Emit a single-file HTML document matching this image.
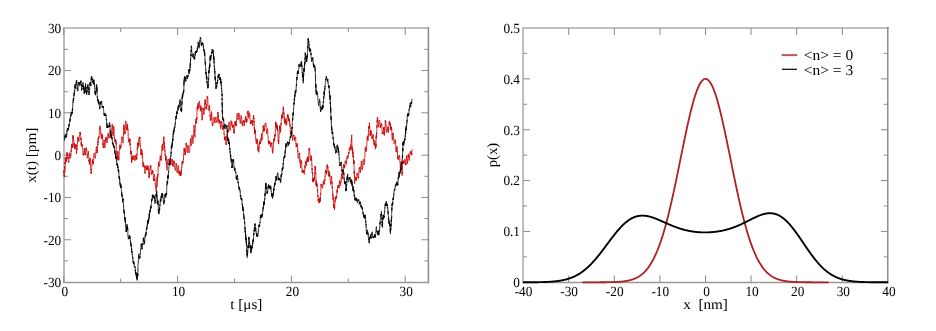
<!DOCTYPE html>
<html><head><meta charset="utf-8"><title>figure</title>
<style>html,body{margin:0;padding:0;background:#fff;width:936px;height:331px;overflow:hidden}svg{display:block}text{text-rendering:geometricPrecision}</style>
</head><body>
<svg width="936" height="331" viewBox="0 0 936 331" font-family="'Liberation Serif', 'DejaVu Serif', serif">
<line x1="64.00" y1="27.00" x2="64.00" y2="283.35" stroke="#bdbdbd" stroke-width="2"/>
<line x1="63.00" y1="28.00" x2="429.20" y2="28.00" stroke="#bebebe" stroke-width="2"/>
<line x1="428.40" y1="27.00" x2="428.40" y2="283.35" stroke="#8a8a8a" stroke-width="1.5"/>
<line x1="63.00" y1="282.55" x2="429.20" y2="282.55" stroke="#999999" stroke-width="1.5"/>
<line x1="63.80" y1="282.55" x2="63.80" y2="275.55" stroke="#8c8c8c" stroke-width="1"/>
<line x1="63.80" y1="28.00" x2="63.80" y2="35.00" stroke="#8c8c8c" stroke-width="1"/>
<line x1="120.70" y1="282.55" x2="120.70" y2="278.55" stroke="#8c8c8c" stroke-width="1"/>
<line x1="120.70" y1="28.00" x2="120.70" y2="32.00" stroke="#8c8c8c" stroke-width="1"/>
<line x1="177.60" y1="282.55" x2="177.60" y2="275.55" stroke="#8c8c8c" stroke-width="1"/>
<line x1="177.60" y1="28.00" x2="177.60" y2="35.00" stroke="#8c8c8c" stroke-width="1"/>
<line x1="234.50" y1="282.55" x2="234.50" y2="278.55" stroke="#8c8c8c" stroke-width="1"/>
<line x1="234.50" y1="28.00" x2="234.50" y2="32.00" stroke="#8c8c8c" stroke-width="1"/>
<line x1="291.40" y1="282.55" x2="291.40" y2="275.55" stroke="#8c8c8c" stroke-width="1"/>
<line x1="291.40" y1="28.00" x2="291.40" y2="35.00" stroke="#8c8c8c" stroke-width="1"/>
<line x1="348.30" y1="282.55" x2="348.30" y2="278.55" stroke="#8c8c8c" stroke-width="1"/>
<line x1="348.30" y1="28.00" x2="348.30" y2="32.00" stroke="#8c8c8c" stroke-width="1"/>
<line x1="405.20" y1="282.55" x2="405.20" y2="275.55" stroke="#8c8c8c" stroke-width="1"/>
<line x1="405.20" y1="28.00" x2="405.20" y2="35.00" stroke="#8c8c8c" stroke-width="1"/>
<line x1="64.00" y1="260.90" x2="68.00" y2="260.90" stroke="#8c8c8c" stroke-width="1"/>
<line x1="428.40" y1="260.90" x2="424.40" y2="260.90" stroke="#8c8c8c" stroke-width="1"/>
<line x1="64.00" y1="239.75" x2="71.00" y2="239.75" stroke="#8c8c8c" stroke-width="1"/>
<line x1="428.40" y1="239.75" x2="421.40" y2="239.75" stroke="#8c8c8c" stroke-width="1"/>
<line x1="64.00" y1="218.60" x2="68.00" y2="218.60" stroke="#8c8c8c" stroke-width="1"/>
<line x1="428.40" y1="218.60" x2="424.40" y2="218.60" stroke="#8c8c8c" stroke-width="1"/>
<line x1="64.00" y1="197.45" x2="71.00" y2="197.45" stroke="#8c8c8c" stroke-width="1"/>
<line x1="428.40" y1="197.45" x2="421.40" y2="197.45" stroke="#8c8c8c" stroke-width="1"/>
<line x1="64.00" y1="176.30" x2="68.00" y2="176.30" stroke="#8c8c8c" stroke-width="1"/>
<line x1="428.40" y1="176.30" x2="424.40" y2="176.30" stroke="#8c8c8c" stroke-width="1"/>
<line x1="64.00" y1="155.15" x2="71.00" y2="155.15" stroke="#8c8c8c" stroke-width="1"/>
<line x1="428.40" y1="155.15" x2="421.40" y2="155.15" stroke="#8c8c8c" stroke-width="1"/>
<line x1="64.00" y1="134.00" x2="68.00" y2="134.00" stroke="#8c8c8c" stroke-width="1"/>
<line x1="428.40" y1="134.00" x2="424.40" y2="134.00" stroke="#8c8c8c" stroke-width="1"/>
<line x1="64.00" y1="112.85" x2="71.00" y2="112.85" stroke="#8c8c8c" stroke-width="1"/>
<line x1="428.40" y1="112.85" x2="421.40" y2="112.85" stroke="#8c8c8c" stroke-width="1"/>
<line x1="64.00" y1="91.70" x2="68.00" y2="91.70" stroke="#8c8c8c" stroke-width="1"/>
<line x1="428.40" y1="91.70" x2="424.40" y2="91.70" stroke="#8c8c8c" stroke-width="1"/>
<line x1="64.00" y1="70.55" x2="71.00" y2="70.55" stroke="#8c8c8c" stroke-width="1"/>
<line x1="428.40" y1="70.55" x2="421.40" y2="70.55" stroke="#8c8c8c" stroke-width="1"/>
<line x1="64.00" y1="49.40" x2="68.00" y2="49.40" stroke="#8c8c8c" stroke-width="1"/>
<line x1="428.40" y1="49.40" x2="424.40" y2="49.40" stroke="#8c8c8c" stroke-width="1"/>
<line x1="523.10" y1="27.00" x2="523.10" y2="283.25" stroke="#bdbdbd" stroke-width="2"/>
<line x1="522.10" y1="28.00" x2="888.60" y2="28.00" stroke="#bebebe" stroke-width="2"/>
<line x1="887.80" y1="27.00" x2="887.80" y2="283.25" stroke="#8a8a8a" stroke-width="1.5"/>
<line x1="522.10" y1="282.45" x2="888.60" y2="282.45" stroke="#999999" stroke-width="1.5"/>
<line x1="568.70" y1="282.45" x2="568.70" y2="275.45" stroke="#8c8c8c" stroke-width="1"/>
<line x1="568.70" y1="28.00" x2="568.70" y2="35.00" stroke="#8c8c8c" stroke-width="1"/>
<line x1="614.30" y1="282.45" x2="614.30" y2="275.45" stroke="#8c8c8c" stroke-width="1"/>
<line x1="614.30" y1="28.00" x2="614.30" y2="35.00" stroke="#8c8c8c" stroke-width="1"/>
<line x1="659.90" y1="282.45" x2="659.90" y2="275.45" stroke="#8c8c8c" stroke-width="1"/>
<line x1="659.90" y1="28.00" x2="659.90" y2="35.00" stroke="#8c8c8c" stroke-width="1"/>
<line x1="705.50" y1="282.45" x2="705.50" y2="275.45" stroke="#8c8c8c" stroke-width="1"/>
<line x1="705.50" y1="28.00" x2="705.50" y2="35.00" stroke="#8c8c8c" stroke-width="1"/>
<line x1="751.10" y1="282.45" x2="751.10" y2="275.45" stroke="#8c8c8c" stroke-width="1"/>
<line x1="751.10" y1="28.00" x2="751.10" y2="35.00" stroke="#8c8c8c" stroke-width="1"/>
<line x1="796.70" y1="282.45" x2="796.70" y2="275.45" stroke="#8c8c8c" stroke-width="1"/>
<line x1="796.70" y1="28.00" x2="796.70" y2="35.00" stroke="#8c8c8c" stroke-width="1"/>
<line x1="842.30" y1="282.45" x2="842.30" y2="275.45" stroke="#8c8c8c" stroke-width="1"/>
<line x1="842.30" y1="28.00" x2="842.30" y2="35.00" stroke="#8c8c8c" stroke-width="1"/>
<line x1="523.10" y1="256.87" x2="527.10" y2="256.87" stroke="#8c8c8c" stroke-width="1"/>
<line x1="887.80" y1="256.87" x2="883.80" y2="256.87" stroke="#8c8c8c" stroke-width="1"/>
<line x1="523.10" y1="231.44" x2="530.10" y2="231.44" stroke="#8c8c8c" stroke-width="1"/>
<line x1="887.80" y1="231.44" x2="880.80" y2="231.44" stroke="#8c8c8c" stroke-width="1"/>
<line x1="523.10" y1="206.01" x2="527.10" y2="206.01" stroke="#8c8c8c" stroke-width="1"/>
<line x1="887.80" y1="206.01" x2="883.80" y2="206.01" stroke="#8c8c8c" stroke-width="1"/>
<line x1="523.10" y1="180.58" x2="530.10" y2="180.58" stroke="#8c8c8c" stroke-width="1"/>
<line x1="887.80" y1="180.58" x2="880.80" y2="180.58" stroke="#8c8c8c" stroke-width="1"/>
<line x1="523.10" y1="155.15" x2="527.10" y2="155.15" stroke="#8c8c8c" stroke-width="1"/>
<line x1="887.80" y1="155.15" x2="883.80" y2="155.15" stroke="#8c8c8c" stroke-width="1"/>
<line x1="523.10" y1="129.72" x2="530.10" y2="129.72" stroke="#8c8c8c" stroke-width="1"/>
<line x1="887.80" y1="129.72" x2="880.80" y2="129.72" stroke="#8c8c8c" stroke-width="1"/>
<line x1="523.10" y1="104.29" x2="527.10" y2="104.29" stroke="#8c8c8c" stroke-width="1"/>
<line x1="887.80" y1="104.29" x2="883.80" y2="104.29" stroke="#8c8c8c" stroke-width="1"/>
<line x1="523.10" y1="78.86" x2="530.10" y2="78.86" stroke="#8c8c8c" stroke-width="1"/>
<line x1="887.80" y1="78.86" x2="880.80" y2="78.86" stroke="#8c8c8c" stroke-width="1"/>
<line x1="523.10" y1="53.43" x2="527.10" y2="53.43" stroke="#8c8c8c" stroke-width="1"/>
<line x1="887.80" y1="53.43" x2="883.80" y2="53.43" stroke="#8c8c8c" stroke-width="1"/>
<polyline points="582.38,282.30 582.84,282.30 583.29,282.30 583.75,282.30 584.20,282.30 584.66,282.30 585.12,282.30 585.57,282.30 586.03,282.30 586.48,282.30 586.94,282.30 587.40,282.30 587.85,282.30 588.31,282.30 588.76,282.30 589.22,282.30 589.68,282.30 590.13,282.30 590.59,282.29 591.04,282.29 591.50,282.29 591.96,282.29 592.41,282.29 592.87,282.29 593.32,282.29 593.78,282.29 594.24,282.29 594.69,282.29 595.15,282.29 595.60,282.29 596.06,282.29 596.52,282.29 596.97,282.28 597.43,282.28 597.88,282.28 598.34,282.28 598.80,282.28 599.25,282.28 599.71,282.27 600.16,282.27 600.62,282.27 601.08,282.27 601.53,282.26 601.99,282.26 602.44,282.26 602.90,282.26 603.36,282.25 603.81,282.25 604.27,282.24 604.72,282.24 605.18,282.24 605.64,282.23 606.09,282.23 606.55,282.22 607.00,282.21 607.46,282.21 607.92,282.20 608.37,282.19 608.83,282.19 609.28,282.18 609.74,282.17 610.20,282.16 610.65,282.15 611.11,282.14 611.56,282.13 612.02,282.12 612.48,282.10 612.93,282.09 613.39,282.07 613.84,282.06 614.30,282.04 614.76,282.02 615.21,282.00 615.67,281.98 616.12,281.96 616.58,281.94 617.04,281.92 617.49,281.89 617.95,281.86 618.40,281.83 618.86,281.80 619.32,281.77 619.77,281.74 620.23,281.70 620.68,281.66 621.14,281.62 621.60,281.58 622.05,281.53 622.51,281.49 622.96,281.43 623.42,281.38 623.88,281.32 624.33,281.26 624.79,281.20 625.24,281.14 625.70,281.06 626.16,280.99 626.61,280.91 627.07,280.83 627.52,280.74 627.98,280.65 628.44,280.56 628.89,280.46 629.35,280.35 629.80,280.24 630.26,280.12 630.72,280.00 631.17,279.87 631.63,279.74 632.08,279.59 632.54,279.45 633.00,279.29 633.45,279.13 633.91,278.96 634.36,278.78 634.82,278.59 635.28,278.39 635.73,278.19 636.19,277.97 636.64,277.75 637.10,277.52 637.56,277.27 638.01,277.02 638.47,276.75 638.92,276.47 639.38,276.18 639.84,275.88 640.29,275.57 640.75,275.24 641.20,274.90 641.66,274.54 642.12,274.17 642.57,273.79 643.03,273.39 643.48,272.97 643.94,272.54 644.40,272.10 644.85,271.63 645.31,271.15 645.76,270.65 646.22,270.13 646.68,269.60 647.13,269.04 647.59,268.46 648.04,267.87 648.50,267.25 648.96,266.62 649.41,265.96 649.87,265.27 650.32,264.57 650.78,263.84 651.24,263.09 651.69,262.32 652.15,261.52 652.60,260.70 653.06,259.85 653.52,258.98 653.97,258.08 654.43,257.15 654.88,256.20 655.34,255.22 655.80,254.22 656.25,253.18 656.71,252.12 657.16,251.03 657.62,249.91 658.08,248.76 658.53,247.58 658.99,246.38 659.44,245.14 659.90,243.88 660.36,242.58 660.81,241.25 661.27,239.90 661.72,238.51 662.18,237.10 662.64,235.65 663.09,234.17 663.55,232.66 664.00,231.13 664.46,229.56 664.92,227.96 665.37,226.34 665.83,224.68 666.28,222.99 666.74,221.28 667.20,219.54 667.65,217.77 668.11,215.97 668.56,214.14 669.02,212.29 669.48,210.41 669.93,208.50 670.39,206.57 670.84,204.61 671.30,202.63 671.76,200.63 672.21,198.60 672.67,196.56 673.12,194.49 673.58,192.40 674.04,190.29 674.49,188.17 674.95,186.03 675.40,183.87 675.86,181.69 676.32,179.51 676.77,177.31 677.23,175.10 677.68,172.88 678.14,170.65 678.60,168.41 679.05,166.17 679.51,163.92 679.96,161.67 680.42,159.42 680.88,157.17 681.33,154.92 681.79,152.67 682.24,150.42 682.70,148.18 683.16,145.95 683.61,143.73 684.07,141.52 684.52,139.32 684.98,137.13 685.44,134.97 685.89,132.81 686.35,130.68 686.80,128.57 687.26,126.48 687.72,124.41 688.17,122.38 688.63,120.36 689.08,118.38 689.54,116.43 690.00,114.51 690.45,112.63 690.91,110.78 691.36,108.97 691.82,107.20 692.28,105.47 692.73,103.78 693.19,102.14 693.64,100.54 694.10,98.99 694.56,97.48 695.01,96.03 695.47,94.63 695.92,93.28 696.38,91.98 696.84,90.74 697.29,89.55 697.75,88.43 698.20,87.36 698.66,86.35 699.12,85.40 699.57,84.51 700.03,83.68 700.48,82.92 700.94,82.22 701.40,81.59 701.85,81.02 702.31,80.51 702.76,80.08 703.22,79.71 703.68,79.40 704.13,79.16 704.59,79.00 705.04,78.89 705.50,78.86 705.96,78.89 706.41,79.00 706.87,79.16 707.32,79.40 707.78,79.71 708.24,80.08 708.69,80.51 709.15,81.02 709.60,81.59 710.06,82.22 710.52,82.92 710.97,83.68 711.43,84.51 711.88,85.40 712.34,86.35 712.80,87.36 713.25,88.43 713.71,89.55 714.16,90.74 714.62,91.98 715.08,93.28 715.53,94.63 715.99,96.03 716.44,97.48 716.90,98.99 717.36,100.54 717.81,102.14 718.27,103.78 718.72,105.47 719.18,107.20 719.64,108.97 720.09,110.78 720.55,112.63 721.00,114.51 721.46,116.43 721.92,118.38 722.37,120.36 722.83,122.38 723.28,124.41 723.74,126.48 724.20,128.57 724.65,130.68 725.11,132.81 725.56,134.97 726.02,137.13 726.48,139.32 726.93,141.52 727.39,143.73 727.84,145.95 728.30,148.18 728.76,150.42 729.21,152.67 729.67,154.92 730.12,157.17 730.58,159.42 731.04,161.67 731.49,163.92 731.95,166.17 732.40,168.41 732.86,170.65 733.32,172.88 733.77,175.10 734.23,177.31 734.68,179.51 735.14,181.69 735.60,183.87 736.05,186.03 736.51,188.17 736.96,190.29 737.42,192.40 737.88,194.49 738.33,196.56 738.79,198.60 739.24,200.63 739.70,202.63 740.16,204.61 740.61,206.57 741.07,208.50 741.52,210.41 741.98,212.29 742.44,214.14 742.89,215.97 743.35,217.77 743.80,219.54 744.26,221.28 744.72,222.99 745.17,224.68 745.63,226.34 746.08,227.96 746.54,229.56 747.00,231.13 747.45,232.66 747.91,234.17 748.36,235.65 748.82,237.10 749.28,238.51 749.73,239.90 750.19,241.25 750.64,242.58 751.10,243.88 751.56,245.14 752.01,246.38 752.47,247.58 752.92,248.76 753.38,249.91 753.84,251.03 754.29,252.12 754.75,253.18 755.20,254.22 755.66,255.22 756.12,256.20 756.57,257.15 757.03,258.08 757.48,258.98 757.94,259.85 758.40,260.70 758.85,261.52 759.31,262.32 759.76,263.09 760.22,263.84 760.68,264.57 761.13,265.27 761.59,265.96 762.04,266.62 762.50,267.25 762.96,267.87 763.41,268.46 763.87,269.04 764.32,269.60 764.78,270.13 765.24,270.65 765.69,271.15 766.15,271.63 766.60,272.10 767.06,272.54 767.52,272.97 767.97,273.39 768.43,273.79 768.88,274.17 769.34,274.54 769.80,274.90 770.25,275.24 770.71,275.57 771.16,275.88 771.62,276.18 772.08,276.47 772.53,276.75 772.99,277.02 773.44,277.27 773.90,277.52 774.36,277.75 774.81,277.97 775.27,278.19 775.72,278.39 776.18,278.59 776.64,278.78 777.09,278.96 777.55,279.13 778.00,279.29 778.46,279.45 778.92,279.59 779.37,279.74 779.83,279.87 780.28,280.00 780.74,280.12 781.20,280.24 781.65,280.35 782.11,280.46 782.56,280.56 783.02,280.65 783.48,280.74 783.93,280.83 784.39,280.91 784.84,280.99 785.30,281.06 785.76,281.14 786.21,281.20 786.67,281.26 787.12,281.32 787.58,281.38 788.04,281.43 788.49,281.49 788.95,281.53 789.40,281.58 789.86,281.62 790.32,281.66 790.77,281.70 791.23,281.74 791.68,281.77 792.14,281.80 792.60,281.83 793.05,281.86 793.51,281.89 793.96,281.92 794.42,281.94 794.88,281.96 795.33,281.98 795.79,282.00 796.24,282.02 796.70,282.04 797.16,282.06 797.61,282.07 798.07,282.09 798.52,282.10 798.98,282.12 799.44,282.13 799.89,282.14 800.35,282.15 800.80,282.16 801.26,282.17 801.72,282.18 802.17,282.19 802.63,282.19 803.08,282.20 803.54,282.21 804.00,282.21 804.45,282.22 804.91,282.23 805.36,282.23 805.82,282.24 806.28,282.24 806.73,282.24 807.19,282.25 807.64,282.25 808.10,282.26 808.56,282.26 809.01,282.26 809.47,282.26 809.92,282.27 810.38,282.27 810.84,282.27 811.29,282.27 811.75,282.28 812.20,282.28 812.66,282.28 813.12,282.28 813.57,282.28 814.03,282.28 814.48,282.29 814.94,282.29 815.40,282.29 815.85,282.29 816.31,282.29 816.76,282.29 817.22,282.29 817.68,282.29 818.13,282.29 818.59,282.29 819.04,282.29 819.50,282.29 819.96,282.29 820.41,282.29 820.87,282.30 821.32,282.30 821.78,282.30 822.24,282.30 822.69,282.30 823.15,282.30 823.60,282.30 824.06,282.30 824.52,282.30 824.97,282.30 825.43,282.30 825.88,282.30 826.34,282.30 826.80,282.30 827.25,282.30 827.71,282.30 828.16,282.30 828.62,282.30" fill="none" stroke="#ac2222" stroke-width="1.8" stroke-linejoin="round" />
<polyline points="523.10,282.29 523.56,282.28 524.01,282.28 524.47,282.28 524.92,282.28 525.38,282.28 525.84,282.28 526.29,282.28 526.75,282.28 527.20,282.27 527.66,282.27 528.12,282.27 528.57,282.27 529.03,282.27 529.48,282.26 529.94,282.26 530.40,282.26 530.85,282.25 531.31,282.25 531.76,282.25 532.22,282.25 532.68,282.24 533.13,282.24 533.59,282.23 534.04,282.23 534.50,282.22 534.96,282.22 535.41,282.21 535.87,282.21 536.32,282.20 536.78,282.20 537.24,282.19 537.69,282.18 538.15,282.18 538.60,282.17 539.06,282.16 539.52,282.15 539.97,282.14 540.43,282.13 540.88,282.12 541.34,282.11 541.80,282.10 542.25,282.09 542.71,282.08 543.16,282.06 543.62,282.05 544.08,282.03 544.53,282.02 544.99,282.00 545.44,281.99 545.90,281.97 546.36,281.95 546.81,281.93 547.27,281.91 547.72,281.89 548.18,281.86 548.64,281.84 549.09,281.81 549.55,281.79 550.00,281.76 550.46,281.73 550.92,281.70 551.37,281.67 551.83,281.63 552.28,281.60 552.74,281.56 553.20,281.52 553.65,281.48 554.11,281.44 554.56,281.40 555.02,281.35 555.48,281.30 555.93,281.25 556.39,281.20 556.84,281.15 557.30,281.09 557.76,281.03 558.21,280.97 558.67,280.91 559.12,280.84 559.58,280.77 560.04,280.70 560.49,280.62 560.95,280.55 561.40,280.46 561.86,280.38 562.32,280.29 562.77,280.20 563.23,280.11 563.68,280.01 564.14,279.91 564.60,279.80 565.05,279.69 565.51,279.58 565.96,279.46 566.42,279.34 566.88,279.22 567.33,279.09 567.79,278.95 568.24,278.82 568.70,278.67 569.16,278.52 569.61,278.37 570.07,278.21 570.52,278.05 570.98,277.88 571.44,277.71 571.89,277.53 572.35,277.34 572.80,277.15 573.26,276.96 573.72,276.76 574.17,276.55 574.63,276.34 575.08,276.12 575.54,275.89 576.00,275.66 576.45,275.42 576.91,275.18 577.36,274.92 577.82,274.67 578.28,274.40 578.73,274.13 579.19,273.85 579.64,273.57 580.10,273.28 580.56,272.98 581.01,272.67 581.47,272.36 581.92,272.04 582.38,271.71 582.84,271.38 583.29,271.03 583.75,270.68 584.20,270.33 584.66,269.96 585.12,269.59 585.57,269.21 586.03,268.83 586.48,268.43 586.94,268.03 587.40,267.62 587.85,267.21 588.31,266.78 588.76,266.35 589.22,265.92 589.68,265.47 590.13,265.02 590.59,264.56 591.04,264.10 591.50,263.62 591.96,263.14 592.41,262.66 592.87,262.16 593.32,261.66 593.78,261.16 594.24,260.65 594.69,260.13 595.15,259.60 595.60,259.07 596.06,258.53 596.52,257.99 596.97,257.45 597.43,256.89 597.88,256.33 598.34,255.77 598.80,255.20 599.25,254.63 599.71,254.06 600.16,253.48 600.62,252.89 601.08,252.30 601.53,251.71 601.99,251.12 602.44,250.52 602.90,249.92 603.36,249.31 603.81,248.71 604.27,248.10 604.72,247.49 605.18,246.88 605.64,246.27 606.09,245.66 606.55,245.04 607.00,244.43 607.46,243.82 607.92,243.20 608.37,242.59 608.83,241.98 609.28,241.37 609.74,240.76 610.20,240.15 610.65,239.55 611.11,238.94 611.56,238.34 612.02,237.74 612.48,237.15 612.93,236.56 613.39,235.97 613.84,235.39 614.30,234.81 614.76,234.23 615.21,233.66 615.67,233.10 616.12,232.54 616.58,231.99 617.04,231.44 617.49,230.90 617.95,230.36 618.40,229.84 618.86,229.32 619.32,228.80 619.77,228.30 620.23,227.80 620.68,227.31 621.14,226.83 621.60,226.35 622.05,225.89 622.51,225.43 622.96,224.99 623.42,224.55 623.88,224.12 624.33,223.70 624.79,223.30 625.24,222.90 625.70,222.51 626.16,222.13 626.61,221.76 627.07,221.40 627.52,221.05 627.98,220.72 628.44,220.39 628.89,220.08 629.35,219.77 629.80,219.48 630.26,219.19 630.72,218.92 631.17,218.66 631.63,218.41 632.08,218.17 632.54,217.94 633.00,217.73 633.45,217.52 633.91,217.33 634.36,217.14 634.82,216.97 635.28,216.81 635.73,216.66 636.19,216.51 636.64,216.38 637.10,216.27 637.56,216.16 638.01,216.06 638.47,215.97 638.92,215.89 639.38,215.82 639.84,215.77 640.29,215.72 640.75,215.68 641.20,215.65 641.66,215.63 642.12,215.62 642.57,215.62 643.03,215.63 643.48,215.64 643.94,215.67 644.40,215.70 644.85,215.74 645.31,215.79 645.76,215.85 646.22,215.91 646.68,215.98 647.13,216.06 647.59,216.15 648.04,216.24 648.50,216.34 648.96,216.45 649.41,216.56 649.87,216.68 650.32,216.80 650.78,216.93 651.24,217.06 651.69,217.20 652.15,217.35 652.60,217.50 653.06,217.65 653.52,217.81 653.97,217.97 654.43,218.14 654.88,218.31 655.34,218.48 655.80,218.66 656.25,218.84 656.71,219.02 657.16,219.20 657.62,219.39 658.08,219.58 658.53,219.77 658.99,219.97 659.44,220.16 659.90,220.36 660.36,220.56 660.81,220.76 661.27,220.96 661.72,221.16 662.18,221.36 662.64,221.57 663.09,221.77 663.55,221.97 664.00,222.18 664.46,222.38 664.92,222.59 665.37,222.79 665.83,222.99 666.28,223.19 666.74,223.40 667.20,223.60 667.65,223.80 668.11,224.00 668.56,224.19 669.02,224.39 669.48,224.59 669.93,224.78 670.39,224.97 670.84,225.16 671.30,225.35 671.76,225.54 672.21,225.73 672.67,225.91 673.12,226.09 673.58,226.27 674.04,226.45 674.49,226.63 674.95,226.80 675.40,226.97 675.86,227.14 676.32,227.31 676.77,227.47 677.23,227.63 677.68,227.79 678.14,227.95 678.60,228.10 679.05,228.26 679.51,228.40 679.96,228.55 680.42,228.69 680.88,228.84 681.33,228.97 681.79,229.11 682.24,229.24 682.70,229.37 683.16,229.50 683.61,229.63 684.07,229.75 684.52,229.87 684.98,229.98 685.44,230.10 685.89,230.21 686.35,230.32 686.80,230.42 687.26,230.52 687.72,230.62 688.17,230.72 688.63,230.82 689.08,230.91 689.54,231.00 690.00,231.08 690.45,231.17 690.91,231.25 691.36,231.32 691.82,231.40 692.28,231.47 692.73,231.54 693.19,231.61 693.64,231.67 694.10,231.73 694.56,231.79 695.01,231.85 695.47,231.90 695.92,231.95 696.38,232.00 696.84,232.04 697.29,232.09 697.75,232.13 698.20,232.16 698.66,232.20 699.12,232.23 699.57,232.26 700.03,232.29 700.48,232.31 700.94,232.34 701.40,232.36 701.85,232.37 702.31,232.39 702.76,232.40 703.22,232.41 703.68,232.42 704.13,232.42 704.59,232.42 705.04,232.42 705.50,232.42 705.96,232.42 706.41,232.41 706.87,232.40 707.32,232.39 707.78,232.37 708.24,232.36 708.69,232.34 709.15,232.31 709.60,232.29 710.06,232.26 710.52,232.24 710.97,232.20 711.43,232.17 711.88,232.13 712.34,232.10 712.80,232.06 713.25,232.01 713.71,231.97 714.16,231.92 714.62,231.87 715.08,231.82 715.53,231.76 715.99,231.70 716.44,231.64 716.90,231.58 717.36,231.51 717.81,231.45 718.27,231.38 718.72,231.30 719.18,231.23 719.64,231.15 720.09,231.07 720.55,230.98 721.00,230.90 721.46,230.81 721.92,230.72 722.37,230.62 722.83,230.53 723.28,230.43 723.74,230.32 724.20,230.22 724.65,230.11 725.11,230.00 725.56,229.88 726.02,229.77 726.48,229.65 726.93,229.53 727.39,229.40 727.84,229.27 728.30,229.14 728.76,229.01 729.21,228.87 729.67,228.73 730.12,228.59 730.58,228.44 731.04,228.29 731.49,228.14 731.95,227.98 732.40,227.83 732.86,227.67 733.32,227.50 733.77,227.34 734.23,227.17 734.68,226.99 735.14,226.82 735.60,226.64 736.05,226.46 736.51,226.28 736.96,226.09 737.42,225.90 737.88,225.71 738.33,225.52 738.79,225.32 739.24,225.12 739.70,224.92 740.16,224.72 740.61,224.51 741.07,224.30 741.52,224.09 741.98,223.88 742.44,223.66 742.89,223.45 743.35,223.23 743.80,223.01 744.26,222.79 744.72,222.56 745.17,222.34 745.63,222.11 746.08,221.89 746.54,221.66 747.00,221.43 747.45,221.20 747.91,220.97 748.36,220.74 748.82,220.51 749.28,220.28 749.73,220.05 750.19,219.82 750.64,219.59 751.10,219.36 751.56,219.13 752.01,218.90 752.47,218.67 752.92,218.45 753.38,218.22 753.84,218.00 754.29,217.78 754.75,217.56 755.20,217.35 755.66,217.14 756.12,216.93 756.57,216.72 757.03,216.52 757.48,216.32 757.94,216.12 758.40,215.93 758.85,215.74 759.31,215.56 759.76,215.38 760.22,215.21 760.68,215.04 761.13,214.88 761.59,214.72 762.04,214.57 762.50,214.43 762.96,214.29 763.41,214.16 763.87,214.04 764.32,213.92 764.78,213.81 765.24,213.71 765.69,213.62 766.15,213.54 766.60,213.46 767.06,213.39 767.52,213.34 767.97,213.29 768.43,213.25 768.88,213.22 769.34,213.20 769.80,213.20 770.25,213.20 770.71,213.21 771.16,213.24 771.62,213.27 772.08,213.32 772.53,213.37 772.99,213.44 773.44,213.52 773.90,213.62 774.36,213.72 774.81,213.84 775.27,213.97 775.72,214.11 776.18,214.26 776.64,214.43 777.09,214.60 777.55,214.79 778.00,215.00 778.46,215.22 778.92,215.44 779.37,215.69 779.83,215.94 780.28,216.21 780.74,216.49 781.20,216.78 781.65,217.09 782.11,217.41 782.56,217.74 783.02,218.08 783.48,218.44 783.93,218.81 784.39,219.19 784.84,219.58 785.30,219.99 785.76,220.41 786.21,220.83 786.67,221.28 787.12,221.73 787.58,222.19 788.04,222.66 788.49,223.15 788.95,223.64 789.40,224.15 789.86,224.67 790.32,225.19 790.77,225.73 791.23,226.27 791.68,226.82 792.14,227.39 792.60,227.96 793.05,228.54 793.51,229.12 793.96,229.72 794.42,230.32 794.88,230.93 795.33,231.54 795.79,232.16 796.24,232.79 796.70,233.42 797.16,234.06 797.61,234.70 798.07,235.35 798.52,236.00 798.98,236.65 799.44,237.31 799.89,237.97 800.35,238.63 800.80,239.30 801.26,239.97 801.72,240.64 802.17,241.31 802.63,241.98 803.08,242.65 803.54,243.32 804.00,243.99 804.45,244.66 804.91,245.33 805.36,246.00 805.82,246.67 806.28,247.34 806.73,248.00 807.19,248.66 807.64,249.32 808.10,249.97 808.56,250.62 809.01,251.27 809.47,251.91 809.92,252.55 810.38,253.19 810.84,253.82 811.29,254.44 811.75,255.06 812.20,255.67 812.66,256.28 813.12,256.88 813.57,257.48 814.03,258.07 814.48,258.65 814.94,259.23 815.40,259.79 815.85,260.36 816.31,260.91 816.76,261.46 817.22,262.00 817.68,262.53 818.13,263.05 818.59,263.57 819.04,264.07 819.50,264.57 819.96,265.06 820.41,265.55 820.87,266.02 821.32,266.49 821.78,266.95 822.24,267.39 822.69,267.84 823.15,268.27 823.60,268.69 824.06,269.11 824.52,269.51 824.97,269.91 825.43,270.30 825.88,270.68 826.34,271.06 826.80,271.42 827.25,271.78 827.71,272.12 828.16,272.46 828.62,272.79 829.08,273.12 829.53,273.43 829.99,273.74 830.44,274.04 830.90,274.33 831.36,274.61 831.81,274.89 832.27,275.16 832.72,275.42 833.18,275.67 833.64,275.92 834.09,276.16 834.55,276.39 835.00,276.61 835.46,276.83 835.92,277.04 836.37,277.25 836.83,277.45 837.28,277.64 837.74,277.83 838.20,278.01 838.65,278.18 839.11,278.35 839.56,278.51 840.02,278.67 840.48,278.82 840.93,278.97 841.39,279.11 841.84,279.25 842.30,279.38 842.76,279.51 843.21,279.63 843.67,279.75 844.12,279.86 844.58,279.97 845.04,280.08 845.49,280.18 845.95,280.28 846.40,280.37 846.86,280.46 847.32,280.54 847.77,280.63 848.23,280.71 848.68,280.78 849.14,280.86 849.60,280.93 850.05,280.99 850.51,281.06 850.96,281.12 851.42,281.18 851.88,281.23 852.33,281.29 852.79,281.34 853.24,281.39 853.70,281.43 854.16,281.48 854.61,281.52 855.07,281.56 855.52,281.60 855.98,281.64 856.44,281.67 856.89,281.71 857.35,281.74 857.80,281.77 858.26,281.80 858.72,281.83 859.17,281.85 859.63,281.88 860.08,281.90 860.54,281.92 861.00,281.94 861.45,281.96 861.91,281.98 862.36,282.00 862.82,282.02 863.28,282.04 863.73,282.05 864.19,282.07 864.64,282.08 865.10,282.09 865.56,282.10 866.01,282.12 866.47,282.13 866.92,282.14 867.38,282.15 867.84,282.16 868.29,282.17 868.75,282.17 869.20,282.18 869.66,282.19 870.12,282.20 870.57,282.20 871.03,282.21 871.48,282.22 871.94,282.22 872.40,282.23 872.85,282.23 873.31,282.24 873.76,282.24 874.22,282.24 874.68,282.25 875.13,282.25 875.59,282.25 876.04,282.26 876.50,282.26 876.96,282.26 877.41,282.27 877.87,282.27 878.32,282.27 878.78,282.27 879.24,282.27 879.69,282.28 880.15,282.28 880.60,282.28 881.06,282.28 881.52,282.28 881.97,282.28 882.43,282.28 882.88,282.29 883.34,282.29 883.80,282.29 884.25,282.29 884.71,282.29 885.16,282.29 885.62,282.29 886.08,282.29 886.53,282.29 886.99,282.29 887.44,282.29 887.90,282.29" fill="none" stroke="#000" stroke-width="1.9" stroke-linejoin="round" />
<polyline points="63.50,170.30 63.57,170.75 63.64,171.88 63.71,170.85 63.79,173.15 63.86,172.55 63.93,173.13 64.00,175.44 64.07,174.81 64.14,175.75 64.21,175.96 64.29,177.21 64.36,175.42 64.43,174.96 64.50,176.35 64.52,175.00 64.54,174.69 64.56,173.74 64.59,173.64 64.61,172.21 64.63,172.23 64.65,171.46 64.67,170.78 64.69,170.18 64.71,170.12 64.73,170.92 64.76,172.00 64.78,170.42 64.80,168.03 64.82,166.73 64.84,169.38 64.86,167.27 64.88,167.14 64.90,167.37 64.93,166.57 64.95,166.01 64.97,166.78 64.99,165.72 65.01,165.61 65.03,163.87 65.05,162.81 65.07,163.35 65.10,162.28 65.12,163.38 65.14,163.44 65.16,163.95 65.18,163.78 65.20,164.26 65.22,161.85 65.24,162.08 65.27,162.54 65.29,160.51 65.31,159.33 65.33,159.47 65.35,157.68 65.37,159.08 65.39,158.56 65.41,158.32 65.44,157.50 65.46,157.87 65.48,159.70 65.50,158.94 65.55,159.10 65.60,159.42 65.65,158.76 65.70,159.27 65.75,159.07 65.80,158.63 65.85,161.02 65.90,161.14 65.95,161.41 66.00,161.27 66.05,159.82 66.10,161.98 66.15,160.90 66.20,160.79 66.25,160.02 66.30,161.30 66.35,161.32 66.40,160.34 66.45,159.89 66.50,157.22 66.55,158.02 66.60,158.48 66.65,157.40 66.70,156.54 66.75,154.90 66.80,152.97 66.86,152.26 66.91,151.94 66.97,154.16 67.02,154.15 67.08,154.27 67.13,153.54 67.19,153.82 67.24,155.36 67.30,154.93 67.36,154.30 67.41,154.30 67.47,154.91 67.52,154.55 67.58,154.27 67.63,153.51 67.69,154.31 67.74,155.74 67.80,158.54 67.86,158.71 67.91,157.63 67.97,158.87 68.02,156.56 68.08,157.99 68.13,158.54 68.19,159.48 68.24,160.36 68.30,161.49 68.36,161.71 68.42,161.49 68.48,162.50 68.54,162.50 68.60,162.50 68.66,162.50 68.72,162.50 68.78,162.30 68.84,162.50 68.90,162.50 68.96,160.86 69.02,160.49 69.08,159.91 69.14,158.36 69.20,157.12 69.26,155.52 69.32,155.09 69.38,155.61 69.44,152.81 69.50,153.40 69.59,152.90 69.68,154.01 69.78,153.44 69.87,155.10 69.96,155.42 70.05,155.19 70.14,157.37 70.23,158.20 70.32,158.20 70.42,157.16 70.51,157.36 70.60,156.95 70.63,157.88 70.67,156.78 70.70,156.15 70.74,155.48 70.77,155.79 70.81,154.77 70.84,154.46 70.88,154.93 70.91,153.25 70.94,152.75 70.98,152.88 71.01,152.60 71.05,152.19 71.08,151.40 71.12,150.82 71.15,151.58 71.18,150.45 71.22,151.41 71.25,150.61 71.29,149.61 71.32,149.90 71.36,150.14 71.39,148.75 71.42,146.98 71.46,147.19 71.49,146.91 71.53,146.79 71.56,148.40 71.60,148.20 71.63,145.05 71.67,145.98 71.70,145.50 71.73,146.79 71.77,147.06 71.80,145.85 71.84,145.68 71.87,144.77 71.91,143.78 71.94,144.75 71.97,145.68 72.01,145.00 72.04,146.41 72.08,144.74 72.11,145.50 72.15,146.47 72.18,146.51 72.22,146.16 72.25,146.27 72.28,148.04 72.32,147.29 72.35,145.89 72.39,146.56 72.42,144.41 72.46,144.82 72.49,144.77 72.52,143.24 72.56,142.15 72.59,141.81 72.63,141.12 72.66,139.35 72.70,137.60 72.73,138.38 72.77,138.42 72.80,137.11 72.86,135.85 72.91,135.23 72.97,136.18 73.03,135.91 73.09,137.14 73.14,136.31 73.20,136.60 73.26,137.91 73.32,136.77 73.38,138.86 73.43,139.01 73.49,139.53 73.55,138.78 73.60,140.98 73.66,140.73 73.72,141.00 73.78,141.18 73.83,142.86 73.89,143.79 73.95,144.19 74.01,146.13 74.06,147.36 74.12,146.39 74.18,144.73 74.24,145.50 74.30,142.76 74.35,144.87 74.41,144.58 74.47,146.06 74.52,146.24 74.58,147.02 74.64,147.10 74.70,148.00 74.75,149.10 74.81,148.40 74.87,147.04 74.93,146.58 74.98,147.29 75.04,148.43 75.10,147.05 75.16,146.76 75.22,145.73 75.29,147.08 75.35,146.66 75.41,145.24 75.47,147.33 75.54,144.56 75.60,144.11 75.66,144.10 75.72,145.36 75.79,144.55 75.85,144.77 75.91,146.61 75.97,147.47 76.04,147.79 76.10,148.11 76.16,147.83 76.22,146.85 76.29,148.21 76.35,148.37 76.41,150.34 76.47,151.80 76.54,153.94 76.60,153.85 76.63,153.16 76.67,152.80 76.70,151.62 76.74,151.61 76.77,149.33 76.80,148.22 76.84,147.90 76.87,150.06 76.91,147.82 76.94,146.63 76.97,146.17 77.01,145.20 77.04,145.31 77.08,144.68 77.11,145.58 77.15,145.79 77.18,146.54 77.21,145.40 77.25,145.53 77.28,144.66 77.32,144.50 77.35,143.98 77.38,143.89 77.42,143.06 77.45,143.36 77.49,143.84 77.52,143.41 77.55,142.49 77.59,141.15 77.62,141.88 77.66,141.96 77.69,141.09 77.72,140.60 77.76,138.39 77.79,139.24 77.83,138.81 77.86,138.33 77.90,139.17 77.93,138.39 77.96,138.46 78.00,138.75 78.03,137.27 78.07,136.69 78.10,137.90 78.19,140.32 78.27,139.56 78.36,139.64 78.44,141.50 78.53,141.50 78.61,141.50 78.70,141.50 78.78,141.50 78.87,141.50 78.95,141.50 79.04,141.50 79.12,140.96 79.21,140.19 79.29,138.50 79.38,137.58 79.46,136.51 79.55,135.00 79.63,134.42 79.72,134.09 79.80,133.52 79.89,132.23 79.97,133.44 80.06,132.78 80.14,132.00 80.23,132.00 80.31,133.03 80.40,134.04 80.44,134.17 80.48,133.04 80.51,134.03 80.55,134.69 80.59,133.72 80.62,134.47 80.66,135.75 80.70,135.81 80.74,137.54 80.78,137.72 80.81,139.77 80.85,139.36 80.89,138.89 80.93,138.41 80.96,139.52 81.00,138.45 81.04,139.73 81.08,140.25 81.11,141.00 81.15,142.19 81.19,142.82 81.23,145.28 81.26,143.30 81.30,142.76 81.34,143.39 81.38,143.92 81.41,143.63 81.45,141.91 81.49,142.36 81.53,143.00 81.56,144.13 81.60,144.51 81.64,145.59 81.68,145.41 81.71,146.56 81.75,146.18 81.79,146.31 81.83,145.68 81.86,144.65 81.90,146.03 81.98,145.70 82.05,145.00 82.13,144.10 82.21,144.36 82.28,144.81 82.36,145.34 82.44,147.21 82.51,147.52 82.59,147.49 82.67,147.52 82.74,148.91 82.82,148.92 82.90,151.91 82.97,152.86 83.05,153.39 83.13,155.15 83.20,155.20 83.28,154.20 83.36,155.01 83.43,155.20 83.51,155.20 83.59,155.10 83.66,155.20 83.74,155.20 83.82,152.92 83.89,154.96 83.97,154.33 84.05,151.15 84.12,151.42 84.20,151.04 84.29,149.50 84.38,148.37 84.48,149.93 84.57,149.71 84.66,150.82 84.75,153.04 84.84,153.28 84.94,153.75 85.03,152.90 85.12,153.10 85.21,154.08 85.30,154.61 85.40,154.06 85.49,154.90 85.58,152.99 85.67,150.20 85.76,148.69 85.86,149.45 85.95,149.48 86.04,147.93 86.13,148.02 86.22,149.21 86.32,147.75 86.41,148.60 86.50,148.52 86.58,150.57 86.66,150.84 86.74,150.20 86.81,152.40 86.89,152.94 86.97,154.39 87.05,156.77 87.13,158.20 87.21,158.20 87.29,158.20 87.36,158.20 87.44,157.71 87.52,156.64 87.60,156.57 87.68,154.79 87.76,155.41 87.84,155.17 87.91,155.25 87.99,154.79 88.07,153.63 88.15,154.30 88.23,153.24 88.31,151.16 88.39,151.45 88.46,153.74 88.54,153.81 88.62,154.57 88.70,154.96 88.74,155.46 88.79,158.84 88.83,159.66 88.87,161.00 88.92,160.24 88.96,161.07 89.00,161.37 89.05,161.70 89.09,161.63 89.13,160.15 89.18,160.68 89.22,161.88 89.26,162.14 89.31,162.58 89.35,164.41 89.39,164.17 89.44,164.01 89.48,163.84 89.52,162.67 89.57,164.22 89.61,162.88 89.65,162.13 89.70,161.71 89.74,161.45 89.78,162.93 89.83,161.88 89.87,160.60 89.92,159.37 89.96,158.64 90.00,158.60 90.05,159.30 90.09,160.09 90.13,159.45 90.18,159.47 90.22,157.90 90.26,159.63 90.31,159.99 90.35,162.20 90.39,162.97 90.44,163.45 90.48,164.75 90.52,166.80 90.57,167.57 90.61,168.55 90.65,169.63 90.70,169.79 90.74,169.73 90.78,169.11 90.83,171.78 90.87,171.87 90.91,172.45 90.96,172.04 91.00,172.64 91.05,172.11 91.10,172.51 91.15,173.12 91.20,173.79 91.25,173.64 91.30,173.01 91.35,172.70 91.40,172.38 91.45,172.86 91.50,172.08 91.55,170.25 91.60,169.28 91.65,167.59 91.70,167.42 91.75,167.11 91.80,165.95 91.85,165.25 91.90,164.12 91.95,163.95 92.00,162.85 92.05,162.51 92.10,161.97 92.15,160.70 92.20,160.70 92.25,160.70 92.30,160.70 92.35,160.70 92.40,160.70 92.45,160.70 92.50,161.12 92.57,162.48 92.64,162.05 92.71,159.28 92.78,162.06 92.84,162.46 92.91,164.52 92.98,164.69 93.05,162.92 93.12,163.50 93.19,163.19 93.26,162.26 93.33,162.03 93.39,161.77 93.46,162.86 93.53,161.28 93.60,160.60 93.67,159.05 93.74,157.07 93.81,155.59 93.88,154.04 93.94,153.20 94.01,153.20 94.08,153.20 94.15,153.20 94.22,153.20 94.29,153.20 94.36,153.20 94.42,153.20 94.49,153.20 94.56,153.73 94.63,154.83 94.70,155.28 94.77,157.03 94.84,158.20 94.91,158.20 94.98,158.20 95.04,158.20 95.11,158.20 95.18,158.20 95.25,158.20 95.32,158.20 95.39,158.20 95.46,157.28 95.53,157.22 95.60,155.64 95.66,155.02 95.73,155.07 95.80,151.96 95.87,152.25 95.94,151.73 96.01,150.30 96.08,149.72 96.15,149.96 96.22,148.16 96.28,148.00 96.35,146.94 96.42,147.99 96.49,146.66 96.56,147.48 96.63,147.81 96.70,148.08 96.77,149.73 96.84,152.38 96.90,153.14 96.97,151.59 97.04,151.58 97.11,152.16 97.18,152.93 97.25,152.81 97.32,149.70 97.39,151.03 97.46,150.31 97.52,149.63 97.59,148.64 97.66,145.70 97.73,143.96 97.80,145.30 97.85,144.58 97.89,142.48 97.94,140.83 97.99,143.07 98.04,143.29 98.08,142.18 98.13,141.03 98.18,138.56 98.23,139.51 98.27,140.08 98.32,138.97 98.37,138.70 98.42,138.26 98.46,138.96 98.51,139.33 98.56,138.87 98.61,136.89 98.65,137.51 98.70,137.27 98.75,136.88 98.79,136.59 98.84,136.82 98.89,137.66 98.94,137.44 98.98,137.74 99.03,136.42 99.08,136.73 99.13,136.00 99.17,136.14 99.22,135.47 99.27,134.30 99.32,132.37 99.36,130.54 99.41,130.29 99.46,130.26 99.51,127.53 99.55,127.53 99.60,128.88 99.65,128.22 99.69,128.54 99.74,127.40 99.79,126.10 99.84,126.10 99.88,126.10 99.93,126.10 99.98,126.10 100.03,126.10 100.07,126.10 100.12,126.10 100.17,126.10 100.22,126.10 100.26,126.10 100.31,126.10 100.36,126.10 100.41,126.10 100.45,127.28 100.50,128.43 100.55,128.54 100.60,131.82 100.65,132.20 100.70,133.23 100.75,133.27 100.81,132.44 100.86,132.27 100.91,132.48 100.96,134.43 101.01,134.18 101.06,135.16 101.11,135.35 101.16,134.56 101.21,134.71 101.26,135.01 101.31,137.24 101.36,138.85 101.42,137.60 101.47,138.19 101.52,136.78 101.57,136.70 101.62,137.80 101.67,135.83 101.72,135.50 101.77,134.84 101.82,136.47 101.87,136.38 101.92,135.25 101.97,135.25 102.03,136.21 102.08,134.88 102.13,134.12 102.18,134.48 102.23,134.30 102.28,135.20 102.33,135.11 102.38,135.23 102.43,136.18 102.48,138.01 102.53,135.83 102.58,136.47 102.64,137.42 102.69,139.18 102.74,140.40 102.79,141.66 102.84,143.62 102.89,143.82 102.94,145.07 102.99,145.12 103.04,143.24 103.09,145.22 103.14,145.73 103.19,146.29 103.25,147.56 103.30,146.41 103.35,146.00 103.40,147.90 103.45,146.88 103.50,146.78 103.58,145.82 103.67,145.40 103.75,143.71 103.83,142.86 103.92,141.19 104.00,139.80 104.08,140.51 104.17,141.71 104.25,141.55 104.33,141.20 104.42,142.20 104.50,142.41 104.58,144.16 104.67,145.82 104.75,147.90 104.83,147.90 104.92,147.90 105.00,147.90 105.08,147.90 105.17,145.24 105.25,141.81 105.33,141.99 105.42,139.69 105.50,140.98 105.58,138.35 105.67,137.55 105.75,137.78 105.83,138.50 105.92,137.50 106.00,137.62 106.09,136.84 106.17,137.62 106.26,139.74 106.34,138.54 106.43,140.01 106.51,141.19 106.60,142.50 106.69,142.50 106.77,142.50 106.86,142.50 106.94,142.50 107.03,142.50 107.11,142.50 107.20,142.50 107.29,142.50 107.37,142.02 107.46,142.33 107.54,140.52 107.63,138.20 107.71,138.82 107.80,135.38 107.89,136.11 107.97,134.57 108.06,133.00 108.14,133.00 108.23,133.00 108.31,133.01 108.40,133.77 108.48,137.04 108.56,137.39 108.64,138.00 108.73,138.00 108.81,138.00 108.89,138.00 108.97,138.00 109.05,138.00 109.13,138.00 109.22,138.00 109.30,138.00 109.38,138.00 109.46,138.00 109.54,136.86 109.62,136.35 109.71,135.76 109.79,133.53 109.87,132.09 109.95,131.89 110.03,131.26 110.11,130.97 110.20,130.06 110.28,131.55 110.36,132.09 110.44,132.31 110.52,134.92 110.60,137.49 110.69,138.00 110.77,137.55 110.85,137.42 110.93,136.32 111.01,134.97 111.09,134.16 111.18,135.01 111.26,135.32 111.34,134.03 111.42,132.20 111.50,130.51 111.58,129.35 111.67,129.61 111.75,129.89 111.83,129.07 111.91,127.64 111.99,127.06 112.07,125.58 112.16,124.67 112.24,124.10 112.32,125.46 112.40,125.02 112.46,127.79 112.52,127.54 112.58,129.39 112.64,131.15 112.70,131.51 112.76,133.72 112.81,133.48 112.87,134.22 112.93,135.15 112.99,135.81 113.05,135.85 113.11,134.89 113.17,135.14 113.23,133.95 113.29,131.74 113.35,134.16 113.41,132.67 113.47,130.86 113.52,129.52 113.58,129.24 113.64,127.02 113.70,125.98 113.76,126.07 113.82,127.21 113.88,128.18 113.94,129.96 114.00,129.31 114.06,130.75 114.12,131.89 114.18,133.56 114.23,134.61 114.29,136.01 114.35,138.50 114.41,137.81 114.47,139.40 114.53,139.50 114.59,139.37 114.65,140.08 114.71,140.79 114.77,141.61 114.83,141.88 114.89,141.90 114.94,141.90 115.00,141.58 115.06,140.59 115.12,141.90 115.18,141.90 115.24,141.23 115.30,139.73 115.33,140.15 115.36,141.09 115.40,141.01 115.43,141.45 115.46,141.50 115.49,142.33 115.52,140.64 115.55,140.65 115.59,140.12 115.62,139.42 115.65,139.98 115.68,140.61 115.71,139.70 115.74,140.00 115.78,141.44 115.81,141.51 115.84,141.23 115.87,142.04 115.90,140.94 115.93,141.96 115.97,142.42 116.00,142.97 116.03,143.02 116.06,143.49 116.09,144.39 116.13,142.40 116.16,144.05 116.19,145.81 116.22,145.57 116.25,145.90 116.28,147.01 116.32,148.77 116.35,149.63 116.38,150.45 116.41,151.78 116.44,151.05 116.47,150.95 116.51,152.39 116.54,154.13 116.57,154.45 116.60,154.61 116.63,154.19 116.67,154.16 116.70,154.63 116.73,153.52 116.76,155.32 116.79,155.87 116.82,157.07 116.86,156.09 116.89,156.93 116.92,157.94 116.95,158.86 116.98,157.99 117.01,157.50 117.05,158.35 117.08,158.10 117.11,158.94 117.14,158.70 117.17,157.26 117.20,158.45 117.24,158.21 117.27,159.93 117.30,159.83 117.37,159.15 117.45,157.15 117.52,156.29 117.60,153.66 117.67,151.89 117.74,152.15 117.82,151.07 117.89,152.99 117.97,152.12 118.04,152.67 118.11,153.28 118.19,155.24 118.26,154.63 118.34,155.68 118.41,155.92 118.49,158.46 118.56,157.80 118.63,159.83 118.71,158.57 118.78,160.40 118.86,159.17 118.93,158.81 119.00,157.95 119.08,157.97 119.15,155.85 119.23,154.53 119.30,153.56 119.35,152.91 119.41,152.08 119.46,151.46 119.52,150.33 119.57,149.57 119.63,147.63 119.68,148.43 119.74,146.03 119.79,145.44 119.85,145.67 119.90,144.65 119.96,145.63 120.01,146.04 120.07,146.82 120.12,147.23 120.18,147.93 120.23,148.42 120.29,149.14 120.34,148.49 120.40,148.54 120.45,148.87 120.51,147.59 120.56,147.63 120.62,147.56 120.67,147.15 120.73,147.74 120.78,145.79 120.84,145.66 120.89,145.55 120.95,146.44 121.00,146.99 121.08,146.70 121.16,144.95 121.24,143.53 121.31,141.78 121.39,140.31 121.47,138.33 121.55,136.90 121.63,136.90 121.71,136.90 121.79,136.90 121.86,136.90 121.94,136.90 122.02,136.90 122.10,136.90 122.18,136.90 122.26,136.90 122.34,136.90 122.41,136.90 122.49,136.96 122.57,138.73 122.65,139.75 122.73,140.80 122.81,141.49 122.89,143.15 122.96,142.54 123.04,141.92 123.12,141.00 123.20,140.98 123.25,139.11 123.31,137.42 123.36,136.03 123.41,135.03 123.46,135.20 123.52,134.05 123.57,131.71 123.62,128.91 123.67,127.31 123.73,125.71 123.78,126.46 123.83,127.24 123.88,127.38 123.94,124.67 123.99,127.78 124.04,129.05 124.09,127.75 124.15,128.91 124.20,128.30 124.25,130.58 124.31,130.49 124.36,131.12 124.41,132.78 124.46,132.89 124.52,134.22 124.57,133.69 124.62,131.91 124.67,131.96 124.73,131.52 124.78,130.83 124.83,132.56 124.88,132.37 124.94,132.47 124.99,133.81 125.04,133.64 125.09,133.21 125.15,132.01 125.20,131.11 125.25,129.68 125.31,128.28 125.36,128.04 125.41,124.75 125.46,122.64 125.52,122.68 125.57,121.10 125.62,121.10 125.67,121.10 125.73,121.10 125.78,121.10 125.83,121.10 125.88,121.10 125.94,121.10 125.99,121.10 126.04,121.10 126.09,121.35 126.15,122.62 126.20,122.56 126.25,123.20 126.31,124.85 126.36,127.33 126.41,127.14 126.46,128.25 126.52,128.15 126.57,128.73 126.62,128.79 126.67,130.30 126.73,129.23 126.78,129.65 126.83,129.03 126.88,129.30 126.94,128.22 126.99,128.87 127.04,127.65 127.09,128.81 127.15,128.31 127.20,128.00 127.25,126.28 127.31,126.43 127.36,126.26 127.41,126.97 127.46,127.77 127.52,126.40 127.57,123.83 127.62,125.77 127.67,127.92 127.73,128.59 127.78,128.95 127.83,130.13 127.88,129.05 127.94,129.35 127.99,129.83 128.04,130.91 128.09,132.07 128.15,132.79 128.20,136.24 128.25,137.20 128.31,138.33 128.36,139.14 128.41,139.47 128.46,140.15 128.52,141.35 128.57,141.66 128.62,141.90 128.67,141.41 128.73,140.38 128.78,140.41 128.83,141.39 128.88,140.93 128.94,141.28 128.99,141.83 129.04,141.63 129.09,141.68 129.15,141.33 129.20,139.42 129.25,139.88 129.29,141.55 129.34,142.81 129.39,141.62 129.43,139.84 129.48,138.76 129.52,139.86 129.57,140.21 129.62,140.25 129.66,138.26 129.71,139.45 129.76,140.86 129.80,139.78 129.85,141.54 129.90,140.69 129.94,139.56 129.99,143.32 130.03,145.27 130.08,143.99 130.13,143.87 130.17,142.96 130.22,145.42 130.27,146.62 130.31,147.54 130.36,147.50 130.40,148.12 130.45,148.55 130.50,149.32 130.54,149.65 130.59,152.13 130.64,151.12 130.68,152.40 130.73,151.44 130.78,151.98 130.82,151.65 130.87,152.13 130.91,152.22 130.96,153.56 131.01,152.14 131.05,151.03 131.10,151.64 131.11,150.94 131.13,151.39 131.14,151.01 131.15,151.80 131.16,151.73 131.18,153.29 131.19,153.87 131.20,154.53 131.22,154.38 131.23,154.49 131.24,153.55 131.25,153.49 131.27,154.27 131.28,153.19 131.29,153.78 131.31,154.37 131.32,153.07 131.33,153.17 131.34,152.86 131.36,154.35 131.37,155.00 131.38,155.70 131.39,156.45 131.41,156.92 131.42,156.23 131.43,156.80 131.45,157.74 131.46,157.87 131.47,157.44 131.48,159.07 131.50,157.90 131.51,157.92 131.52,158.09 131.54,159.94 131.55,160.71 131.56,159.43 131.57,162.02 131.59,161.30 131.60,162.89 131.66,162.19 131.72,161.97 131.78,160.41 131.84,160.62 131.90,160.36 131.97,160.27 132.03,159.83 132.09,159.38 132.15,159.23 132.21,159.11 132.27,158.88 132.33,157.38 132.39,156.10 132.45,156.21 132.51,155.81 132.57,157.16 132.63,157.34 132.70,158.75 132.76,157.07 132.82,159.13 132.88,159.16 132.94,158.44 133.00,159.71 133.10,160.06 133.19,159.18 133.29,159.72 133.39,157.85 133.48,155.90 133.58,155.50 133.68,155.50 133.78,155.50 133.87,155.50 133.97,155.50 134.07,155.50 134.16,155.50 134.26,155.50 134.36,155.63 134.45,155.72 134.55,156.65 134.65,158.79 134.74,160.64 134.84,160.60 134.94,160.65 135.03,160.26 135.13,160.16 135.23,159.65 135.32,157.80 135.42,155.86 135.52,156.10 135.62,155.50 135.71,155.50 135.81,156.40 135.91,157.11 136.00,158.19 136.10,159.43 136.14,156.85 136.18,156.60 136.23,156.05 136.27,157.07 136.31,157.04 136.35,157.39 136.39,156.84 136.44,158.89 136.48,158.55 136.52,159.07 136.56,159.07 136.60,157.94 136.65,159.11 136.69,158.45 136.73,159.45 136.77,158.10 136.81,155.57 136.86,154.10 136.90,155.07 136.94,154.80 136.98,155.22 137.02,154.08 137.07,154.04 137.11,154.90 137.15,154.68 137.19,153.13 137.23,150.72 137.28,147.97 137.32,148.64 137.36,149.48 137.40,148.94 137.44,146.68 137.49,145.53 137.53,143.67 137.57,144.82 137.61,144.64 137.66,143.72 137.70,144.80 137.74,144.17 137.78,144.31 137.82,144.72 137.87,142.46 137.91,143.06 137.95,142.88 137.99,142.73 138.03,143.89 138.08,144.56 138.12,145.99 138.16,146.45 138.20,147.67 138.24,145.92 138.29,143.37 138.33,144.46 138.37,143.38 138.41,145.00 138.45,144.45 138.50,143.88 138.54,145.96 138.58,144.29 138.62,145.09 138.66,144.69 138.71,144.26 138.75,144.00 138.79,143.12 138.83,144.18 138.87,142.03 138.92,139.74 138.96,141.24 139.00,140.07 139.05,138.77 139.10,137.88 139.15,136.95 139.20,136.90 139.24,136.90 139.29,136.90 139.34,136.90 139.39,136.90 139.44,137.78 139.49,137.78 139.54,136.90 139.59,136.90 139.63,138.52 139.68,138.16 139.73,138.88 139.78,137.10 139.83,137.87 139.88,137.38 139.93,137.42 139.98,137.86 140.02,139.71 140.07,140.79 140.12,141.09 140.17,141.60 140.22,144.44 140.27,145.62 140.32,144.69 140.37,146.73 140.41,147.92 140.46,148.52 140.51,149.07 140.56,149.16 140.61,151.15 140.66,152.47 140.71,153.41 140.76,152.72 140.80,152.12 140.85,152.00 140.90,152.58 140.95,153.02 141.00,152.71 141.05,154.95 141.09,153.13 141.14,153.68 141.19,153.38 141.23,153.48 141.28,153.36 141.33,151.99 141.37,151.17 141.42,149.02 141.47,150.64 141.51,151.13 141.56,151.25 141.60,150.87 141.65,149.34 141.70,151.59 141.74,151.73 141.79,150.56 141.84,150.93 141.88,153.65 141.93,153.17 141.98,152.79 142.02,152.87 142.07,153.37 142.12,154.79 142.16,155.81 142.21,152.90 142.26,153.76 142.30,155.35 142.35,157.65 142.40,156.90 142.44,157.24 142.49,156.62 142.53,156.80 142.58,159.06 142.63,159.57 142.67,160.78 142.72,163.51 142.77,164.33 142.81,165.56 142.86,165.70 142.91,166.40 142.95,166.40 143.00,165.50 143.06,166.73 143.12,164.22 143.19,164.76 143.25,163.51 143.31,162.39 143.38,162.37 143.44,163.20 143.50,162.91 143.56,163.45 143.62,163.36 143.69,164.79 143.75,164.87 143.81,164.84 143.88,165.08 143.94,164.66 144.00,165.47 144.06,166.49 144.12,166.82 144.19,167.36 144.25,167.18 144.31,165.99 144.38,166.88 144.44,167.86 144.50,167.88 144.56,166.74 144.62,166.62 144.69,169.01 144.75,171.08 144.81,173.26 144.88,173.22 144.94,172.63 145.00,173.30 145.08,173.44 145.17,173.54 145.25,171.34 145.33,170.89 145.42,170.46 145.50,169.36 145.58,168.41 145.67,166.26 145.75,166.96 145.83,165.72 145.92,165.50 146.00,165.50 146.08,165.50 146.17,166.17 146.25,167.40 146.33,168.23 146.42,168.57 146.50,169.40 146.58,168.59 146.67,170.11 146.75,169.19 146.83,168.03 146.92,169.07 147.00,169.12 147.06,169.80 147.12,169.32 147.18,168.35 147.25,166.32 147.31,168.10 147.37,168.70 147.43,169.36 147.49,168.64 147.55,167.70 147.61,167.26 147.67,165.90 147.74,165.50 147.80,165.50 147.86,165.50 147.92,168.36 147.98,169.69 148.04,168.53 148.10,169.02 148.16,169.02 148.23,166.61 148.29,166.77 148.35,167.46 148.41,169.48 148.47,170.75 148.53,172.02 148.59,171.44 148.65,172.52 148.72,172.36 148.78,174.09 148.84,175.58 148.90,176.40 148.96,176.17 149.03,176.96 149.09,175.75 149.15,178.19 149.21,175.68 149.28,175.27 149.34,175.50 149.40,172.65 149.46,175.06 149.53,174.15 149.59,172.64 149.65,171.53 149.71,169.74 149.78,169.33 149.84,169.50 149.90,170.03 149.96,169.69 150.03,169.70 150.09,169.35 150.15,169.49 150.21,167.08 150.28,165.40 150.34,165.75 150.40,165.77 150.46,166.25 150.53,167.17 150.59,167.62 150.65,168.33 150.71,167.67 150.78,165.40 150.84,166.08 150.90,168.03 150.98,168.87 151.05,169.39 151.13,171.12 151.20,172.86 151.28,174.50 151.36,174.50 151.43,174.50 151.51,174.50 151.59,174.50 151.66,174.50 151.74,174.50 151.81,174.32 151.89,172.40 151.97,174.03 152.04,173.82 152.12,173.66 152.20,171.88 152.27,170.34 152.35,172.36 152.42,171.40 152.50,170.18 152.56,170.51 152.63,171.30 152.69,170.75 152.75,170.71 152.82,172.13 152.88,172.30 152.94,171.72 153.01,172.13 153.07,173.31 153.13,173.72 153.19,174.00 153.26,175.38 153.32,177.15 153.38,179.61 153.45,179.24 153.51,179.47 153.57,179.58 153.64,180.03 153.70,179.47 153.76,179.95 153.83,179.08 153.89,180.63 153.95,179.85 154.02,180.61 154.08,179.86 154.14,180.83 154.21,180.49 154.27,177.75 154.33,177.14 154.39,176.50 154.46,175.42 154.52,174.35 154.58,176.24 154.65,177.00 154.71,177.27 154.77,178.57 154.84,179.55 154.90,179.88 154.96,179.20 155.02,180.83 155.08,181.61 155.15,182.80 155.21,183.58 155.27,183.32 155.33,184.64 155.39,185.99 155.45,185.15 155.51,185.28 155.57,185.88 155.64,185.49 155.70,185.84 155.76,187.39 155.82,187.07 155.88,188.19 155.94,188.02 156.00,188.62 156.06,190.11 156.13,191.24 156.19,190.70 156.25,191.45 156.31,191.28 156.37,190.38 156.43,188.40 156.49,186.00 156.55,186.17 156.62,187.25 156.68,185.77 156.74,187.34 156.80,187.44 156.82,186.49 156.83,185.46 156.85,185.18 156.86,184.41 156.88,184.23 156.89,185.18 156.91,185.60 156.92,185.60 156.94,183.57 156.96,182.54 156.97,182.70 156.99,184.19 157.00,183.51 157.02,183.59 157.03,181.82 157.05,180.97 157.06,181.60 157.08,181.54 157.10,181.17 157.11,179.92 157.13,181.45 157.14,180.62 157.16,179.34 157.17,178.40 157.19,180.70 157.20,181.09 157.22,180.47 157.24,180.73 157.25,179.51 157.27,178.09 157.28,178.99 157.30,178.50 157.31,176.87 157.33,178.55 157.34,178.75 157.36,177.24 157.38,178.41 157.39,178.51 157.41,177.64 157.42,177.13 157.44,177.77 157.45,177.40 157.47,177.07 157.48,176.44 157.50,175.96 157.54,176.09 157.57,175.02 157.61,173.98 157.64,174.56 157.68,174.77 157.72,177.39 157.75,177.50 157.79,177.11 157.82,177.18 157.86,176.22 157.90,174.90 157.93,174.25 157.97,174.89 158.01,173.75 158.04,173.45 158.08,171.90 158.11,170.11 158.15,167.88 158.19,168.01 158.22,166.66 158.26,165.61 158.29,165.73 158.33,164.54 158.37,164.21 158.40,164.36 158.44,162.79 158.48,162.96 158.51,163.70 158.55,163.46 158.58,165.41 158.62,164.18 158.66,163.12 158.69,163.15 158.73,161.66 158.76,162.25 158.80,163.76 158.87,165.60 158.94,166.40 159.00,166.40 159.07,166.40 159.14,166.40 159.21,166.40 159.28,166.40 159.34,166.40 159.41,166.40 159.48,166.40 159.55,166.40 159.62,166.40 159.68,165.33 159.75,163.55 159.82,162.52 159.89,159.93 159.96,158.99 160.02,156.90 160.09,156.48 160.16,155.50 160.23,155.50 160.30,155.50 160.36,155.50 160.43,155.50 160.50,156.82 160.55,157.35 160.60,158.47 160.65,157.67 160.70,158.96 160.75,159.73 160.80,159.07 160.86,158.88 160.91,160.08 160.96,160.28 161.01,159.55 161.06,159.12 161.11,160.05 161.16,160.37 161.21,160.50 161.26,160.50 161.31,160.50 161.36,160.50 161.41,160.50 161.46,159.95 161.52,158.29 161.57,155.91 161.62,154.04 161.67,153.79 161.72,153.09 161.77,153.31 161.82,149.91 161.87,150.28 161.92,148.93 161.97,149.37 162.02,147.83 162.07,146.03 162.12,145.74 162.18,147.91 162.23,147.02 162.28,146.69 162.33,145.86 162.38,146.01 162.43,144.25 162.48,147.23 162.53,147.33 162.58,147.72 162.63,147.78 162.68,150.15 162.73,149.74 162.78,150.23 162.84,148.99 162.89,148.56 162.94,148.09 162.99,148.21 163.04,149.11 163.09,148.27 163.14,148.15 163.19,146.36 163.24,145.53 163.29,144.90 163.34,145.26 163.39,142.36 163.44,142.63 163.50,141.37 163.55,139.00 163.60,139.67 163.65,136.90 163.70,136.90 163.75,136.90 163.80,137.53 163.83,136.90 163.86,137.51 163.90,137.34 163.93,136.90 163.96,136.90 163.99,138.30 164.02,139.12 164.05,139.39 164.09,140.70 164.12,142.21 164.15,141.42 164.18,143.40 164.21,144.53 164.25,143.24 164.28,142.80 164.31,144.61 164.34,143.66 164.37,144.33 164.41,145.48 164.44,146.80 164.47,146.47 164.50,145.82 164.53,146.26 164.56,147.66 164.60,148.34 164.63,146.65 164.66,146.83 164.69,148.60 164.72,150.52 164.76,150.59 164.79,150.02 164.82,150.65 164.85,151.27 164.88,151.30 164.92,151.20 164.95,150.53 164.98,152.63 165.01,152.54 165.04,153.53 165.07,153.62 165.11,153.44 165.14,153.84 165.17,153.71 165.20,154.09 165.23,155.98 165.27,155.49 165.30,154.57 165.33,155.39 165.36,154.94 165.39,156.06 165.43,156.49 165.46,157.63 165.49,158.23 165.52,157.53 165.55,158.84 165.58,159.60 165.62,158.39 165.65,158.96 165.68,158.25 165.71,158.83 165.74,159.22 165.78,159.10 165.81,159.75 165.84,160.80 165.87,159.92 165.90,159.49 165.94,158.37 165.97,157.92 166.00,156.27 166.03,157.00 166.06,158.23 166.09,157.85 166.13,156.53 166.16,158.38 166.19,159.54 166.22,159.90 166.25,159.61 166.29,161.60 166.32,163.86 166.35,162.99 166.38,161.92 166.41,162.52 166.45,163.07 166.48,163.15 166.51,163.61 166.54,165.58 166.57,167.65 166.60,167.48 166.64,168.04 166.67,167.92 166.70,168.44 166.78,169.17 166.85,169.70 166.93,169.92 167.01,170.40 167.08,170.40 167.16,170.12 167.24,168.88 167.31,166.65 167.39,166.51 167.47,165.53 167.54,163.11 167.62,159.82 167.70,159.50 167.77,159.50 167.85,159.50 167.93,159.50 168.00,159.50 168.08,159.50 168.16,159.50 168.23,159.50 168.31,159.50 168.39,159.97 168.46,159.50 168.54,159.50 168.62,160.35 168.69,160.65 168.77,159.76 168.85,162.72 168.92,164.54 169.00,163.50 169.10,163.68 169.19,164.50 169.29,163.08 169.39,163.26 169.48,162.67 169.58,162.04 169.68,159.40 169.77,158.50 169.87,158.50 169.97,159.48 170.06,159.52 170.16,158.50 170.26,158.66 170.35,160.21 170.45,160.33 170.55,161.20 170.65,160.35 170.74,158.50 170.84,161.29 170.94,161.83 171.03,163.79 171.13,164.50 171.23,164.50 171.32,164.50 171.42,164.50 171.52,164.50 171.61,164.50 171.71,164.50 171.81,163.42 171.90,160.77 172.00,159.92 172.09,160.16 172.18,159.10 172.27,161.07 172.36,160.53 172.45,160.91 172.54,161.06 172.63,162.23 172.72,165.27 172.81,166.06 172.90,164.61 172.99,166.53 173.08,165.31 173.17,165.66 173.26,164.79 173.35,165.56 173.44,164.35 173.53,163.42 173.62,163.61 173.71,162.02 173.80,162.62 173.89,160.54 173.98,161.37 174.07,162.92 174.16,161.86 174.25,161.22 174.35,161.89 174.44,162.61 174.53,162.89 174.62,164.48 174.71,167.32 174.80,167.44 174.89,168.52 174.98,168.57 175.07,169.89 175.16,170.40 175.25,170.40 175.34,170.40 175.43,170.40 175.52,170.20 175.61,169.89 175.70,167.60 175.79,167.66 175.88,167.33 175.97,164.52 176.06,163.16 176.15,163.70 176.24,163.85 176.33,163.29 176.42,164.90 176.51,166.86 176.60,167.26 176.69,168.05 176.77,169.02 176.86,169.92 176.94,170.92 177.03,171.78 177.11,172.76 177.20,171.18 177.28,171.33 177.37,171.86 177.45,170.44 177.54,169.87 177.62,170.36 177.71,170.73 177.79,167.35 177.88,167.23 177.96,166.50 178.05,165.97 178.13,165.40 178.22,165.40 178.30,165.98 178.39,165.73 178.47,166.38 178.56,167.01 178.64,168.74 178.73,169.85 178.81,172.43 178.90,171.67 178.98,173.93 179.07,173.06 179.15,171.59 179.24,173.38 179.32,174.08 179.41,175.36 179.49,174.03 179.58,174.78 179.66,173.27 179.75,171.33 179.83,170.98 179.92,170.84 180.00,172.47 180.09,173.46 180.17,174.00 180.26,173.27 180.34,174.24 180.43,175.31 180.51,175.28 180.60,176.05 180.64,174.39 180.68,175.86 180.72,175.19 180.76,175.21 180.79,174.72 180.83,174.39 180.87,174.37 180.91,171.94 180.95,171.98 180.99,171.52 181.03,172.95 181.07,173.91 181.11,174.77 181.14,173.94 181.18,172.65 181.22,173.29 181.26,173.35 181.30,172.37 181.34,171.18 181.38,170.82 181.42,171.48 181.46,169.20 181.49,170.40 181.53,170.80 181.57,168.92 181.61,167.84 181.65,167.68 181.69,166.83 181.73,166.98 181.77,167.15 181.81,166.81 181.84,167.25 181.88,165.06 181.92,163.68 181.96,164.06 182.00,163.80 182.06,162.66 182.12,161.98 182.18,162.12 182.24,161.55 182.30,161.15 182.36,162.53 182.42,161.75 182.48,164.38 182.54,161.88 182.60,162.17 182.66,162.94 182.72,163.71 182.78,162.93 182.84,162.19 182.90,161.95 182.96,162.70 183.02,161.76 183.08,161.82 183.14,161.96 183.20,162.01 183.26,161.92 183.32,160.85 183.38,159.51 183.44,159.99 183.50,159.49 183.56,156.38 183.62,154.90 183.68,155.58 183.74,154.48 183.80,152.54 183.86,151.51 183.92,151.61 183.98,151.11 184.04,151.15 184.10,149.75 184.16,148.02 184.22,148.83 184.28,149.08 184.34,150.66 184.40,148.64 184.46,151.47 184.52,149.45 184.58,152.00 184.64,149.89 184.70,149.16 184.76,150.36 184.82,151.06 184.88,151.39 184.94,151.46 185.00,154.16 185.06,154.60 185.12,152.62 185.18,152.54 185.24,155.11 185.30,154.29 185.36,152.55 185.42,153.06 185.48,151.10 185.54,150.09 185.60,149.89 185.66,149.68 185.72,149.07 185.78,147.87 185.84,147.18 185.90,146.62 185.96,146.79 186.02,144.77 186.08,143.06 186.14,143.47 186.20,142.90 186.26,142.90 186.32,144.49 186.38,143.80 186.44,145.00 186.50,144.06 186.58,144.44 186.66,145.53 186.74,147.94 186.82,150.46 186.90,150.36 186.98,152.50 187.06,152.50 187.14,152.50 187.22,152.50 187.30,152.50 187.38,152.50 187.46,151.59 187.54,149.59 187.62,148.96 187.70,147.63 187.78,146.51 187.86,145.31 187.94,146.05 188.02,146.82 188.10,147.15 188.18,146.37 188.26,145.84 188.34,146.08 188.42,146.80 188.50,148.28 188.58,149.17 188.67,149.68 188.75,151.46 188.83,152.18 188.92,152.50 189.00,151.89 189.08,152.50 189.17,152.50 189.25,152.50 189.33,152.50 189.42,152.50 189.50,152.50 189.58,152.50 189.67,152.50 189.75,150.77 189.83,148.67 189.92,146.50 190.00,146.19 190.08,144.31 190.15,142.93 190.23,141.87 190.30,141.23 190.38,140.61 190.45,139.97 190.53,139.13 190.60,138.39 190.68,138.67 190.76,140.53 190.83,142.12 190.91,143.27 190.98,145.25 191.06,145.79 191.13,144.93 191.21,145.45 191.28,143.63 191.36,142.03 191.44,140.87 191.51,140.67 191.59,140.73 191.66,140.35 191.74,138.20 191.81,135.99 191.89,135.74 191.96,135.67 192.04,135.00 192.12,135.00 192.19,135.13 192.27,135.66 192.34,138.04 192.42,137.19 192.49,137.74 192.57,138.42 192.64,139.99 192.72,141.18 192.80,142.34 192.87,143.72 192.95,143.55 193.02,143.43 193.10,141.98 193.17,140.18 193.25,140.08 193.32,139.57 193.40,138.35 193.45,136.35 193.51,135.77 193.56,135.55 193.61,133.74 193.66,132.82 193.72,131.06 193.77,130.72 193.82,130.23 193.87,130.19 193.93,128.82 193.98,128.65 194.03,126.27 194.08,125.06 194.14,126.73 194.19,127.95 194.24,128.39 194.29,129.70 194.35,131.39 194.40,130.26 194.45,131.25 194.51,132.87 194.56,133.57 194.61,133.37 194.66,136.09 194.72,135.66 194.77,136.52 194.82,136.93 194.87,137.26 194.93,136.61 194.98,134.85 195.03,133.72 195.08,132.72 195.14,132.65 195.19,132.45 195.24,129.55 195.29,128.39 195.35,126.05 195.40,126.25 195.45,125.30 195.51,124.17 195.56,121.99 195.61,120.54 195.66,119.95 195.72,120.06 195.77,120.13 195.82,119.59 195.87,119.10 195.93,119.10 195.98,119.10 196.03,119.81 196.08,119.10 196.14,120.58 196.19,122.14 196.24,122.88 196.29,122.00 196.35,122.60 196.40,123.26 196.43,123.44 196.47,123.03 196.50,122.01 196.53,120.99 196.57,121.99 196.60,120.31 196.63,119.03 196.67,118.46 196.70,118.36 196.73,119.19 196.77,119.56 196.80,118.52 196.83,117.20 196.87,118.45 196.90,116.71 196.93,116.23 196.97,115.91 197.00,113.51 197.03,112.41 197.07,111.11 197.10,110.99 197.13,110.44 197.17,109.55 197.20,110.24 197.23,108.71 197.27,107.13 197.30,108.85 197.33,107.89 197.37,108.80 197.40,108.39 197.43,107.79 197.47,108.56 197.50,108.90 197.53,108.56 197.57,108.12 197.60,108.00 197.63,107.11 197.67,109.35 197.70,106.60 197.73,106.26 197.77,106.24 197.80,106.50 197.83,106.30 197.87,105.95 197.90,104.92 197.93,104.96 197.97,105.16 198.00,106.19 198.03,105.26 198.07,103.15 198.10,105.58 198.13,106.69 198.17,107.60 198.20,108.59 198.23,107.37 198.27,106.41 198.30,106.07 198.38,107.77 198.47,106.85 198.55,106.83 198.63,106.03 198.72,104.17 198.80,101.78 198.88,101.40 198.97,101.40 199.05,101.40 199.13,101.40 199.22,101.40 199.30,101.40 199.38,101.40 199.47,101.40 199.55,101.40 199.63,102.40 199.72,106.70 199.80,106.51 199.88,107.50 199.97,107.35 200.05,107.81 200.13,107.49 200.22,107.10 200.30,109.93 200.36,111.21 200.41,109.85 200.47,110.54 200.52,109.25 200.58,109.69 200.63,109.27 200.69,109.79 200.74,110.80 200.80,109.09 200.86,108.23 200.91,105.50 200.97,107.00 201.02,106.88 201.08,107.40 201.13,108.96 201.19,108.14 201.24,109.34 201.30,108.08 201.36,108.61 201.41,109.53 201.47,110.74 201.52,110.98 201.58,113.60 201.63,114.67 201.69,116.31 201.74,116.67 201.80,117.74 201.86,119.36 201.91,120.20 201.97,120.20 202.02,120.20 202.08,120.20 202.13,120.20 202.19,119.35 202.24,119.97 202.30,119.45 202.36,117.17 202.43,115.29 202.49,115.38 202.56,113.63 202.62,113.16 202.69,112.47 202.75,109.92 202.82,108.45 202.88,107.69 202.95,107.90 203.01,108.30 203.07,108.40 203.14,107.92 203.20,108.56 203.27,109.71 203.33,108.54 203.40,107.99 203.46,108.27 203.53,110.13 203.59,111.76 203.65,113.90 203.72,114.13 203.78,113.58 203.85,114.51 203.91,114.39 203.98,113.34 204.04,113.69 204.11,113.10 204.17,111.67 204.24,111.38 204.30,111.10 204.36,109.90 204.43,109.80 204.49,107.79 204.56,106.37 204.62,105.36 204.69,104.87 204.75,103.07 204.82,104.87 204.88,102.89 204.94,100.83 205.01,100.46 205.07,100.97 205.14,99.21 205.20,99.34 205.27,99.49 205.33,102.21 205.40,101.08 205.46,100.86 205.52,103.10 205.59,102.98 205.65,102.49 205.72,104.84 205.78,105.43 205.85,107.89 205.91,107.48 205.98,108.20 206.04,107.94 206.10,109.46 206.17,107.51 206.23,108.27 206.30,108.04 206.36,107.96 206.43,107.93 206.49,107.83 206.56,106.45 206.62,105.62 206.68,105.71 206.75,104.82 206.81,106.02 206.88,102.45 206.94,101.04 207.01,99.48 207.07,97.84 207.14,96.96 207.20,96.43 207.26,96.86 207.32,96.66 207.38,96.40 207.44,97.54 207.49,97.56 207.55,97.33 207.61,96.83 207.67,97.92 207.73,98.85 207.79,98.36 207.85,100.69 207.91,102.25 207.96,103.48 208.02,105.54 208.08,105.96 208.14,106.95 208.20,108.16 208.26,108.89 208.32,110.30 208.38,110.30 208.44,110.30 208.49,110.30 208.55,110.30 208.61,110.30 208.67,110.30 208.73,110.30 208.79,110.30 208.85,110.30 208.91,110.30 208.96,110.30 209.02,110.30 209.08,108.87 209.14,108.61 209.20,107.06 209.25,106.90 209.31,106.20 209.36,106.19 209.41,107.31 209.46,107.10 209.52,105.30 209.57,105.30 209.62,105.30 209.67,107.47 209.73,109.01 209.78,110.40 209.83,110.47 209.88,112.14 209.94,113.98 209.99,114.45 210.04,116.26 210.09,116.51 210.15,115.32 210.20,115.16 210.25,116.14 210.31,117.63 210.36,118.74 210.41,120.57 210.46,118.57 210.52,118.48 210.57,120.45 210.62,119.43 210.67,119.59 210.73,120.07 210.78,118.41 210.83,119.90 210.88,118.50 210.94,117.99 210.99,118.84 211.04,118.16 211.09,116.53 211.15,117.10 211.20,116.02 211.25,116.40 211.31,114.11 211.36,115.16 211.41,114.33 211.46,114.37 211.52,111.55 211.57,112.73 211.62,113.29 211.67,114.40 211.73,113.66 211.78,114.82 211.83,115.16 211.88,116.38 211.94,118.07 211.99,118.43 212.04,120.24 212.09,120.95 212.15,122.57 212.20,124.21 212.29,123.69 212.38,124.22 212.47,126.10 212.56,126.10 212.65,125.74 212.74,124.85 212.83,124.70 212.92,125.13 213.01,124.27 213.10,122.30 213.19,121.17 213.28,118.16 213.37,117.50 213.46,117.50 213.55,117.50 213.65,117.50 213.74,117.50 213.83,117.50 213.92,117.50 214.01,117.50 214.10,117.50 214.19,117.50 214.28,117.50 214.37,118.36 214.46,118.67 214.55,121.55 214.64,122.80 214.73,122.07 214.82,123.22 214.91,121.23 215.00,121.55 215.08,119.98 215.17,118.85 215.25,118.61 215.34,117.75 215.42,118.50 215.50,118.46 215.59,118.73 215.67,118.44 215.75,117.85 215.84,117.92 215.92,117.33 216.01,116.98 216.09,118.68 216.17,119.21 216.26,121.12 216.34,121.23 216.42,122.50 216.51,122.47 216.59,122.50 216.68,122.50 216.76,122.50 216.84,122.50 216.93,122.50 217.01,122.50 217.09,122.50 217.18,120.85 217.26,121.18 217.35,121.21 217.43,120.00 217.51,118.07 217.60,115.49 217.68,113.45 217.76,113.12 217.85,112.27 217.93,113.32 218.02,113.54 218.10,112.45 218.16,112.79 218.21,113.08 218.27,114.42 218.32,115.65 218.38,116.77 218.43,114.87 218.49,118.28 218.54,119.09 218.60,120.80 218.66,119.72 218.71,120.08 218.77,118.81 218.82,120.04 218.88,120.21 218.93,120.14 218.99,121.77 219.04,123.50 219.10,122.14 219.16,122.19 219.21,121.05 219.27,120.03 219.32,120.49 219.38,121.42 219.43,121.72 219.49,121.00 219.54,121.73 219.60,121.62 219.66,120.75 219.71,121.12 219.77,121.83 219.82,122.01 219.88,121.16 219.93,123.17 219.99,121.73 220.04,121.09 220.10,122.45 220.19,123.39 220.28,125.52 220.37,126.00 220.46,125.55 220.55,126.45 220.64,128.15 220.73,128.86 220.82,125.77 220.92,126.09 221.01,126.45 221.10,125.58 221.19,124.68 221.28,122.48 221.37,123.12 221.46,123.29 221.55,121.39 221.64,122.57 221.73,122.64 221.82,122.06 221.91,122.62 222.00,122.96 222.09,125.63 222.18,125.77 222.28,126.55 222.37,127.07 222.46,129.54 222.55,128.71 222.64,129.47 222.73,129.09 222.82,129.71 222.91,127.57 223.00,127.21 223.05,126.03 223.11,127.15 223.16,126.46 223.21,127.69 223.26,126.25 223.32,125.16 223.37,125.10 223.42,127.00 223.47,126.96 223.53,126.52 223.58,126.55 223.63,126.44 223.68,126.19 223.74,127.55 223.79,128.86 223.84,128.27 223.89,128.41 223.95,130.20 224.00,132.05 224.05,134.19 224.11,133.44 224.16,133.70 224.21,135.45 224.26,136.06 224.32,137.23 224.37,138.53 224.42,138.56 224.47,139.14 224.53,139.70 224.58,139.70 224.63,140.20 224.68,138.65 224.74,139.22 224.79,138.56 224.84,137.19 224.89,137.78 224.95,137.82 225.00,139.70 225.05,138.46 225.11,138.92 225.16,137.98 225.21,136.46 225.26,136.28 225.32,138.89 225.37,138.31 225.42,138.90 225.47,137.76 225.53,137.56 225.58,139.93 225.63,138.78 225.68,139.56 225.74,141.07 225.79,141.69 225.84,143.53 225.89,143.54 225.95,143.02 226.00,143.43 226.04,143.75 226.09,144.32 226.13,144.15 226.17,145.15 226.21,144.13 226.26,142.91 226.30,142.42 226.34,141.95 226.38,141.94 226.43,142.19 226.47,142.09 226.51,141.88 226.55,139.44 226.60,137.45 226.64,137.45 226.68,138.11 226.72,138.54 226.77,137.68 226.81,138.36 226.85,136.30 226.89,135.55 226.94,137.10 226.98,135.55 227.02,135.42 227.06,134.24 227.11,134.68 227.15,134.16 227.19,134.56 227.23,134.98 227.28,133.36 227.32,131.10 227.36,130.33 227.40,129.09 227.45,129.96 227.49,130.07 227.53,131.42 227.57,130.90 227.62,131.93 227.66,131.50 227.70,129.78 227.74,131.01 227.79,132.50 227.83,130.98 227.87,131.53 227.91,132.22 227.96,130.54 228.00,130.37 228.08,130.05 228.17,132.00 228.25,131.83 228.34,129.75 228.42,128.92 228.51,127.56 228.59,126.18 228.68,123.66 228.76,123.69 228.85,123.75 228.93,123.10 229.02,122.67 229.10,121.89 229.19,122.23 229.27,123.99 229.36,123.78 229.44,123.76 229.53,124.52 229.61,125.30 229.70,127.64 229.78,127.99 229.87,128.89 229.95,128.26 230.03,130.61 230.12,130.15 230.20,128.71 230.29,127.90 230.37,127.22 230.46,126.32 230.54,126.23 230.63,125.58 230.71,125.81 230.80,124.86 230.88,124.21 230.97,123.26 231.05,120.57 231.14,121.07 231.22,121.39 231.31,121.71 231.39,123.52 231.48,124.42 231.56,124.91 231.65,124.09 231.73,122.67 231.82,121.59 231.90,122.87 231.96,122.62 232.01,125.74 232.07,125.61 232.12,125.55 232.18,126.11 232.23,126.62 232.29,126.97 232.34,127.42 232.40,127.26 232.46,126.88 232.51,127.14 232.57,127.47 232.62,127.67 232.68,125.83 232.73,124.91 232.79,126.09 232.84,125.31 232.90,125.40 232.96,124.70 233.01,125.36 233.07,126.85 233.12,127.19 233.18,127.15 233.23,127.11 233.29,126.99 233.34,125.27 233.40,127.79 233.46,128.36 233.51,128.58 233.57,129.48 233.62,129.92 233.68,130.64 233.73,129.10 233.79,130.35 233.84,131.44 233.90,132.68 233.95,131.34 234.01,131.21 234.06,132.94 234.11,133.46 234.16,131.78 234.22,131.49 234.27,132.98 234.32,131.47 234.37,130.27 234.43,129.85 234.48,128.71 234.53,128.53 234.58,127.59 234.64,126.50 234.69,125.82 234.74,124.79 234.79,124.83 234.85,122.40 234.90,122.01 234.95,121.54 235.01,121.65 235.06,123.31 235.11,123.39 235.16,121.58 235.22,124.74 235.27,122.94 235.32,123.78 235.37,123.68 235.43,124.68 235.48,125.59 235.53,123.12 235.58,121.72 235.64,124.14 235.69,123.74 235.74,123.98 235.79,123.41 235.85,125.15 235.90,124.39 235.95,125.42 236.01,124.19 236.06,126.18 236.11,125.97 236.16,125.98 236.22,125.91 236.27,125.05 236.32,122.89 236.37,123.27 236.43,121.98 236.48,120.36 236.53,120.75 236.58,120.15 236.64,119.49 236.69,119.29 236.74,118.03 236.79,117.11 236.85,115.25 236.90,114.71 237.00,113.20 237.09,113.20 237.19,113.20 237.29,113.20 237.38,113.20 237.48,113.20 237.57,113.20 237.67,113.41 237.77,116.78 237.86,119.61 237.96,118.45 238.06,119.33 238.15,118.78 238.25,118.23 238.34,117.47 238.44,115.03 238.54,116.17 238.63,114.05 238.73,113.20 238.83,113.20 238.92,113.20 239.02,113.20 239.11,113.20 239.21,113.20 239.31,115.29 239.40,116.14 239.50,117.73 239.59,119.74 239.67,119.93 239.76,120.38 239.85,121.23 239.93,121.47 240.02,121.35 240.11,121.24 240.19,121.82 240.28,123.58 240.37,122.49 240.46,121.17 240.54,119.72 240.63,118.17 240.72,117.85 240.80,116.74 240.89,115.50 240.98,115.50 241.06,115.50 241.15,115.50 241.24,115.50 241.32,115.66 241.41,116.61 241.50,117.90 241.58,117.10 241.67,119.15 241.76,120.41 241.84,122.61 241.93,122.76 242.02,121.93 242.11,124.34 242.19,124.63 242.28,125.60 242.37,125.97 242.45,122.92 242.54,124.06 242.63,125.20 242.71,124.47 242.80,123.30 242.90,121.42 242.99,121.56 243.09,121.09 243.18,121.36 243.28,121.15 243.37,120.09 243.47,121.21 243.57,121.83 243.66,121.65 243.76,122.72 243.85,121.29 243.95,121.95 244.04,124.92 244.14,126.10 244.23,125.49 244.33,125.07 244.43,125.02 244.52,123.97 244.62,122.66 244.71,122.64 244.81,120.71 244.90,121.87 245.00,120.78 245.07,120.88 245.13,121.90 245.20,120.63 245.27,118.80 245.33,118.28 245.40,118.19 245.47,117.45 245.53,118.51 245.60,116.43 245.67,116.17 245.73,118.30 245.80,117.98 245.87,119.29 245.93,118.93 246.00,118.48 246.07,120.27 246.13,119.16 246.20,119.68 246.27,119.44 246.33,119.28 246.40,119.52 246.47,120.69 246.53,122.69 246.60,122.49 246.67,120.58 246.73,119.68 246.80,121.24 246.87,121.64 246.93,119.32 247.00,119.90 247.07,117.85 247.13,117.44 247.20,114.76 247.27,114.48 247.33,113.29 247.40,113.58 247.47,111.83 247.53,111.77 247.60,111.57 247.67,112.10 247.73,112.54 247.80,113.16 247.87,111.84 247.93,111.68 248.00,111.00 248.07,111.58 248.13,110.88 248.20,111.39 248.27,113.81 248.33,113.32 248.40,114.64 248.47,114.40 248.53,115.81 248.60,116.11 248.67,117.01 248.73,118.37 248.80,117.60 248.87,117.07 248.93,116.70 249.00,115.42 249.07,114.89 249.13,115.48 249.20,114.70 249.27,115.02 249.33,115.11 249.40,115.72 249.47,114.63 249.53,113.94 249.60,112.67 249.67,114.27 249.73,116.04 249.80,115.46 249.87,115.62 249.93,116.58 250.00,117.71 250.07,118.58 250.15,120.10 250.22,120.42 250.29,123.10 250.37,123.11 250.44,123.38 250.51,123.93 250.58,123.28 250.66,124.01 250.73,123.41 250.80,123.89 250.88,123.25 250.95,122.85 251.02,120.80 251.10,122.54 251.17,121.93 251.24,122.62 251.32,121.22 251.39,121.23 251.46,121.37 251.53,122.33 251.61,121.44 251.68,120.05 251.75,122.94 251.83,123.46 251.90,123.02 251.97,121.57 252.05,121.71 252.12,121.38 252.20,120.42 252.27,121.64 252.34,123.35 252.42,125.61 252.49,125.95 252.57,125.67 252.64,125.88 252.71,124.46 252.79,123.56 252.86,123.08 252.94,121.00 253.01,121.63 253.09,120.40 253.16,119.38 253.23,119.28 253.31,117.91 253.38,116.01 253.46,116.38 253.53,115.20 253.60,115.20 253.68,116.62 253.75,116.78 253.83,116.77 253.90,117.09 253.92,119.00 253.95,117.98 253.97,118.73 253.99,119.66 254.02,121.48 254.04,122.05 254.06,121.42 254.09,122.62 254.11,121.88 254.13,123.79 254.16,124.73 254.18,123.98 254.20,125.06 254.23,125.31 254.25,125.77 254.27,127.08 254.30,127.47 254.32,127.98 254.34,129.55 254.37,127.96 254.39,126.96 254.41,128.10 254.43,127.49 254.46,128.54 254.48,131.58 254.50,131.76 254.53,132.15 254.55,130.39 254.57,130.75 254.60,131.50 254.62,130.16 254.64,128.79 254.67,130.14 254.69,130.95 254.71,133.72 254.74,134.00 254.76,133.91 254.78,131.79 254.81,131.56 254.83,131.67 254.85,131.79 254.88,132.51 254.90,131.67 254.96,130.97 255.01,130.79 255.07,130.17 255.12,130.58 255.18,131.69 255.23,132.88 255.29,131.44 255.34,130.54 255.40,131.48 255.46,130.23 255.51,132.98 255.57,133.95 255.62,135.23 255.68,137.28 255.73,138.89 255.79,138.75 255.84,137.94 255.90,141.26 255.96,141.78 256.01,142.10 256.07,142.17 256.12,142.17 256.18,143.16 256.23,143.90 256.29,143.90 256.34,143.90 256.40,143.90 256.46,143.90 256.51,143.90 256.57,143.46 256.62,143.74 256.68,143.53 256.73,140.86 256.79,139.96 256.84,141.21 256.90,140.00 256.95,140.72 257.01,139.65 257.06,139.59 257.11,140.21 257.16,139.05 257.22,140.04 257.27,142.10 257.32,142.67 257.38,141.73 257.43,141.09 257.48,142.80 257.53,143.54 257.59,143.42 257.64,144.05 257.69,144.57 257.74,147.78 257.80,148.34 257.85,149.11 257.90,149.36 257.96,149.53 258.01,150.53 258.06,150.16 258.11,149.02 258.17,149.86 258.22,147.90 258.27,148.15 258.32,149.50 258.38,150.47 258.43,150.01 258.48,146.38 258.54,146.40 258.59,146.80 258.64,148.17 258.69,150.77 258.75,152.34 258.80,150.78 258.85,150.93 258.91,149.78 258.96,146.86 259.02,146.79 259.07,147.66 259.12,146.37 259.18,145.85 259.23,144.20 259.29,145.04 259.34,143.11 259.39,142.58 259.45,143.90 259.50,142.17 259.56,142.70 259.61,143.30 259.66,143.92 259.72,142.53 259.77,143.72 259.83,141.47 259.88,140.77 259.94,143.21 259.99,143.05 260.04,142.60 260.10,142.75 260.15,143.12 260.21,142.34 260.26,143.64 260.31,142.54 260.37,143.60 260.42,142.80 260.48,142.20 260.53,142.44 260.58,141.96 260.64,142.10 260.69,141.53 260.75,140.64 260.80,141.16 260.86,139.48 260.91,140.25 260.97,140.89 261.03,139.14 261.09,140.41 261.14,137.91 261.20,136.95 261.26,136.89 261.31,137.17 261.37,137.15 261.43,136.31 261.49,134.20 261.54,133.48 261.60,134.89 261.66,134.86 261.71,136.86 261.77,137.16 261.83,137.66 261.89,139.24 261.94,138.10 262.00,138.22 262.06,138.70 262.11,138.72 262.17,139.15 262.23,139.02 262.29,139.37 262.34,138.65 262.40,136.45 262.46,136.39 262.51,136.22 262.57,135.49 262.63,134.60 262.69,132.67 262.74,132.32 262.80,131.58 262.87,129.90 262.95,128.98 263.02,128.69 263.10,127.37 263.17,127.93 263.24,125.60 263.32,126.43 263.39,125.60 263.47,127.14 263.54,128.50 263.61,130.66 263.69,131.54 263.76,128.88 263.84,128.48 263.91,130.34 263.99,130.83 264.06,130.73 264.13,128.35 264.21,130.13 264.28,130.77 264.36,131.06 264.43,129.34 264.50,129.68 264.58,129.74 264.65,128.21 264.73,125.62 264.80,126.28 264.88,126.29 264.97,124.65 265.05,123.32 265.14,123.10 265.22,123.10 265.31,123.10 265.39,123.10 265.48,123.10 265.56,123.10 265.64,123.10 265.73,123.49 265.81,123.10 265.90,123.10 265.98,123.10 266.07,125.07 266.15,128.50 266.23,129.22 266.32,130.46 266.40,131.88 266.49,133.50 266.57,133.50 266.66,133.50 266.74,132.21 266.82,133.16 266.91,132.39 266.99,131.52 267.08,130.45 267.16,130.51 267.25,129.81 267.33,129.77 267.42,130.33 267.50,128.94 267.56,128.57 267.62,129.25 267.68,129.45 267.74,130.82 267.80,132.27 267.86,134.43 267.91,135.48 267.97,135.74 268.03,135.82 268.09,137.43 268.15,138.07 268.21,138.75 268.27,139.30 268.33,141.25 268.39,140.91 268.45,143.90 268.51,144.00 268.57,144.34 268.63,143.92 268.69,143.82 268.74,143.67 268.80,143.25 268.86,143.24 268.92,141.48 268.98,140.76 269.04,141.33 269.10,142.17 269.16,141.75 269.22,141.99 269.28,142.17 269.34,141.77 269.40,142.26 269.46,141.84 269.51,141.30 269.57,140.99 269.63,141.87 269.69,142.40 269.75,142.65 269.81,142.22 269.87,143.61 269.93,142.75 269.99,142.56 270.05,143.50 270.11,142.21 270.17,143.57 270.23,144.83 270.29,146.14 270.34,146.80 270.40,147.16 270.46,146.37 270.52,146.99 270.58,147.05 270.64,146.15 270.70,146.59 270.77,145.44 270.85,145.74 270.92,142.90 271.00,142.90 271.07,142.90 271.14,142.90 271.22,142.90 271.29,144.65 271.37,142.95 271.44,143.58 271.51,143.05 271.59,142.90 271.66,142.90 271.74,142.90 271.81,143.08 271.89,144.03 271.96,146.42 272.03,146.68 272.11,148.50 272.18,148.42 272.26,149.28 272.33,151.07 272.40,151.03 272.48,152.18 272.55,153.28 272.63,151.37 272.70,152.18 272.74,152.58 272.78,150.61 272.83,151.27 272.87,150.00 272.91,148.81 272.95,149.44 273.00,148.18 273.04,147.45 273.08,147.90 273.12,146.57 273.16,146.86 273.21,146.01 273.25,145.38 273.29,143.94 273.33,142.47 273.38,143.13 273.42,143.55 273.46,142.32 273.50,141.61 273.54,141.42 273.59,142.70 273.63,142.63 273.67,142.17 273.71,141.41 273.76,141.43 273.80,140.57 273.84,140.37 273.88,138.61 273.92,139.43 273.97,139.78 274.01,139.50 274.05,140.07 274.09,139.73 274.14,140.16 274.18,141.02 274.22,141.07 274.26,139.91 274.30,139.41 274.35,139.52 274.39,139.14 274.43,140.17 274.47,138.18 274.52,138.57 274.56,140.88 274.60,139.79 274.64,138.68 274.67,138.08 274.71,138.68 274.75,138.53 274.79,136.62 274.82,136.98 274.86,134.84 274.90,135.08 274.93,134.78 274.97,136.56 275.01,136.02 275.04,135.06 275.08,134.08 275.12,135.58 275.16,135.84 275.19,135.15 275.23,134.99 275.27,133.41 275.30,130.59 275.34,128.58 275.38,128.04 275.41,126.66 275.45,126.77 275.49,125.30 275.53,123.51 275.56,125.01 275.60,123.70 275.64,121.74 275.67,122.96 275.71,123.98 275.75,123.59 275.79,122.89 275.82,123.78 275.86,123.21 275.90,124.31 275.93,123.91 275.97,124.26 276.01,124.86 276.04,126.02 276.08,126.65 276.12,125.63 276.16,124.56 276.19,126.17 276.23,125.88 276.27,126.61 276.30,127.27 276.34,126.83 276.38,126.67 276.41,127.21 276.45,126.35 276.49,125.86 276.53,124.12 276.56,122.97 276.60,123.17 276.63,124.42 276.66,125.12 276.70,126.24 276.73,126.31 276.76,127.73 276.79,127.87 276.82,126.69 276.85,126.84 276.89,125.64 276.92,126.61 276.95,126.80 276.98,124.76 277.01,127.53 277.04,127.93 277.08,128.61 277.11,126.22 277.14,126.48 277.17,127.84 277.20,129.57 277.23,128.32 277.27,130.06 277.30,128.40 277.33,127.18 277.36,129.00 277.39,128.44 277.43,128.27 277.46,127.07 277.49,127.11 277.52,128.29 277.55,129.27 277.58,129.10 277.62,130.77 277.65,129.77 277.68,129.58 277.71,130.46 277.74,130.18 277.77,130.83 277.81,131.14 277.84,132.16 277.87,132.19 277.90,132.57 277.93,134.46 277.97,134.35 278.00,134.95 278.03,134.95 278.06,136.00 278.09,137.29 278.12,137.37 278.16,138.30 278.19,140.04 278.22,141.34 278.25,140.39 278.28,141.17 278.31,139.99 278.35,140.69 278.38,140.87 278.41,140.84 278.44,142.49 278.47,143.90 278.50,143.90 278.54,143.90 278.57,142.86 278.60,143.43 278.64,143.90 278.69,143.90 278.73,143.82 278.78,142.82 278.82,142.85 278.87,142.03 278.91,139.25 278.96,138.15 279.00,137.47 279.04,137.74 279.09,136.41 279.13,135.38 279.18,133.46 279.22,133.70 279.27,133.26 279.31,131.85 279.36,132.05 279.40,130.63 279.44,130.60 279.49,130.18 279.53,128.53 279.58,129.93 279.62,128.06 279.67,126.27 279.71,128.11 279.76,127.83 279.80,126.14 279.84,125.80 279.89,127.15 279.93,128.57 279.98,125.50 280.02,125.68 280.07,125.62 280.11,126.84 280.16,127.28 280.20,128.65 280.24,129.82 280.29,129.50 280.33,129.50 280.38,129.68 280.42,129.72 280.47,131.83 280.51,132.53 280.56,129.84 280.60,130.05 280.64,130.50 280.69,130.50 280.73,130.50 280.78,130.50 280.82,130.50 280.87,127.88 280.91,126.62 280.96,125.82 281.00,123.73 281.05,124.13 281.09,124.40 281.14,123.16 281.18,123.49 281.22,124.21 281.27,121.33 281.31,119.29 281.36,119.12 281.40,118.25 281.45,118.22 281.49,116.36 281.54,116.60 281.58,117.43 281.63,115.62 281.67,115.42 281.72,115.60 281.76,115.72 281.80,115.72 281.85,115.31 281.89,115.55 281.94,114.47 281.98,117.74 282.03,117.01 282.07,118.20 282.12,117.92 282.16,118.33 282.21,116.91 282.25,117.65 282.30,117.43 282.34,115.79 282.38,115.59 282.43,115.90 282.47,116.94 282.52,115.39 282.56,114.87 282.61,115.25 282.65,114.44 282.70,114.36 282.74,114.46 282.79,114.18 282.83,113.24 282.88,112.33 282.92,112.93 282.96,114.10 283.01,114.30 283.05,113.88 283.10,112.20 283.14,110.19 283.19,108.71 283.23,109.80 283.28,107.33 283.32,107.33 283.37,106.84 283.41,108.39 283.46,106.90 283.50,106.94 283.54,107.24 283.58,108.57 283.62,111.15 283.66,112.21 283.70,112.33 283.74,112.59 283.79,112.85 283.83,112.32 283.87,114.26 283.91,114.14 283.95,114.24 283.99,113.34 284.03,114.81 284.07,116.00 284.11,117.34 284.15,116.17 284.19,116.27 284.23,118.75 284.28,117.88 284.32,118.00 284.36,119.31 284.40,121.32 284.44,121.96 284.48,121.63 284.52,122.93 284.56,122.76 284.60,123.44 284.64,122.43 284.68,123.37 284.72,122.64 284.77,121.52 284.81,120.30 284.85,120.76 284.89,121.86 284.93,121.19 284.97,122.68 285.01,122.57 285.05,119.74 285.09,120.45 285.13,118.84 285.17,119.08 285.21,119.59 285.26,120.91 285.30,119.62 285.34,120.51 285.38,122.16 285.42,121.04 285.46,121.31 285.50,121.64 285.58,120.47 285.66,120.10 285.74,120.38 285.82,118.63 285.91,119.56 285.99,121.35 286.07,122.88 286.15,125.42 286.23,123.06 286.31,121.85 286.39,121.16 286.47,123.40 286.55,123.82 286.64,124.17 286.72,124.51 286.80,123.19 286.88,121.12 286.96,121.21 287.04,120.96 287.12,119.08 287.20,118.03 287.28,116.49 287.36,117.04 287.45,115.96 287.53,114.50 287.61,114.20 287.69,114.20 287.77,114.20 287.85,117.00 287.93,116.01 288.01,114.60 288.09,116.22 288.18,116.78 288.26,118.50 288.34,116.61 288.42,119.11 288.50,118.44 288.54,118.33 288.58,118.12 288.62,118.52 288.66,117.91 288.70,119.49 288.74,118.75 288.79,121.06 288.83,121.13 288.87,120.62 288.91,119.41 288.95,120.51 288.99,118.44 289.03,119.92 289.07,120.00 289.11,118.98 289.15,120.41 289.19,119.08 289.23,121.01 289.28,121.29 289.32,121.36 289.36,119.68 289.40,119.69 289.44,119.77 289.48,119.84 289.52,119.86 289.56,121.98 289.60,122.13 289.64,120.55 289.68,123.29 289.72,124.35 289.77,123.86 289.81,123.46 289.85,123.22 289.89,123.87 289.93,124.60 289.97,124.58 290.01,124.47 290.05,124.67 290.09,125.44 290.13,126.53 290.17,125.23 290.21,127.49 290.26,129.12 290.30,130.88 290.34,131.90 290.38,131.77 290.42,132.00 290.46,131.77 290.50,133.24 290.57,132.21 290.64,131.80 290.71,134.14 290.78,132.81 290.85,134.45 290.92,134.62 290.99,133.55 291.06,131.95 291.13,132.10 291.20,133.28 291.27,132.54 291.34,131.86 291.41,131.19 291.49,131.14 291.56,130.35 291.63,130.47 291.70,131.60 291.77,133.49 291.84,132.93 291.91,133.57 291.98,134.89 292.05,135.47 292.12,135.68 292.19,135.58 292.26,136.01 292.33,137.03 292.40,139.49 292.50,139.58 292.59,140.41 292.69,139.81 292.79,140.19 292.88,138.76 292.98,138.05 293.08,136.83 293.17,135.00 293.27,135.00 293.37,135.23 293.46,135.00 293.56,135.00 293.66,135.00 293.75,135.00 293.85,135.00 293.95,136.22 294.05,135.33 294.14,136.25 294.24,138.21 294.34,140.08 294.43,140.24 294.53,140.65 294.63,139.88 294.72,137.87 294.82,138.44 294.92,138.13 295.01,138.73 295.11,137.54 295.21,138.17 295.30,138.11 295.40,137.62 295.46,136.90 295.52,137.83 295.59,137.03 295.65,137.11 295.71,137.22 295.77,140.64 295.84,142.02 295.90,142.86 295.96,144.18 296.02,143.46 296.09,144.55 296.15,144.99 296.21,146.75 296.27,146.82 296.34,145.92 296.40,146.61 296.46,146.68 296.52,147.02 296.59,146.23 296.65,145.66 296.71,144.31 296.77,144.73 296.84,146.76 296.90,145.31 296.96,145.57 297.02,143.66 297.09,143.89 297.15,143.83 297.21,143.43 297.27,143.51 297.34,144.27 297.40,145.14 297.46,145.17 297.52,146.31 297.57,148.03 297.63,150.37 297.69,150.97 297.75,150.46 297.80,152.02 297.86,151.09 297.92,152.88 297.98,155.15 298.03,156.61 298.09,156.65 298.15,157.20 298.21,157.80 298.26,157.67 298.32,158.34 298.38,158.50 298.44,158.50 298.49,158.50 298.55,158.50 298.61,158.50 298.67,158.50 298.72,158.50 298.78,158.50 298.84,158.18 298.90,157.18 298.95,155.54 299.01,155.25 299.07,154.26 299.13,154.14 299.18,154.92 299.24,152.83 299.30,153.53 299.35,153.50 299.40,153.50 299.44,153.50 299.49,153.50 299.54,154.08 299.59,153.50 299.63,155.37 299.68,157.29 299.73,157.10 299.78,157.09 299.82,159.44 299.87,161.52 299.92,159.20 299.97,160.06 300.01,160.64 300.06,161.28 300.11,163.14 300.16,163.40 300.20,162.97 300.25,162.48 300.30,163.52 300.37,164.41 300.44,166.08 300.51,167.27 300.58,167.71 300.65,165.93 300.72,166.23 300.79,164.56 300.86,163.39 300.93,161.63 301.00,162.75 301.07,162.76 301.14,163.24 301.21,161.29 301.28,161.60 301.35,160.43 301.42,161.14 301.49,161.87 301.56,161.71 301.63,161.60 301.70,163.44 301.77,165.36 301.83,166.45 301.90,166.73 301.97,169.26 302.04,170.05 302.11,171.87 302.18,171.06 302.25,171.49 302.32,171.66 302.39,172.62 302.46,172.31 302.53,172.42 302.60,171.83 302.67,172.43 302.74,171.57 302.81,169.84 302.88,172.30 302.95,172.00 303.02,171.71 303.09,171.91 303.16,171.31 303.23,170.09 303.30,170.20 303.37,170.39 303.44,170.91 303.51,172.42 303.58,172.20 303.64,171.85 303.71,170.13 303.78,171.30 303.85,172.35 303.92,171.97 303.99,172.17 304.06,172.14 304.13,173.67 304.20,174.30 304.27,174.30 304.33,174.30 304.40,174.30 304.47,173.46 304.54,172.66 304.61,172.28 304.68,170.25 304.75,168.63 304.82,167.35 304.89,165.47 304.96,166.50 305.02,167.46 305.09,168.33 305.16,166.01 305.23,164.59 305.30,163.76 305.38,162.81 305.47,163.32 305.55,161.93 305.64,162.23 305.72,160.89 305.81,161.32 305.89,162.09 305.98,163.33 306.06,162.24 306.15,163.81 306.23,164.05 306.32,165.33 306.40,165.94 306.48,165.35 306.57,164.88 306.65,162.07 306.74,160.93 306.82,160.13 306.91,158.50 306.99,158.53 307.08,159.73 307.16,159.68 307.25,161.06 307.33,160.56 307.42,160.32 307.50,160.60 307.55,159.73 307.60,160.50 307.65,161.47 307.69,160.33 307.74,158.94 307.79,157.47 307.84,156.40 307.89,158.57 307.94,157.47 307.99,158.28 308.03,157.68 308.08,157.61 308.13,159.34 308.18,159.84 308.23,161.92 308.28,160.49 308.33,159.53 308.37,160.31 308.42,161.31 308.47,159.85 308.52,160.40 308.57,159.89 308.62,159.54 308.67,158.27 308.71,158.67 308.76,156.99 308.81,155.37 308.86,153.68 308.91,152.42 308.96,150.88 309.01,148.74 309.05,148.61 309.10,148.62 309.15,150.09 309.20,149.64 309.26,148.50 309.33,148.81 309.39,148.50 309.46,149.63 309.52,148.95 309.59,148.50 309.65,149.26 309.71,151.02 309.78,151.63 309.84,152.24 309.91,153.58 309.97,154.86 310.04,155.75 310.10,156.40 310.16,157.21 310.23,157.29 310.29,159.32 310.36,159.36 310.42,160.13 310.49,160.50 310.55,160.50 310.61,160.50 310.68,160.50 310.74,160.50 310.81,160.50 310.87,159.33 310.94,159.04 311.00,157.86 311.03,158.21 311.06,159.90 311.10,157.36 311.13,156.18 311.16,156.57 311.19,156.16 311.22,155.50 311.26,155.50 311.29,155.50 311.32,157.10 311.35,158.88 311.38,159.34 311.41,159.30 311.45,160.20 311.48,159.90 311.51,158.02 311.54,158.00 311.57,159.04 311.61,159.66 311.64,159.82 311.67,160.70 311.70,160.51 311.73,162.43 311.77,163.47 311.80,164.90 311.83,164.58 311.86,165.09 311.89,164.79 311.92,164.72 311.96,165.51 311.99,165.67 312.02,168.21 312.05,169.72 312.08,169.99 312.12,168.36 312.15,170.18 312.18,171.96 312.21,172.21 312.24,173.03 312.28,172.59 312.31,171.71 312.34,172.33 312.37,172.29 312.40,172.39 312.43,173.80 312.47,172.56 312.50,174.99 312.53,176.51 312.56,177.19 312.59,178.08 312.63,180.12 312.66,181.03 312.69,180.44 312.72,181.78 312.75,181.93 312.79,181.10 312.82,180.39 312.85,180.39 312.88,179.97 312.91,180.15 312.94,178.21 312.98,178.45 313.01,181.16 313.04,180.79 313.07,179.08 313.10,179.54 313.14,179.93 313.17,179.27 313.20,178.85 313.25,179.58 313.30,179.57 313.35,180.45 313.40,181.48 313.44,179.72 313.49,182.02 313.54,182.20 313.59,179.67 313.64,180.83 313.69,178.12 313.74,179.32 313.79,179.23 313.83,180.65 313.88,181.26 313.93,180.05 313.98,179.77 314.03,179.01 314.08,179.80 314.13,179.21 314.18,180.09 314.22,179.06 314.27,177.31 314.32,179.68 314.37,179.26 314.42,176.52 314.47,176.76 314.52,176.49 314.57,174.07 314.61,173.80 314.66,174.19 314.71,173.98 314.76,171.79 314.81,170.51 314.86,170.11 314.91,170.27 314.96,168.46 315.00,167.27 315.05,166.74 315.10,165.93 315.15,167.24 315.20,166.77 315.23,167.07 315.26,166.64 315.29,168.21 315.32,169.25 315.35,168.79 315.38,169.22 315.41,170.19 315.44,169.14 315.47,166.60 315.50,167.29 315.53,168.79 315.56,170.23 315.59,170.95 315.62,173.12 315.65,173.58 315.68,172.90 315.71,173.50 315.74,173.76 315.77,173.22 315.80,174.30 315.83,175.26 315.86,177.19 315.89,177.03 315.92,180.26 315.95,183.05 315.98,182.75 316.01,182.29 316.04,184.41 316.07,184.63 316.10,185.94 316.13,183.82 316.17,184.72 316.20,184.78 316.23,183.98 316.26,183.13 316.29,182.35 316.32,181.92 316.35,180.46 316.38,181.93 316.41,184.33 316.44,183.70 316.47,182.56 316.50,182.96 316.53,183.87 316.56,185.69 316.59,185.20 316.62,185.40 316.65,186.01 316.68,186.25 316.71,185.01 316.74,184.96 316.77,184.65 316.80,185.41 316.83,184.25 316.86,184.78 316.89,185.21 316.92,184.25 316.95,183.16 316.98,183.94 317.01,184.02 317.04,185.25 317.07,185.48 317.10,186.35 317.14,186.80 317.18,185.94 317.22,186.23 317.25,187.22 317.29,187.72 317.33,188.43 317.37,190.28 317.41,191.12 317.45,191.67 317.48,191.28 317.52,189.79 317.56,188.94 317.60,189.62 317.64,190.67 317.68,192.89 317.72,192.85 317.75,193.30 317.79,195.46 317.83,195.84 317.87,196.40 317.91,196.00 317.95,196.99 317.98,196.65 318.02,195.35 318.06,198.12 318.10,198.47 318.14,198.96 318.18,200.35 318.22,201.14 318.25,200.28 318.29,200.81 318.33,199.84 318.37,199.07 318.41,198.83 318.45,200.54 318.48,199.69 318.52,199.08 318.56,199.32 318.60,199.67 318.64,201.45 318.68,199.71 318.72,198.27 318.75,198.48 318.79,200.64 318.83,200.81 318.87,200.32 318.91,200.94 318.95,200.73 318.98,199.22 319.02,201.78 319.06,203.12 319.10,202.58 319.13,202.32 319.17,201.98 319.20,202.38 319.24,201.92 319.27,200.84 319.31,200.78 319.34,200.13 319.38,201.63 319.41,200.26 319.44,199.46 319.48,201.10 319.51,200.62 319.55,202.53 319.58,202.76 319.62,202.77 319.65,202.33 319.69,200.43 319.72,201.96 319.76,201.29 319.79,200.69 319.82,201.70 319.86,201.68 319.89,200.59 319.93,199.81 319.96,200.78 320.00,199.95 320.03,200.38 320.07,198.90 320.10,197.76 320.13,197.52 320.17,197.92 320.20,200.71 320.24,200.12 320.27,197.97 320.31,199.90 320.34,199.42 320.38,198.92 320.41,198.41 320.44,199.59 320.48,199.56 320.51,198.67 320.55,196.69 320.58,195.49 320.62,193.41 320.65,194.43 320.69,193.88 320.72,193.92 320.76,194.01 320.79,193.35 320.82,191.71 320.86,191.61 320.89,190.20 320.93,188.54 320.96,186.70 321.00,185.01 321.03,183.89 321.07,184.24 321.10,184.35 321.19,186.24 321.28,185.70 321.37,185.48 321.46,184.46 321.55,184.80 321.64,184.88 321.73,185.83 321.83,185.13 321.92,187.23 322.01,188.10 322.10,188.10 322.19,188.10 322.28,188.10 322.37,188.10 322.46,188.10 322.55,188.10 322.64,188.10 322.73,188.10 322.82,186.80 322.91,184.42 323.00,184.82 323.09,184.05 323.18,182.22 323.27,182.23 323.37,182.04 323.46,180.92 323.55,180.68 323.64,183.07 323.73,183.60 323.82,183.24 323.91,184.12 324.00,182.77 324.05,183.37 324.11,184.18 324.16,184.20 324.21,184.20 324.26,184.20 324.32,184.20 324.37,184.20 324.42,184.20 324.47,182.70 324.53,181.57 324.58,180.31 324.63,180.75 324.68,180.65 324.74,180.25 324.79,179.31 324.84,180.71 324.89,179.13 324.95,176.77 325.00,176.79 325.05,175.82 325.11,176.40 325.16,175.73 325.21,174.30 325.26,172.57 325.32,172.28 325.37,170.72 325.42,170.11 325.47,170.45 325.53,170.32 325.58,169.72 325.63,170.40 325.68,172.47 325.74,171.95 325.79,171.04 325.84,170.25 325.89,171.96 325.95,171.30 326.00,172.43 326.05,171.87 326.11,171.12 326.16,172.32 326.21,172.40 326.26,172.10 326.32,171.20 326.37,172.13 326.42,172.73 326.47,173.46 326.53,174.34 326.58,171.72 326.63,171.86 326.68,172.63 326.74,172.92 326.79,172.00 326.84,170.34 326.89,168.04 326.95,168.22 327.00,165.99 327.06,167.22 327.13,166.92 327.19,164.73 327.26,164.39 327.32,166.65 327.38,165.60 327.45,166.17 327.51,166.36 327.57,165.81 327.64,167.04 327.70,167.04 327.77,168.32 327.83,166.44 327.89,167.58 327.96,168.03 328.02,169.12 328.09,170.54 328.15,171.80 328.21,170.57 328.28,170.99 328.34,170.82 328.40,173.79 328.47,174.44 328.53,175.19 328.60,175.71 328.66,175.00 328.72,175.75 328.79,174.66 328.85,176.33 328.91,176.53 328.98,175.33 329.04,172.54 329.11,174.46 329.17,175.98 329.23,174.28 329.30,174.96 329.36,171.96 329.43,172.05 329.49,171.72 329.55,172.97 329.62,174.00 329.68,175.04 329.74,174.48 329.81,176.08 329.87,176.60 329.94,175.74 330.00,176.90 330.08,178.72 330.15,179.85 330.23,179.97 330.31,180.46 330.38,183.12 330.46,182.77 330.54,182.86 330.62,183.26 330.69,183.71 330.77,184.22 330.85,184.69 330.92,183.81 331.00,182.88 331.08,180.86 331.15,180.86 331.23,179.03 331.31,177.63 331.38,176.52 331.46,176.73 331.54,176.58 331.62,176.16 331.69,177.65 331.77,180.07 331.85,180.66 331.92,181.72 332.00,183.09 332.02,182.47 332.05,182.89 332.07,182.67 332.10,183.44 332.12,182.53 332.15,182.56 332.18,184.49 332.20,187.15 332.23,186.57 332.25,186.26 332.27,188.09 332.30,188.62 332.32,188.61 332.35,187.54 332.38,187.69 332.40,187.60 332.43,187.91 332.45,188.28 332.48,188.66 332.50,189.76 332.52,190.44 332.55,191.41 332.57,191.28 332.60,191.63 332.62,191.89 332.65,192.29 332.68,192.04 332.70,193.19 332.72,195.14 332.75,195.86 332.77,196.15 332.80,195.90 332.82,195.07 332.85,193.87 332.88,194.15 332.90,195.29 332.93,195.57 332.95,196.12 332.97,196.92 333.00,196.62 333.02,197.53 333.05,197.91 333.07,197.63 333.10,197.80 333.12,197.18 333.15,196.88 333.18,199.73 333.20,198.37 333.22,198.67 333.25,198.75 333.27,199.27 333.30,199.24 333.32,198.24 333.35,198.19 333.38,199.67 333.40,198.79 333.42,198.25 333.45,199.06 333.47,201.34 333.50,201.35 333.52,201.07 333.55,201.51 333.57,202.61 333.60,204.38 333.62,204.28 333.65,203.74 333.67,205.98 333.70,207.16 333.72,205.16 333.75,204.77 333.77,205.95 333.80,204.33 333.82,203.83 333.85,204.29 333.88,205.59 333.90,206.31 333.96,205.58 334.01,206.34 334.07,206.60 334.12,207.84 334.18,207.02 334.23,207.00 334.29,208.11 334.34,206.79 334.40,208.02 334.46,207.00 334.51,208.92 334.57,209.90 334.62,207.31 334.68,206.98 334.73,207.68 334.79,207.25 334.84,206.75 334.90,204.33 334.96,201.59 335.01,200.32 335.07,202.11 335.12,201.07 335.18,200.58 335.23,198.63 335.29,197.90 335.34,196.75 335.40,199.19 335.46,196.96 335.51,199.30 335.57,198.44 335.62,199.49 335.68,198.69 335.73,197.03 335.79,197.93 335.84,197.84 335.90,197.54 335.95,198.70 336.00,197.67 336.05,198.95 336.10,198.25 336.14,198.35 336.19,197.49 336.24,196.65 336.29,196.41 336.34,197.37 336.39,197.68 336.44,196.41 336.49,197.73 336.53,197.81 336.58,196.17 336.63,196.99 336.68,195.64 336.73,194.25 336.78,192.91 336.83,192.16 336.88,192.02 336.92,190.67 336.97,191.12 337.02,191.28 337.07,191.04 337.12,190.49 337.17,189.50 337.22,189.60 337.27,191.71 337.31,191.39 337.36,190.93 337.41,192.33 337.46,192.58 337.51,189.95 337.56,188.74 337.61,187.94 337.66,187.39 337.70,188.27 337.75,187.11 337.80,187.63 337.85,186.25 337.90,185.33 337.99,186.04 338.08,185.68 338.17,186.17 338.26,185.04 338.35,186.19 338.44,187.15 338.53,187.63 338.62,187.79 338.72,187.69 338.81,186.04 338.90,186.11 338.99,187.04 339.08,187.08 339.17,187.92 339.26,187.37 339.35,184.92 339.44,180.87 339.53,180.61 339.62,181.66 339.71,181.29 339.80,181.35 339.89,180.93 339.98,182.35 340.07,182.52 340.17,183.03 340.26,183.22 340.35,185.36 340.44,185.45 340.53,183.93 340.62,182.71 340.71,182.37 340.80,183.08 340.86,183.01 340.93,180.85 340.99,180.90 341.06,181.32 341.12,178.50 341.19,179.27 341.25,176.97 341.32,176.68 341.38,174.66 341.45,174.59 341.51,174.25 341.57,174.40 341.64,173.83 341.70,174.55 341.77,175.70 341.83,173.68 341.90,172.86 341.96,173.71 342.03,173.56 342.09,175.69 342.15,176.84 342.22,177.98 342.28,176.97 342.35,176.36 342.41,177.23 342.48,178.39 342.54,179.02 342.61,177.76 342.67,178.58 342.74,177.15 342.80,175.20 342.86,172.73 342.93,172.58 342.99,172.73 343.05,173.74 343.11,171.51 343.18,171.43 343.24,170.27 343.30,169.60 343.36,167.17 343.43,166.75 343.49,166.28 343.55,167.59 343.61,167.78 343.68,166.69 343.74,165.03 343.80,164.64 343.86,164.05 343.93,165.31 343.99,166.05 344.05,165.05 344.11,164.96 344.18,167.59 344.24,166.80 344.30,166.17 344.36,168.22 344.43,165.53 344.49,165.55 344.55,166.69 344.61,166.59 344.68,165.48 344.74,166.69 344.80,166.82 344.88,166.96 344.95,165.43 345.03,164.22 345.11,162.60 345.18,161.31 345.26,161.13 345.34,162.53 345.42,162.20 345.49,160.68 345.57,160.78 345.65,161.75 345.72,161.98 345.80,161.67 345.88,161.25 345.95,161.03 346.03,161.07 346.11,162.02 346.18,162.05 346.26,163.17 346.34,163.79 346.42,164.25 346.49,162.15 346.57,161.61 346.65,160.34 346.72,159.40 346.80,158.86 346.88,158.43 346.95,157.68 347.03,158.35 347.11,157.74 347.18,158.99 347.26,157.05 347.34,155.83 347.42,155.50 347.49,157.03 347.57,156.73 347.65,157.26 347.72,157.64 347.80,158.19 347.87,158.03 347.93,156.57 348.00,156.06 348.07,156.46 348.13,156.90 348.20,156.18 348.27,156.05 348.33,155.96 348.40,154.97 348.47,152.95 348.53,152.52 348.60,153.58 348.67,152.59 348.73,153.31 348.80,152.58 348.87,153.67 348.93,152.69 349.00,151.72 349.07,151.81 349.13,151.34 349.20,149.96 349.27,148.97 349.33,148.62 349.40,148.15 349.47,148.80 349.53,148.91 349.60,148.01 349.67,148.27 349.73,147.50 349.80,147.50 349.87,147.50 349.93,149.45 350.00,149.89 350.04,149.74 350.08,150.51 350.12,150.31 350.15,150.01 350.19,148.58 350.23,148.89 350.27,148.40 350.31,147.07 350.35,146.97 350.39,147.44 350.43,147.25 350.46,146.95 350.50,147.22 350.54,146.68 350.58,147.19 350.62,146.63 350.66,145.98 350.70,145.42 350.73,144.61 350.77,146.28 350.81,148.27 350.85,146.83 350.89,148.25 350.93,147.69 350.97,147.37 351.00,145.66 351.04,144.47 351.08,143.94 351.12,143.54 351.16,142.00 351.20,142.29 351.24,141.91 351.27,141.39 351.31,140.94 351.35,139.60 351.39,139.86 351.43,140.75 351.47,138.70 351.51,137.34 351.55,137.33 351.58,136.95 351.62,135.81 351.66,136.04 351.70,135.44 351.72,134.97 351.75,134.80 351.77,136.14 351.80,137.95 351.82,139.87 351.85,140.52 351.87,141.02 351.90,142.59 351.92,144.96 351.95,145.80 351.97,145.89 352.00,145.67 352.02,145.48 352.05,146.56 352.07,147.87 352.09,148.49 352.12,149.98 352.14,148.01 352.17,148.84 352.19,150.36 352.22,148.86 352.24,148.02 352.27,149.17 352.29,147.35 352.32,147.74 352.34,147.51 352.37,147.96 352.39,148.45 352.42,148.53 352.44,149.81 352.46,148.64 352.49,149.80 352.51,152.14 352.54,153.66 352.56,153.02 352.59,151.80 352.61,153.42 352.64,152.90 352.66,153.30 352.69,150.49 352.71,149.26 352.74,149.47 352.76,149.84 352.78,151.43 352.81,151.16 352.83,151.44 352.86,154.64 352.88,152.54 352.91,153.31 352.93,153.18 352.96,153.08 352.98,152.74 353.01,153.94 353.03,155.71 353.06,155.73 353.08,156.96 353.11,155.43 353.13,157.35 353.15,156.86 353.18,155.79 353.20,155.99 353.23,156.90 353.25,155.81 353.28,155.55 353.30,155.70 353.33,156.44 353.35,157.06 353.38,157.57 353.40,159.48 353.43,160.14 353.45,159.95 353.48,160.28 353.50,159.69 353.52,161.70 353.54,162.80 353.55,162.01 353.57,162.55 353.59,161.95 353.61,162.89 353.63,162.49 353.64,161.95 353.66,161.98 353.68,160.27 353.70,160.93 353.71,162.78 353.73,164.04 353.75,162.95 353.77,163.78 353.79,163.89 353.80,164.16 353.82,162.21 353.84,161.65 353.86,160.32 353.88,162.16 353.89,161.53 353.91,162.12 353.93,163.07 353.95,161.01 353.97,161.87 353.98,163.64 354.00,164.12 354.02,164.87 354.04,166.63 354.06,167.06 354.07,167.18 354.09,168.95 354.11,168.91 354.13,170.51 354.14,170.59 354.16,170.56 354.18,172.52 354.20,173.15 354.22,173.27 354.23,172.06 354.25,173.31 354.27,172.57 354.29,170.77 354.31,171.43 354.32,172.56 354.34,172.89 354.36,174.15 354.38,173.09 354.40,174.88 354.41,176.06 354.43,175.92 354.45,175.27 354.47,177.07 354.49,176.40 354.50,176.99 354.52,177.10 354.54,178.80 354.56,181.80 354.57,181.79 354.59,183.47 354.61,182.70 354.63,182.59 354.65,183.36 354.66,183.03 354.68,182.51 354.70,182.74 354.79,181.62 354.87,179.61 354.96,179.44 355.04,179.08 355.13,178.15 355.21,177.69 355.30,176.91 355.38,176.87 355.47,177.42 355.55,178.31 355.64,177.41 355.72,178.94 355.81,180.15 355.89,179.90 355.98,179.76 356.06,179.60 356.15,179.20 356.24,179.97 356.32,180.82 356.41,178.83 356.49,178.60 356.58,177.64 356.66,178.63 356.75,177.53 356.83,176.82 356.92,175.15 357.00,173.30 357.09,174.73 357.17,173.61 357.26,173.30 357.34,173.30 357.43,173.30 357.51,173.75 357.60,174.16 357.69,174.28 357.77,174.64 357.86,175.23 357.94,177.63 358.03,177.76 358.11,178.30 358.20,178.30 358.29,178.30 358.37,178.30 358.46,177.59 358.54,178.30 358.63,177.30 358.71,174.66 358.80,173.98 358.89,172.47 358.97,172.81 359.06,170.88 359.14,168.88 359.23,167.49 359.31,167.30 359.40,167.30 359.49,167.30 359.57,167.30 359.66,167.30 359.74,167.30 359.83,169.23 359.91,167.30 360.00,168.25 360.09,169.77 360.17,171.56 360.26,172.76 360.34,170.88 360.43,171.37 360.51,171.62 360.60,171.33 360.68,169.65 360.75,169.06 360.83,167.94 360.91,166.71 360.98,167.13 361.06,165.06 361.14,163.43 361.22,162.76 361.29,160.96 361.37,162.08 361.45,161.32 361.52,161.57 361.60,162.91 361.68,163.53 361.75,164.37 361.83,163.99 361.91,166.00 361.98,167.24 362.06,168.50 362.14,168.42 362.22,168.45 362.29,169.94 362.37,168.58 362.45,169.54 362.52,168.69 362.60,168.23 362.68,168.04 362.75,165.83 362.83,163.91 362.91,162.78 362.98,162.35 363.06,159.62 363.14,159.40 363.22,159.40 363.29,159.40 363.37,159.40 363.45,159.40 363.52,160.03 363.60,160.18 363.65,161.21 363.69,161.56 363.74,162.74 363.79,164.40 363.83,164.40 363.88,164.40 363.93,163.98 363.97,164.00 364.02,164.40 364.07,164.40 364.11,164.40 364.16,164.40 364.20,164.40 364.25,164.40 364.30,164.40 364.34,163.17 364.39,162.01 364.44,161.79 364.48,161.44 364.53,161.06 364.58,159.04 364.62,158.73 364.67,158.31 364.72,158.32 364.76,157.42 364.81,157.20 364.86,156.06 364.90,152.39 364.95,151.64 365.00,151.47 365.04,151.33 365.09,150.95 365.13,149.39 365.18,149.14 365.23,149.48 365.27,147.71 365.32,146.80 365.37,147.31 365.41,147.67 365.46,148.50 365.51,149.47 365.55,148.21 365.60,148.93 365.65,149.63 365.71,149.61 365.76,151.58 365.81,151.80 365.86,151.80 365.92,151.80 365.97,151.80 366.02,151.80 366.08,151.63 366.13,151.80 366.18,150.89 366.23,150.10 366.29,149.50 366.34,149.79 366.39,150.26 366.44,148.77 366.50,149.48 366.55,149.80 366.60,148.75 366.66,146.66 366.71,146.52 366.76,145.16 366.81,144.80 366.87,141.74 366.92,141.63 366.97,141.51 367.02,139.89 367.08,139.13 367.13,136.90 367.18,136.90 367.24,136.90 367.29,138.73 367.34,138.55 367.39,138.24 367.45,137.66 367.50,138.00 367.54,137.18 367.58,137.93 367.62,137.22 367.65,136.21 367.69,137.80 367.73,137.95 367.77,137.81 367.81,138.69 367.85,140.23 367.88,140.98 367.92,141.07 367.96,139.24 368.00,139.28 368.04,138.03 368.08,137.42 368.12,137.57 368.15,136.28 368.19,136.95 368.23,136.49 368.27,134.94 368.31,135.79 368.35,134.72 368.38,134.96 368.42,132.82 368.46,129.86 368.50,129.64 368.54,128.56 368.58,128.68 368.62,128.44 368.65,128.06 368.69,128.37 368.73,126.30 368.77,126.64 368.81,127.62 368.85,126.93 368.88,127.12 368.92,127.21 368.96,126.56 369.00,127.84 369.04,128.47 369.08,127.73 369.12,128.12 369.15,126.64 369.19,126.47 369.23,127.78 369.27,128.00 369.31,126.51 369.35,126.07 369.38,124.26 369.42,122.63 369.46,123.80 369.50,123.66 369.56,125.73 369.61,125.45 369.67,126.32 369.72,127.51 369.78,129.65 369.83,130.35 369.89,131.93 369.94,131.80 370.00,131.41 370.06,132.18 370.11,133.45 370.17,135.25 370.22,133.18 370.28,135.21 370.33,135.91 370.39,135.43 370.44,134.77 370.50,133.85 370.56,132.60 370.61,133.16 370.67,132.99 370.72,130.78 370.78,130.08 370.83,131.49 370.89,131.43 370.94,133.14 371.00,133.46 371.06,133.36 371.11,132.52 371.17,131.75 371.22,131.41 371.28,131.84 371.33,132.45 371.39,132.97 371.44,134.16 371.50,133.58 371.57,134.05 371.65,135.74 371.72,135.90 371.80,136.79 371.87,137.45 371.94,136.44 372.02,138.81 372.09,139.14 372.17,138.00 372.24,138.12 372.31,137.30 372.39,136.97 372.46,137.56 372.54,136.89 372.61,136.44 372.69,136.09 372.76,136.49 372.83,136.88 372.91,134.22 372.98,134.56 373.06,135.30 373.13,134.82 373.20,136.05 373.28,136.68 373.35,138.51 373.43,140.12 373.50,139.56 373.55,141.37 373.61,139.89 373.66,140.07 373.71,140.67 373.76,141.02 373.82,141.95 373.87,143.71 373.92,143.31 373.98,143.70 374.03,143.11 374.08,143.51 374.13,144.19 374.19,145.22 374.24,145.38 374.29,144.21 374.34,144.66 374.40,143.87 374.45,142.84 374.50,143.13 374.56,143.48 374.61,143.17 374.66,142.52 374.71,142.44 374.77,141.52 374.82,140.65 374.87,140.34 374.92,141.33 374.98,142.25 375.03,143.41 375.08,145.79 375.14,145.45 375.19,145.04 375.24,146.42 375.29,147.27 375.35,147.21 375.40,149.14 375.42,149.06 375.44,148.46 375.47,146.58 375.49,146.55 375.51,146.82 375.53,146.22 375.55,146.26 375.57,146.75 375.60,146.13 375.62,145.72 375.64,147.59 375.66,147.80 375.68,147.64 375.70,146.14 375.73,146.89 375.75,147.29 375.77,147.47 375.79,147.12 375.81,146.72 375.83,146.15 375.86,144.89 375.88,145.81 375.90,146.47 375.92,143.67 375.94,144.37 375.97,145.73 375.99,143.84 376.01,141.96 376.03,141.00 376.05,140.57 376.07,139.75 376.10,138.28 376.12,137.71 376.14,138.77 376.16,138.57 376.18,136.50 376.20,137.31 376.23,137.24 376.25,137.53 376.27,136.46 376.29,135.15 376.31,135.80 376.33,136.09 376.36,135.67 376.38,138.09 376.40,137.72 376.42,136.68 376.44,138.09 376.47,136.64 376.49,136.26 376.51,135.41 376.53,134.78 376.55,135.46 376.57,133.41 376.60,132.90 376.62,133.21 376.64,134.24 376.66,132.88 376.68,133.60 376.70,131.17 376.73,129.73 376.75,129.57 376.77,129.23 376.79,129.03 376.81,128.50 376.83,126.63 376.86,127.23 376.88,126.58 376.90,127.03 376.92,126.71 376.94,127.38 376.97,126.67 376.99,126.84 377.01,125.84 377.03,125.02 377.05,125.67 377.07,125.01 377.10,123.46 377.12,122.42 377.14,122.22 377.16,120.55 377.18,122.30 377.20,120.98 377.23,121.04 377.25,121.20 377.27,119.94 377.29,119.70 377.31,120.20 377.33,119.69 377.36,120.17 377.38,118.12 377.40,118.17 377.49,117.20 377.58,117.92 377.67,117.20 377.76,119.50 377.85,120.46 377.95,120.37 378.04,121.59 378.13,122.46 378.22,125.34 378.31,127.17 378.40,126.49 378.49,126.02 378.58,125.16 378.67,124.65 378.76,124.28 378.85,121.73 378.95,121.20 379.04,121.08 379.13,120.40 379.22,120.66 379.31,120.38 379.40,121.04 379.49,120.50 379.58,120.34 379.67,120.52 379.76,120.59 379.85,122.17 379.95,125.23 380.04,125.67 380.13,126.80 380.22,125.54 380.31,126.83 380.40,127.66 380.49,127.65 380.58,128.10 380.67,127.09 380.76,126.23 380.85,124.74 380.95,125.39 381.04,125.35 381.13,124.26 381.22,123.65 381.31,123.14 381.40,124.19 381.46,124.05 381.52,123.10 381.58,124.48 381.65,124.86 381.71,125.68 381.77,125.40 381.83,124.86 381.89,125.11 381.95,125.59 382.01,128.68 382.07,130.70 382.14,130.77 382.20,132.55 382.26,134.06 382.32,132.69 382.38,133.35 382.44,133.32 382.50,132.24 382.56,132.75 382.63,132.82 382.69,133.91 382.75,133.91 382.81,132.76 382.87,132.89 382.93,133.61 382.99,132.87 383.05,133.63 383.12,131.54 383.18,131.85 383.24,131.88 383.30,131.97 383.35,130.91 383.40,129.69 383.45,129.48 383.50,129.74 383.54,128.07 383.59,127.42 383.64,129.36 383.69,128.96 383.74,127.89 383.79,128.44 383.84,128.98 383.89,127.62 383.93,128.39 383.98,131.02 384.03,133.60 384.08,132.92 384.13,134.47 384.18,132.95 384.23,134.02 384.28,134.52 384.32,135.61 384.37,134.98 384.42,134.40 384.47,134.61 384.52,133.45 384.57,130.95 384.62,131.19 384.67,131.68 384.71,131.84 384.76,130.27 384.81,128.90 384.86,129.40 384.91,127.39 384.96,127.24 385.01,127.87 385.06,125.87 385.10,125.37 385.15,125.34 385.20,122.98 385.25,122.63 385.30,120.08 385.36,121.24 385.43,122.61 385.49,121.89 385.56,121.38 385.62,122.42 385.69,122.26 385.75,121.44 385.82,121.92 385.88,123.05 385.95,123.08 386.01,124.68 386.08,126.11 386.14,125.62 386.21,128.15 386.27,130.30 386.34,130.96 386.40,131.25 386.46,131.43 386.53,132.29 386.59,132.50 386.66,132.34 386.72,132.40 386.79,132.27 386.85,132.50 386.92,131.60 386.98,130.74 387.05,130.46 387.11,130.15 387.18,130.24 387.24,129.81 387.31,130.95 387.37,130.08 387.44,129.58 387.50,128.50 387.58,128.26 387.66,127.37 387.75,128.46 387.83,127.89 387.91,126.67 387.99,128.50 388.08,130.45 388.16,129.89 388.24,130.13 388.32,132.03 388.41,132.50 388.49,132.50 388.57,131.48 388.65,128.83 388.74,127.55 388.82,126.96 388.90,126.86 388.98,125.40 389.06,123.49 389.15,122.11 389.23,122.24 389.31,121.63 389.39,123.21 389.48,122.01 389.56,121.10 389.64,122.85 389.72,124.80 389.81,123.57 389.89,122.84 389.97,124.88 390.05,125.16 390.14,124.19 390.22,123.21 390.30,124.88 390.35,126.24 390.39,125.21 390.44,126.77 390.49,126.81 390.53,127.70 390.58,127.20 390.62,128.69 390.67,127.26 390.72,128.22 390.76,128.71 390.81,128.88 390.86,127.77 390.90,126.79 390.95,127.53 391.00,130.19 391.04,128.10 391.09,127.88 391.13,129.32 391.18,127.90 391.23,128.55 391.27,127.13 391.32,126.55 391.37,127.72 391.41,127.55 391.46,128.81 391.50,129.32 391.55,130.00 391.60,130.24 391.64,129.10 391.69,128.97 391.74,129.56 391.78,129.92 391.83,131.40 391.88,132.91 391.92,133.26 391.97,135.24 392.01,134.51 392.06,137.33 392.11,136.98 392.15,136.98 392.20,137.16 392.29,140.22 392.37,138.70 392.46,138.63 392.54,138.76 392.63,136.58 392.71,135.22 392.80,133.00 392.89,133.59 392.97,133.00 393.06,133.00 393.14,133.00 393.23,134.00 393.31,133.27 393.40,133.30 393.49,135.83 393.57,138.09 393.66,140.23 393.74,141.53 393.83,141.97 393.91,143.43 394.00,143.90 394.09,143.90 394.17,143.90 394.26,143.90 394.34,143.90 394.43,143.90 394.51,143.90 394.60,143.90 394.69,143.76 394.77,142.27 394.86,141.59 394.94,140.90 395.03,140.88 395.11,140.56 395.20,139.48 395.26,140.75 395.31,140.86 395.37,140.01 395.42,140.95 395.48,141.43 395.53,141.16 395.59,142.84 395.64,142.21 395.70,144.77 395.76,146.10 395.81,146.59 395.87,148.70 395.92,148.17 395.98,149.66 396.03,151.23 396.09,151.21 396.14,150.28 396.20,151.80 396.26,151.65 396.31,151.61 396.37,151.71 396.42,151.76 396.48,149.85 396.53,149.55 396.59,149.00 396.64,148.77 396.70,147.19 396.76,147.17 396.81,147.25 396.87,146.57 396.92,146.23 396.98,147.45 397.03,149.10 397.09,148.27 397.14,147.65 397.20,150.06 397.25,151.45 397.31,152.43 397.36,151.05 397.42,153.21 397.47,153.66 397.52,154.06 397.58,156.39 397.63,157.09 397.69,156.50 397.74,156.56 397.80,158.62 397.85,159.25 397.90,158.81 397.96,156.66 398.01,157.93 398.07,158.11 398.12,157.16 398.18,158.57 398.23,158.63 398.28,158.41 398.34,159.15 398.39,159.31 398.45,159.65 398.50,158.78 398.59,158.17 398.68,156.96 398.76,157.75 398.85,157.97 398.94,156.59 399.03,155.50 399.12,155.50 399.21,155.50 399.29,155.72 399.38,155.59 399.47,156.16 399.56,155.50 399.65,156.74 399.74,158.47 399.82,160.18 399.91,161.42 400.00,161.12 400.04,162.78 400.09,163.20 400.13,163.59 400.18,164.68 400.22,165.04 400.27,167.70 400.31,167.42 400.36,167.61 400.40,168.34 400.45,169.42 400.49,167.55 400.54,168.85 400.58,168.23 400.63,166.39 400.67,166.20 400.71,166.72 400.76,165.73 400.80,164.44 400.85,165.68 400.89,164.01 400.94,163.79 400.98,163.71 401.03,163.81 401.07,164.59 401.12,162.41 401.16,162.29 401.21,161.32 401.25,161.54 401.30,162.47 401.34,163.88 401.39,165.73 401.43,166.66 401.47,166.78 401.52,165.55 401.56,167.33 401.61,168.47 401.65,168.70 401.70,169.72 401.74,168.28 401.79,170.79 401.83,171.10 401.88,171.92 401.92,173.80 401.97,172.41 402.01,173.18 402.06,174.65 402.10,175.65 402.15,175.44 402.20,174.29 402.25,173.34 402.30,173.42 402.34,172.25 402.39,171.92 402.44,170.84 402.49,168.72 402.54,167.01 402.59,164.91 402.64,164.15 402.69,162.85 402.73,163.30 402.78,163.68 402.83,162.58 402.88,163.86 402.93,162.35 402.98,162.41 403.03,162.25 403.08,160.23 403.12,161.29 403.17,162.67 403.22,161.79 403.27,161.32 403.32,161.67 403.37,161.75 403.42,163.19 403.47,163.24 403.51,162.87 403.56,162.68 403.61,162.44 403.66,162.83 403.71,162.18 403.76,163.43 403.81,163.98 403.86,163.29 403.90,161.80 403.95,161.82 404.00,162.44 404.05,161.81 404.10,162.96 404.19,161.29 404.28,161.78 404.37,160.27 404.46,159.40 404.55,159.40 404.64,159.40 404.73,159.40 404.82,159.40 404.91,159.40 405.00,159.40 405.10,159.40 405.19,159.40 405.28,159.40 405.37,159.40 405.46,161.83 405.55,163.43 405.64,163.32 405.73,164.64 405.82,163.32 405.91,165.22 406.00,164.96 406.07,162.70 406.15,161.80 406.22,161.53 406.30,159.44 406.37,159.15 406.44,156.17 406.52,155.94 406.59,156.77 406.67,156.31 406.74,155.87 406.81,155.50 406.89,155.50 406.96,156.10 407.04,157.68 407.11,158.10 407.19,159.85 407.26,159.59 407.33,161.82 407.41,163.61 407.48,161.81 407.56,162.83 407.63,162.77 407.70,161.69 407.78,161.18 407.85,160.72 407.93,160.64 408.00,158.36 408.08,155.59 408.16,155.41 408.24,156.01 408.32,154.58 408.40,153.85 408.48,155.86 408.56,156.35 408.64,157.84 408.72,157.64 408.80,157.56 408.88,155.62 408.96,157.24 409.04,157.51 409.12,157.56 409.20,157.74 409.28,160.00 409.36,160.50 409.44,159.79 409.52,157.79 409.60,157.24 409.68,155.60 409.76,155.48 409.84,154.73 409.92,153.10 410.00,153.62 410.08,152.43 410.17,152.42 410.25,152.19 410.33,151.53 410.42,151.50 410.50,151.00 410.58,151.09 410.67,152.15 410.75,153.17 410.83,151.22 410.92,152.69 411.00,153.74 411.08,153.65 411.17,152.71 411.25,153.81 411.33,154.00 411.42,154.25 411.50,153.78 411.58,153.37 411.67,153.29 411.75,155.31 411.83,153.54 411.92,151.12 412.00,149.22" fill="none" stroke="#cc0a0a" stroke-width="0.85" stroke-linejoin="round" />
<polyline points="64.50,140.73 64.57,140.41 64.63,140.57 64.70,137.58 64.77,138.45 64.83,138.17 64.90,136.23 64.97,136.80 65.03,136.18 65.10,136.86 65.17,135.02 65.23,135.64 65.30,134.53 65.37,135.81 65.43,137.44 65.50,137.18 65.57,136.64 65.63,136.43 65.70,136.08 65.77,137.07 65.83,136.80 65.90,136.15 65.97,137.17 66.03,137.46 66.10,136.55 66.17,135.60 66.23,136.05 66.30,136.60 66.37,137.20 66.43,136.31 66.50,137.05 66.57,134.37 66.63,134.67 66.70,135.10 66.77,134.22 66.83,133.26 66.90,131.71 66.97,130.14 67.05,131.05 67.12,131.11 67.20,131.63 67.27,131.08 67.34,129.39 67.42,128.54 67.49,128.21 67.57,129.22 67.64,128.97 67.71,129.17 67.79,128.48 67.86,128.64 67.94,129.18 68.01,128.24 68.09,129.40 68.16,130.41 68.23,129.99 68.31,128.22 68.38,129.93 68.46,129.66 68.53,127.96 68.60,127.77 68.68,128.40 68.75,127.50 68.83,126.87 68.90,125.49 68.95,126.77 69.01,124.14 69.06,125.51 69.11,125.14 69.16,124.38 69.22,123.91 69.27,124.75 69.32,124.72 69.37,123.65 69.43,123.53 69.48,122.70 69.53,122.22 69.58,122.26 69.64,120.59 69.69,121.53 69.74,121.51 69.79,121.88 69.85,121.12 69.90,119.84 69.95,118.26 70.01,120.24 70.06,120.47 70.11,120.95 70.16,120.29 70.22,119.97 70.27,120.07 70.32,119.93 70.37,118.83 70.43,117.08 70.48,116.41 70.53,116.85 70.58,116.04 70.64,117.05 70.69,116.39 70.74,116.26 70.79,115.99 70.85,115.10 70.90,115.29 70.97,113.92 71.03,114.65 71.10,116.00 71.17,114.13 71.23,113.15 71.30,112.01 71.37,113.52 71.43,112.10 71.50,112.09 71.57,112.41 71.63,112.04 71.70,113.91 71.77,112.61 71.83,112.07 71.90,111.84 71.97,112.88 72.03,111.87 72.10,112.63 72.17,114.05 72.23,111.92 72.30,110.15 72.34,110.96 72.37,110.17 72.41,109.03 72.45,108.55 72.48,110.73 72.52,108.62 72.55,108.60 72.59,108.70 72.63,109.41 72.66,107.64 72.70,105.19 72.74,105.08 72.77,104.88 72.81,105.06 72.85,104.14 72.88,103.81 72.92,103.23 72.95,102.24 72.99,102.93 73.03,102.94 73.06,103.08 73.10,102.36 73.14,100.21 73.17,99.51 73.21,100.75 73.25,100.51 73.28,100.26 73.32,101.20 73.35,101.23 73.39,99.94 73.43,99.41 73.46,99.99 73.50,100.40 73.54,98.27 73.58,99.06 73.62,98.57 73.67,98.01 73.71,98.82 73.75,98.19 73.79,97.43 73.83,96.82 73.88,96.01 73.92,94.65 73.96,96.15 74.00,95.18 74.04,94.62 74.08,92.63 74.12,93.20 74.17,93.69 74.21,93.52 74.25,94.76 74.29,93.31 74.33,93.78 74.38,91.98 74.42,91.00 74.46,91.34 74.50,92.09 74.54,92.33 74.58,91.05 74.62,90.36 74.67,90.94 74.71,90.18 74.75,88.22 74.79,86.26 74.83,87.29 74.88,85.87 74.92,86.10 74.96,86.43 75.00,86.76 75.04,86.33 75.08,84.00 75.12,84.00 75.17,84.22 75.21,85.52 75.25,86.51 75.29,87.72 75.33,87.14 75.38,87.62 75.42,88.55 75.46,87.22 75.50,87.00 75.57,87.31 75.63,87.47 75.70,85.26 75.77,86.21 75.83,85.16 75.90,83.88 75.97,83.12 76.03,82.77 76.10,83.26 76.17,82.12 76.23,82.60 76.30,80.96 76.37,80.50 76.43,81.26 76.50,81.67 76.54,80.59 76.57,80.50 76.61,80.95 76.65,80.50 76.68,80.50 76.72,80.50 76.75,80.50 76.79,82.11 76.83,82.02 76.86,83.60 76.90,83.22 76.94,83.38 76.97,84.91 77.01,84.94 77.05,84.24 77.08,86.62 77.12,88.94 77.15,88.41 77.19,88.75 77.23,87.63 77.26,87.66 77.30,89.45 77.39,90.18 77.47,91.07 77.56,91.09 77.65,90.84 77.74,90.93 77.83,90.01 77.91,90.58 78.00,90.37 78.05,89.75 78.10,88.04 78.14,85.87 78.19,86.19 78.24,84.27 78.29,84.49 78.33,82.56 78.38,82.40 78.43,83.17 78.48,83.08 78.52,83.10 78.57,82.00 78.62,82.00 78.67,82.00 78.71,82.00 78.76,82.00 78.81,82.00 78.86,82.28 78.90,83.37 78.95,84.03 79.00,83.56 79.09,83.49 79.19,82.98 79.28,82.44 79.38,85.66 79.47,83.59 79.56,83.07 79.66,82.58 79.75,82.83 79.84,82.94 79.94,83.88 80.03,83.50 80.12,83.56 80.22,83.36 80.31,83.42 80.41,82.76 80.50,82.47 80.55,83.45 80.59,81.43 80.64,81.59 80.68,81.42 80.73,81.66 80.77,82.15 80.82,81.03 80.86,82.19 80.91,81.22 80.95,80.50 81.00,80.50 81.05,82.39 81.09,85.23 81.14,85.95 81.18,83.99 81.23,84.39 81.27,84.05 81.32,84.50 81.36,84.01 81.41,85.23 81.45,87.32 81.50,88.95 81.56,90.14 81.62,90.56 81.68,88.72 81.75,90.03 81.81,88.66 81.87,88.21 81.93,89.18 81.99,87.58 82.05,86.48 82.12,86.01 82.18,85.39 82.24,86.92 82.30,86.67 82.37,86.07 82.44,84.60 82.51,84.10 82.58,84.01 82.65,83.61 82.72,83.26 82.79,82.84 82.86,82.66 82.93,83.74 83.00,83.36 83.05,82.71 83.10,83.69 83.16,84.99 83.21,86.03 83.26,85.23 83.31,86.91 83.36,88.19 83.41,85.72 83.47,87.02 83.52,87.10 83.57,89.16 83.62,87.82 83.67,89.06 83.72,89.37 83.78,90.12 83.83,89.22 83.88,90.19 83.93,90.35 83.98,90.67 84.03,91.16 84.09,90.85 84.14,92.87 84.19,93.75 84.24,92.70 84.29,91.61 84.34,92.34 84.40,91.94 84.45,91.85 84.50,92.68 84.54,93.45 84.58,92.01 84.62,90.26 84.65,91.34 84.69,89.57 84.73,92.00 84.77,93.10 84.81,90.76 84.85,91.34 84.88,92.01 84.92,91.52 84.96,87.81 85.00,88.86 85.04,89.38 85.08,86.74 85.12,87.14 85.15,88.64 85.19,89.29 85.23,87.90 85.27,87.22 85.31,85.70 85.35,87.15 85.38,86.65 85.42,85.61 85.46,83.97 85.50,83.36 85.53,83.51 85.56,84.66 85.60,86.14 85.63,85.61 85.66,87.26 85.69,87.86 85.73,88.15 85.76,87.94 85.79,88.79 85.82,87.35 85.85,86.91 85.89,88.44 85.92,87.08 85.95,87.31 85.98,88.11 86.02,88.29 86.05,88.83 86.08,90.77 86.11,90.17 86.15,91.47 86.18,91.90 86.21,91.16 86.24,92.70 86.27,91.73 86.31,90.32 86.34,92.35 86.37,92.55 86.40,93.03 86.44,91.00 86.47,94.01 86.50,94.32 86.54,92.24 86.58,93.36 86.63,94.18 86.67,94.82 86.71,94.73 86.75,94.68 86.79,93.30 86.84,90.89 86.88,91.72 86.92,92.56 86.96,91.84 87.01,90.36 87.05,91.72 87.09,91.63 87.13,91.08 87.17,90.59 87.22,88.12 87.26,88.10 87.30,87.73 87.36,86.81 87.42,88.30 87.47,86.67 87.53,86.79 87.59,87.36 87.65,85.48 87.71,86.26 87.77,85.71 87.83,85.59 87.88,84.79 87.94,84.87 88.00,84.08 88.04,85.41 88.08,87.56 88.12,88.11 88.15,86.93 88.19,88.11 88.23,89.03 88.27,90.00 88.31,88.36 88.35,87.46 88.38,87.51 88.42,87.79 88.46,88.21 88.50,89.16 88.54,89.01 88.58,91.18 88.62,92.57 88.65,91.99 88.69,92.79 88.73,92.16 88.77,92.41 88.81,93.14 88.85,93.80 88.88,95.00 88.92,94.12 88.96,94.49 89.00,94.40 89.05,95.00 89.10,95.00 89.15,94.23 89.19,93.15 89.24,93.30 89.29,92.51 89.34,92.81 89.39,92.95 89.44,92.28 89.48,90.96 89.53,91.81 89.58,89.38 89.63,88.69 89.68,89.32 89.73,87.68 89.77,86.98 89.82,83.78 89.87,83.48 89.92,84.18 89.97,84.52 90.02,84.02 90.06,83.56 90.11,83.40 90.16,82.26 90.21,83.81 90.26,83.56 90.31,82.00 90.35,84.50 90.40,84.83 90.45,85.70 90.50,84.67 90.54,85.37 90.58,84.32 90.63,85.21 90.67,85.77 90.71,84.77 90.75,84.01 90.80,84.00 90.84,86.00 90.88,84.04 90.92,83.73 90.97,82.09 91.01,82.09 91.05,82.20 91.09,80.88 91.13,79.17 91.18,79.59 91.22,79.37 91.26,77.45 91.30,78.09 91.35,79.36 91.39,78.78 91.43,79.26 91.47,79.74 91.52,78.88 91.56,76.08 91.60,76.54 91.64,76.85 91.69,76.96 91.73,77.07 91.78,76.87 91.82,76.53 91.87,76.53 91.91,76.97 91.96,77.62 92.00,78.73 92.05,79.02 92.09,80.11 92.14,78.45 92.19,78.75 92.23,78.32 92.28,80.65 92.32,80.22 92.36,80.60 92.41,81.56 92.45,81.80 92.50,81.35 92.58,82.01 92.67,82.15 92.75,81.71 92.83,83.27 92.92,82.40 93.00,81.88 93.08,81.41 93.17,81.21 93.25,81.91 93.33,80.20 93.42,80.36 93.50,80.95 93.53,81.92 93.57,80.71 93.60,80.11 93.63,79.93 93.67,81.66 93.70,79.57 93.73,79.99 93.77,81.02 93.80,83.43 93.83,84.55 93.87,84.07 93.90,82.70 93.93,80.37 93.97,81.82 94.00,81.79 94.03,82.79 94.07,82.47 94.10,82.99 94.13,83.13 94.17,84.54 94.20,84.39 94.23,83.47 94.27,84.17 94.30,83.83 94.33,83.98 94.37,84.10 94.40,84.32 94.43,83.90 94.47,84.31 94.50,86.15 94.53,86.92 94.57,86.48 94.60,86.90 94.63,87.89 94.67,87.87 94.70,89.13 94.73,89.49 94.77,89.82 94.80,90.94 94.83,91.58 94.87,91.04 94.90,91.60 94.93,93.02 94.97,92.15 95.00,93.12 95.05,92.14 95.10,93.24 95.16,93.87 95.21,93.05 95.26,93.99 95.31,94.20 95.36,94.17 95.41,94.62 95.47,94.09 95.52,95.21 95.57,94.54 95.62,94.12 95.67,93.12 95.72,94.03 95.78,93.13 95.83,91.83 95.88,91.06 95.93,91.93 95.98,90.93 96.03,92.33 96.09,90.56 96.14,88.07 96.19,88.34 96.24,88.83 96.29,85.53 96.34,85.62 96.40,86.79 96.45,86.80 96.50,85.56 96.53,85.87 96.55,86.21 96.58,84.97 96.61,84.55 96.63,85.11 96.66,84.88 96.68,85.55 96.71,84.85 96.74,84.75 96.76,86.70 96.79,87.17 96.82,88.47 96.84,91.09 96.87,89.84 96.89,88.40 96.92,87.66 96.95,87.17 96.97,88.60 97.00,88.01 97.03,87.44 97.05,89.04 97.08,90.14 97.11,89.85 97.13,91.54 97.16,90.77 97.18,93.57 97.21,94.39 97.24,94.54 97.26,95.56 97.29,96.07 97.32,97.64 97.34,97.70 97.37,97.25 97.39,96.30 97.42,97.52 97.45,98.27 97.47,97.66 97.50,99.10 97.56,100.65 97.62,99.77 97.69,100.99 97.75,99.50 97.81,100.20 97.88,99.98 97.94,99.79 98.00,101.04 98.06,101.26 98.12,102.13 98.19,102.75 98.25,102.29 98.31,101.25 98.38,102.10 98.44,100.93 98.50,99.69 98.56,100.77 98.62,101.10 98.69,102.65 98.75,101.37 98.81,102.77 98.88,102.92 98.94,104.07 99.00,103.04 99.04,104.49 99.08,102.62 99.12,102.05 99.15,102.00 99.19,102.00 99.23,102.99 99.27,104.08 99.31,104.68 99.35,104.74 99.38,104.80 99.42,106.49 99.46,106.72 99.50,108.19 99.57,109.00 99.64,109.19 99.71,109.18 99.79,108.43 99.86,107.28 99.93,107.62 100.00,107.88 100.07,108.35 100.14,106.80 100.21,105.73 100.29,105.51 100.36,105.02 100.43,104.17 100.50,102.72 100.57,102.81 100.64,102.41 100.71,101.87 100.79,103.12 100.86,104.18 100.93,103.69 101.00,101.90 101.08,101.00 101.17,101.00 101.25,102.39 101.33,102.23 101.42,101.00 101.50,101.00 101.58,101.00 101.67,101.00 101.75,103.03 101.83,103.45 101.92,105.17 102.00,105.60 102.08,105.96 102.17,107.13 102.25,105.93 102.33,107.62 102.42,107.80 102.50,106.80 102.56,107.78 102.62,107.91 102.69,107.10 102.75,107.12 102.81,106.29 102.88,107.60 102.94,106.27 103.00,107.05 103.06,107.26 103.12,107.67 103.19,107.12 103.25,107.75 103.31,107.70 103.38,106.45 103.44,108.43 103.50,109.15 103.56,109.88 103.62,110.00 103.69,110.27 103.75,111.53 103.81,113.13 103.88,113.90 103.94,113.87 104.00,114.84 104.06,114.29 104.12,114.33 104.19,114.94 104.25,115.70 104.31,114.48 104.38,113.34 104.44,115.18 104.50,114.73 104.57,115.19 104.64,114.69 104.71,114.04 104.78,113.86 104.85,115.94 104.92,115.26 104.99,116.00 105.06,114.35 105.13,115.06 105.20,114.73 105.27,114.96 105.34,115.63 105.41,114.60 105.49,113.43 105.56,113.37 105.63,115.77 105.70,115.58 105.77,114.80 105.84,116.23 105.91,115.32 105.98,114.88 106.05,115.88 106.12,116.56 106.19,117.97 106.26,118.74 106.33,120.12 106.40,120.18 106.44,118.98 106.48,120.85 106.52,121.69 106.55,122.46 106.59,123.39 106.63,123.03 106.67,122.90 106.71,123.66 106.75,122.88 106.78,124.13 106.82,123.94 106.86,125.10 106.90,123.86 106.94,125.08 106.98,127.58 107.02,126.35 107.05,126.60 107.09,126.29 107.13,127.80 107.17,126.36 107.21,126.27 107.25,125.02 107.28,127.08 107.32,126.99 107.36,127.24 107.40,127.18 107.48,127.33 107.57,126.02 107.65,126.03 107.73,125.61 107.82,125.45 107.90,126.80 107.98,126.45 108.07,127.50 108.15,127.10 108.23,127.04 108.32,127.25 108.40,126.29 108.48,126.38 108.57,125.69 108.65,126.46 108.73,127.00 108.82,127.03 108.90,126.63 108.98,126.37 109.07,125.51 109.15,126.16 109.23,125.83 109.32,124.36 109.40,123.48 109.44,125.75 109.49,124.12 109.53,123.53 109.57,123.82 109.61,124.76 109.66,123.83 109.70,122.55 109.74,124.70 109.78,124.85 109.83,125.46 109.87,127.19 109.91,125.40 109.95,126.89 110.00,126.20 110.04,127.14 110.08,127.65 110.12,129.14 110.17,129.13 110.21,130.05 110.25,131.22 110.29,130.94 110.34,131.86 110.38,131.53 110.42,131.15 110.46,131.51 110.51,131.67 110.55,131.05 110.59,131.80 110.63,131.93 110.68,133.60 110.72,133.15 110.76,132.30 110.80,132.88 110.85,134.64 110.89,136.07 110.93,136.40 110.97,136.17 111.02,134.78 111.06,136.47 111.10,134.67 111.14,134.30 111.19,135.76 111.23,135.50 111.27,135.44 111.31,137.48 111.36,138.02 111.40,137.63 111.47,137.49 111.54,138.19 111.61,138.72 111.68,136.46 111.75,138.56 111.81,138.26 111.88,136.71 111.95,138.00 112.02,138.35 112.09,138.56 112.16,139.20 112.23,138.46 112.30,141.71 112.37,142.84 112.44,143.04 112.50,143.01 112.57,141.82 112.64,142.72 112.71,143.78 112.78,143.08 112.85,144.37 112.92,144.44 112.99,142.94 113.06,144.07 113.13,144.29 113.20,145.87 113.26,145.40 113.33,145.18 113.40,144.13 113.47,145.32 113.54,145.50 113.61,146.04 113.68,145.51 113.75,147.42 113.82,147.39 113.89,146.28 113.95,146.66 114.02,146.45 114.09,147.72 114.16,148.31 114.23,147.42 114.30,146.84 114.35,146.19 114.40,146.61 114.45,146.00 114.50,147.16 114.55,147.65 114.60,147.97 114.65,148.69 114.70,150.23 114.75,152.54 114.80,150.45 114.85,151.88 114.90,151.69 114.95,152.40 115.00,152.26 115.05,152.44 115.10,153.98 115.15,152.48 115.20,153.16 115.25,153.03 115.30,153.94 115.35,153.81 115.40,155.71 115.45,157.20 115.50,155.60 115.55,154.85 115.60,155.36 115.65,156.28 115.70,156.59 115.75,157.29 115.80,158.75 115.85,156.81 115.90,156.30 115.95,156.52 116.00,158.22 116.05,157.17 116.10,157.39 116.15,158.41 116.20,157.61 116.25,157.41 116.30,156.76 116.35,159.72 116.40,159.64 116.45,159.42 116.50,159.51 116.55,159.58 116.60,160.13 116.64,161.43 116.69,160.49 116.74,161.64 116.79,163.15 116.83,163.53 116.88,163.57 116.93,164.92 116.98,163.77 117.02,165.28 117.07,163.64 117.12,163.47 117.17,165.10 117.21,164.00 117.26,165.14 117.31,165.72 117.36,163.80 117.40,164.54 117.45,164.74 117.50,164.54 117.55,164.52 117.60,164.01 117.64,166.25 117.69,166.38 117.74,167.77 117.79,165.77 117.83,167.78 117.88,166.81 117.93,166.84 117.98,167.67 118.02,167.38 118.07,167.76 118.12,169.15 118.17,169.88 118.21,169.22 118.26,170.56 118.31,169.35 118.36,169.20 118.40,171.86 118.45,171.53 118.50,171.74 118.54,172.04 118.58,171.87 118.63,170.72 118.67,170.20 118.71,171.18 118.75,171.46 118.79,170.84 118.83,173.08 118.88,172.92 118.92,174.74 118.96,176.29 119.00,177.32 119.04,176.56 119.09,178.03 119.13,178.55 119.17,177.81 119.21,177.94 119.25,176.77 119.30,176.93 119.34,177.99 119.38,176.64 119.42,177.52 119.46,178.57 119.50,178.79 119.55,179.30 119.59,178.16 119.63,180.07 119.67,178.84 119.71,179.87 119.76,182.14 119.80,183.11 119.84,182.37 119.88,182.29 119.92,182.29 119.97,182.86 120.01,183.35 120.05,182.85 120.09,184.61 120.13,183.32 120.17,185.35 120.22,186.07 120.26,185.07 120.30,185.00 120.35,185.98 120.39,185.63 120.44,185.83 120.49,184.10 120.53,185.41 120.58,186.27 120.63,186.76 120.67,185.13 120.72,187.95 120.77,185.70 120.81,186.35 120.86,187.57 120.91,186.65 120.96,187.59 121.00,186.79 121.05,186.14 121.10,184.74 121.14,185.13 121.19,187.39 121.24,186.86 121.28,189.62 121.33,189.71 121.38,190.87 121.42,191.62 121.47,191.85 121.52,191.61 121.56,193.12 121.61,192.79 121.66,195.49 121.70,193.77 121.75,192.85 121.80,192.55 121.84,193.08 121.89,193.37 121.94,193.34 121.99,195.93 122.03,195.54 122.08,194.68 122.13,195.29 122.17,197.15 122.22,197.15 122.27,195.88 122.31,196.77 122.36,197.73 122.41,198.23 122.45,198.50 122.50,198.70 122.54,200.77 122.58,201.83 122.62,202.44 122.66,201.80 122.69,200.89 122.73,199.64 122.77,198.63 122.81,198.86 122.85,199.03 122.89,200.29 122.93,199.29 122.97,201.28 123.01,200.64 123.04,198.52 123.08,199.95 123.12,199.63 123.16,199.15 123.20,200.34 123.24,200.29 123.28,201.12 123.32,201.62 123.36,203.29 123.39,203.17 123.43,203.86 123.47,205.47 123.51,205.16 123.55,206.98 123.59,206.39 123.63,206.27 123.67,210.36 123.71,209.85 123.74,210.29 123.78,209.76 123.82,210.38 123.86,209.68 123.90,210.71 123.94,211.73 123.98,211.18 124.02,212.45 124.06,212.77 124.09,213.02 124.13,212.44 124.17,212.53 124.21,212.73 124.25,212.15 124.29,210.77 124.33,214.06 124.37,212.03 124.41,213.46 124.44,213.36 124.48,213.89 124.52,214.06 124.56,214.52 124.60,214.96 124.63,217.55 124.66,219.28 124.69,218.26 124.72,218.92 124.76,217.05 124.79,218.00 124.82,219.01 124.85,218.21 124.88,218.51 124.91,218.50 124.94,217.36 124.97,217.92 125.01,218.55 125.04,218.28 125.07,219.58 125.10,219.82 125.13,221.45 125.16,219.60 125.19,218.58 125.22,219.15 125.26,220.91 125.29,221.60 125.32,222.07 125.35,222.76 125.38,220.51 125.41,220.79 125.44,222.39 125.47,223.94 125.51,223.79 125.54,225.36 125.57,225.18 125.60,224.88 125.64,225.34 125.67,226.05 125.71,226.51 125.75,226.14 125.79,227.57 125.83,229.08 125.86,229.28 125.90,229.45 125.94,230.75 125.97,231.10 126.01,231.53 126.05,231.90 126.09,231.90 126.12,231.90 126.16,230.87 126.20,230.61 126.24,231.48 126.29,230.77 126.33,231.90 126.37,230.83 126.41,229.27 126.46,230.35 126.50,228.75 126.54,227.60 126.59,229.00 126.63,229.57 126.67,227.84 126.71,228.15 126.76,226.47 126.80,226.13 126.84,227.24 126.88,227.31 126.93,226.25 126.97,224.99 127.01,224.00 127.05,224.15 127.10,226.85 127.14,226.40 127.18,226.91 127.22,227.67 127.27,227.62 127.31,227.36 127.35,227.91 127.39,226.39 127.44,227.11 127.48,227.41 127.52,228.22 127.56,229.15 127.61,230.25 127.65,230.45 127.69,229.12 127.73,227.84 127.78,229.04 127.82,230.55 127.86,231.90 127.90,233.90 127.95,235.18 127.99,235.75 128.03,236.26 128.07,235.78 128.12,235.70 128.16,235.85 128.20,236.46 128.30,238.80 128.39,237.97 128.49,239.04 128.58,239.07 128.68,238.24 128.77,237.86 128.87,239.12 128.96,237.73 129.06,236.69 129.15,238.62 129.25,237.57 129.34,235.20 129.44,235.73 129.53,237.27 129.63,237.83 129.72,236.05 129.82,235.66 129.91,235.92 130.01,237.32 130.10,238.25 130.20,237.84 130.24,236.82 130.27,238.41 130.31,240.15 130.35,240.71 130.38,240.80 130.42,240.56 130.46,241.01 130.49,242.33 130.53,242.07 130.57,241.68 130.60,241.94 130.64,242.44 130.67,241.64 130.71,244.10 130.75,244.30 130.78,244.80 130.82,245.09 130.86,244.93 130.89,244.07 130.93,243.06 130.97,245.46 131.00,246.20 131.04,246.49 131.08,244.90 131.11,245.30 131.15,245.27 131.19,245.94 131.22,246.02 131.26,244.67 131.30,244.71 131.33,245.48 131.37,246.34 131.41,246.57 131.44,247.15 131.48,247.28 131.52,248.16 131.55,250.51 131.59,248.82 131.62,247.60 131.66,249.66 131.70,250.12 131.73,250.95 131.77,250.97 131.81,252.84 131.84,253.15 131.88,253.13 131.92,250.81 131.95,251.67 131.99,251.42 132.03,251.62 132.06,252.72 132.10,252.64 132.16,253.65 132.23,253.93 132.29,255.09 132.36,254.27 132.42,255.33 132.48,256.25 132.55,257.18 132.61,256.76 132.67,257.47 132.74,257.49 132.80,256.74 132.87,258.95 132.93,258.25 132.99,260.92 133.06,262.42 133.12,262.21 133.19,260.79 133.25,260.73 133.31,262.85 133.38,263.10 133.44,261.27 133.50,261.91 133.57,263.74 133.63,264.30 133.70,261.97 133.76,263.88 133.82,261.72 133.89,263.38 133.95,262.99 134.01,262.93 134.08,263.42 134.14,263.67 134.21,263.93 134.27,266.65 134.33,266.09 134.40,266.39 134.46,266.25 134.53,266.55 134.59,267.45 134.65,267.50 134.72,267.50 134.78,267.50 134.84,267.50 134.91,267.50 134.97,266.97 135.04,266.83 135.10,266.53 135.15,267.08 135.19,266.81 135.24,268.67 135.28,270.01 135.33,271.43 135.37,269.57 135.42,269.86 135.46,271.65 135.51,273.01 135.55,272.11 135.60,273.32 135.65,272.54 135.69,272.58 135.74,272.98 135.78,274.49 135.83,272.66 135.87,271.95 135.92,274.37 135.96,274.32 136.01,272.93 136.05,273.64 136.10,273.90 136.15,273.06 136.19,274.07 136.24,274.73 136.28,276.54 136.33,274.02 136.37,274.14 136.42,273.14 136.46,274.35 136.51,275.09 136.55,276.96 136.60,277.31 136.65,277.37 136.69,277.86 136.74,278.81 136.78,279.18 136.83,276.88 136.87,277.99 136.92,275.99 136.96,278.19 137.01,278.51 137.05,278.93 137.10,278.92 137.12,279.50 137.14,280.30 137.17,280.30 137.19,280.30 137.21,280.30 137.23,280.30 137.25,280.30 137.27,280.30 137.30,279.71 137.32,279.18 137.34,279.25 137.36,279.52 137.38,278.28 137.40,277.75 137.43,277.11 137.45,276.30 137.47,273.95 137.49,274.12 137.51,274.76 137.53,275.33 137.56,274.64 137.58,275.83 137.60,276.47 137.62,275.05 137.64,274.17 137.67,274.92 137.69,275.72 137.71,275.57 137.73,273.01 137.75,273.25 137.77,275.87 137.80,273.94 137.82,272.75 137.84,272.69 137.86,270.51 137.88,270.89 137.90,269.40 137.93,269.10 137.95,268.84 137.97,269.17 137.99,267.88 138.01,266.96 138.03,266.08 138.06,264.25 138.08,264.26 138.10,263.84 138.16,263.21 138.22,263.25 138.28,261.66 138.35,262.14 138.41,260.24 138.47,258.38 138.53,256.93 138.59,256.66 138.65,256.96 138.71,256.29 138.77,253.86 138.84,254.82 138.90,254.60 138.96,256.69 139.02,256.70 139.08,256.98 139.14,257.00 139.20,256.49 139.26,257.95 139.33,258.09 139.39,257.40 139.45,257.97 139.51,257.03 139.57,257.71 139.63,259.12 139.69,258.10 139.75,257.85 139.82,256.29 139.88,257.60 139.94,257.64 140.00,257.11 140.07,255.42 140.14,255.19 140.21,253.19 140.28,253.78 140.35,253.42 140.42,251.34 140.49,250.45 140.56,250.04 140.63,248.98 140.70,250.13 140.77,249.54 140.84,248.77 140.91,248.25 140.98,246.69 141.05,244.98 141.12,245.46 141.19,243.70 141.26,243.78 141.33,244.64 141.40,243.70 141.47,243.70 141.53,246.55 141.60,245.86 141.67,247.21 141.74,247.27 141.81,246.64 141.88,248.98 141.95,247.98 142.02,249.12 142.09,249.13 142.16,249.17 142.23,249.21 142.30,247.45 142.37,245.84 142.44,245.48 142.51,244.23 142.58,244.25 142.65,244.02 142.72,244.01 142.79,244.51 142.86,243.70 142.93,244.98 143.00,244.89 143.06,242.37 143.12,241.26 143.19,240.21 143.25,238.83 143.31,237.94 143.38,239.56 143.44,240.69 143.50,240.48 143.56,238.92 143.62,239.17 143.69,237.69 143.75,240.32 143.81,241.19 143.88,239.99 143.94,241.48 144.00,241.64 144.06,242.09 144.12,242.66 144.19,244.27 144.25,244.51 144.31,244.37 144.38,243.13 144.44,243.13 144.50,241.76 144.56,242.92 144.62,241.35 144.69,241.97 144.75,240.24 144.81,238.96 144.88,238.16 144.94,237.57 145.00,236.97 145.06,237.19 145.11,236.72 145.17,236.91 145.22,237.18 145.28,235.16 145.33,236.43 145.39,234.93 145.44,233.45 145.50,233.31 145.56,233.61 145.61,233.42 145.67,235.29 145.72,235.42 145.78,234.89 145.83,235.28 145.89,234.50 145.94,233.98 146.00,234.26 146.06,234.49 146.11,233.26 146.17,232.12 146.22,233.97 146.28,231.69 146.33,230.30 146.39,228.94 146.44,229.51 146.50,229.96 146.56,229.88 146.61,229.35 146.67,227.97 146.72,227.24 146.78,227.57 146.83,228.66 146.89,227.60 146.94,228.63 147.00,227.63 147.05,226.32 147.10,225.46 147.15,225.96 147.20,226.40 147.25,225.35 147.30,225.60 147.35,223.86 147.40,224.64 147.45,224.45 147.50,222.75 147.55,223.54 147.60,222.79 147.65,221.02 147.70,220.05 147.75,220.44 147.80,221.00 147.85,220.39 147.90,220.70 147.95,222.71 148.00,221.22 148.05,222.91 148.10,221.14 148.15,223.14 148.20,223.71 148.25,222.06 148.30,222.11 148.35,221.67 148.40,219.53 148.45,220.20 148.50,220.39 148.55,218.30 148.60,219.09 148.65,220.77 148.70,220.01 148.75,217.60 148.80,217.77 148.85,218.24 148.90,219.57 148.95,218.46 149.00,217.41 149.05,216.86 149.10,217.39 149.15,215.01 149.20,214.70 149.25,213.01 149.30,215.62 149.35,214.32 149.40,214.24 149.45,217.22 149.50,216.94 149.55,215.91 149.60,214.95 149.65,213.66 149.70,212.27 149.75,213.09 149.80,212.41 149.85,211.96 149.90,210.39 149.96,212.03 150.01,210.78 150.07,210.63 150.12,210.42 150.18,211.31 150.23,209.99 150.29,210.66 150.34,209.62 150.40,207.94 150.46,208.95 150.51,209.59 150.57,207.16 150.62,205.87 150.68,205.68 150.73,206.09 150.79,207.87 150.84,206.96 150.90,206.86 150.96,206.39 151.01,207.39 151.07,207.81 151.12,208.39 151.18,207.21 151.23,206.95 151.29,204.80 151.34,204.10 151.40,203.46 151.46,202.22 151.51,200.89 151.57,199.50 151.62,200.47 151.68,201.38 151.73,199.88 151.79,199.50 151.84,199.50 151.90,200.52 151.94,199.71 151.98,200.20 152.03,198.88 152.07,198.86 152.11,199.59 152.15,198.34 152.19,198.68 152.23,198.41 152.28,197.61 152.32,197.05 152.36,194.93 152.40,196.99 152.44,197.16 152.48,197.74 152.53,197.56 152.57,196.62 152.61,195.47 152.65,195.18 152.69,194.43 152.73,195.49 152.78,195.70 152.82,195.84 152.86,195.13 152.90,195.49 152.97,196.58 153.04,197.34 153.11,197.89 153.18,197.15 153.24,196.23 153.31,196.11 153.38,197.34 153.45,197.10 153.52,197.05 153.59,195.98 153.66,197.13 153.73,196.24 153.80,196.64 153.87,196.92 153.93,197.92 154.00,198.23 154.07,195.30 154.14,196.10 154.21,196.69 154.28,198.95 154.35,198.86 154.42,198.41 154.49,196.52 154.56,198.11 154.62,198.23 154.69,200.25 154.76,200.50 154.83,202.40 154.90,202.21 154.95,203.50 155.01,203.50 155.06,203.50 155.11,203.50 155.16,203.50 155.22,202.14 155.27,200.17 155.32,200.14 155.38,201.54 155.43,200.22 155.48,200.12 155.53,200.97 155.59,200.64 155.64,200.13 155.69,199.97 155.74,198.10 155.80,195.42 155.85,194.45 155.90,194.55 155.96,194.09 156.01,194.30 156.06,194.70 156.11,195.49 156.17,195.06 156.22,194.36 156.27,194.79 156.33,193.65 156.38,194.26 156.43,195.27 156.48,195.82 156.54,194.26 156.59,191.81 156.64,191.72 156.69,192.32 156.75,191.08 156.80,191.55 156.83,193.01 156.86,192.91 156.89,194.83 156.92,197.56 156.94,196.62 156.97,195.04 157.00,196.37 157.03,198.29 157.06,198.63 157.09,198.08 157.12,199.32 157.15,198.94 157.18,200.50 157.21,201.87 157.23,203.22 157.26,202.90 157.29,201.86 157.32,202.62 157.35,202.88 157.38,203.05 157.41,203.78 157.44,202.64 157.47,202.13 157.50,201.36 157.52,199.91 157.55,200.48 157.58,202.54 157.61,203.01 157.64,203.77 157.67,203.68 157.70,202.51 157.73,201.70 157.76,201.84 157.79,201.62 157.81,201.15 157.84,202.38 157.87,201.43 157.90,202.66 157.93,200.68 157.96,201.80 157.99,201.98 158.02,201.18 158.05,202.43 158.08,202.27 158.10,204.39 158.13,205.03 158.16,203.11 158.19,204.76 158.22,205.29 158.25,207.23 158.28,208.20 158.31,209.82 158.34,209.86 158.37,210.35 158.39,212.42 158.42,211.76 158.45,210.80 158.48,210.74 158.51,211.56 158.54,212.54 158.57,211.86 158.60,212.16 158.63,211.25 158.66,211.72 158.68,209.55 158.71,209.46 158.74,210.11 158.77,209.68 158.80,212.66 158.84,212.92 158.89,213.59 158.93,213.05 158.98,214.11 159.02,213.24 159.07,213.04 159.11,212.13 159.16,211.79 159.20,211.65 159.25,211.97 159.29,211.84 159.34,210.86 159.38,209.48 159.43,208.79 159.47,207.54 159.52,207.94 159.56,208.25 159.61,209.75 159.65,210.25 159.70,208.86 159.74,206.75 159.79,206.04 159.83,204.48 159.87,204.97 159.92,206.00 159.96,205.41 160.01,205.33 160.05,205.42 160.10,203.82 160.14,203.84 160.19,203.04 160.23,201.81 160.28,200.86 160.32,200.57 160.37,199.32 160.41,201.08 160.46,198.83 160.50,200.05 160.55,200.60 160.59,200.74 160.64,202.15 160.68,201.85 160.73,200.86 160.77,199.92 160.81,199.96 160.86,199.47 160.90,200.99 160.95,200.68 160.99,199.25 161.04,198.01 161.08,195.89 161.13,195.82 161.17,196.21 161.22,196.06 161.26,196.73 161.31,198.43 161.35,196.69 161.40,197.53 161.44,196.95 161.49,196.42 161.53,194.12 161.58,193.51 161.62,194.44 161.67,193.93 161.71,193.69 161.76,194.61 161.80,194.22 161.86,194.67 161.91,195.08 161.97,196.13 162.02,194.48 162.08,194.70 162.13,195.14 162.19,194.93 162.24,193.20 162.30,193.26 162.36,194.11 162.41,195.07 162.47,195.73 162.52,195.29 162.58,197.25 162.63,194.18 162.69,193.76 162.74,196.13 162.80,196.43 162.86,196.57 162.91,196.64 162.97,197.84 163.02,197.65 163.08,197.61 163.13,198.87 163.19,198.92 163.24,198.43 163.30,199.66 163.36,200.64 163.41,201.45 163.47,202.29 163.52,203.80 163.58,203.71 163.63,203.06 163.69,203.95 163.74,204.12 163.80,204.41 163.86,203.99 163.92,201.96 163.98,200.67 164.05,201.63 164.11,201.00 164.17,200.50 164.23,200.65 164.29,201.36 164.35,201.59 164.41,202.24 164.47,202.58 164.54,199.34 164.60,197.67 164.66,196.51 164.72,195.36 164.78,196.18 164.84,196.07 164.90,194.40 164.96,195.85 165.03,196.11 165.09,196.42 165.15,195.28 165.21,194.61 165.27,194.30 165.33,193.50 165.39,193.50 165.45,193.50 165.52,193.50 165.58,195.48 165.64,194.57 165.70,196.11 165.74,197.50 165.79,197.50 165.83,197.50 165.87,197.50 165.92,197.50 165.96,197.50 166.00,197.29 166.05,195.39 166.09,194.32 166.13,195.13 166.18,194.91 166.22,194.51 166.27,193.59 166.31,192.92 166.35,193.63 166.40,194.02 166.44,194.37 166.48,193.87 166.53,192.88 166.57,193.20 166.61,194.67 166.66,192.62 166.70,190.39 166.74,189.30 166.79,186.81 166.83,184.66 166.87,184.82 166.92,184.51 166.96,185.16 167.00,183.87 167.05,183.51 167.09,182.27 167.13,180.97 167.18,181.99 167.22,181.72 167.27,181.66 167.31,183.59 167.35,184.08 167.40,183.68 167.44,183.49 167.48,181.90 167.53,180.95 167.57,182.70 167.61,183.50 167.66,183.11 167.70,181.75 167.73,180.87 167.75,180.35 167.78,178.71 167.81,176.11 167.83,177.20 167.86,176.69 167.88,175.73 167.91,177.33 167.94,177.93 167.96,178.81 167.99,179.00 168.02,177.09 168.04,177.76 168.07,176.91 168.09,176.08 168.12,177.43 168.15,176.76 168.17,176.33 168.20,175.76 168.23,174.90 168.25,176.66 168.28,174.57 168.31,173.98 168.33,174.25 168.36,174.47 168.38,173.72 168.41,172.64 168.44,171.78 168.46,171.80 168.49,172.87 168.52,171.54 168.54,171.48 168.57,171.22 168.59,170.99 168.62,171.01 168.65,171.32 168.67,171.16 168.70,169.74 168.74,169.57 168.79,169.16 168.83,168.94 168.87,167.90 168.92,167.30 168.96,167.44 169.00,167.37 169.05,166.09 169.09,165.33 169.13,163.24 169.18,164.63 169.22,163.91 169.27,165.02 169.31,164.28 169.35,164.59 169.40,164.39 169.44,164.04 169.48,163.19 169.53,161.97 169.57,161.67 169.61,160.98 169.66,162.50 169.70,164.13 169.74,164.39 169.79,164.87 169.83,164.55 169.87,165.38 169.92,164.66 169.96,163.31 170.00,163.70 170.05,163.39 170.09,163.40 170.13,164.50 170.18,162.47 170.22,162.07 170.27,162.50 170.31,162.01 170.35,160.70 170.40,160.19 170.44,160.23 170.48,159.98 170.53,159.53 170.57,158.89 170.61,157.92 170.66,156.99 170.70,156.06 170.74,156.03 170.77,155.49 170.81,155.72 170.84,156.39 170.88,156.64 170.92,156.64 170.95,155.97 170.99,154.91 171.03,153.46 171.06,153.84 171.10,152.16 171.13,151.76 171.17,153.55 171.21,151.49 171.24,150.75 171.28,147.31 171.32,148.52 171.35,148.50 171.39,146.03 171.42,146.21 171.46,146.26 171.50,145.63 171.53,146.84 171.57,147.00 171.61,147.61 171.64,146.20 171.68,145.48 171.72,146.56 171.75,146.97 171.79,146.48 171.82,147.38 171.86,148.15 171.90,146.90 171.93,145.32 171.97,144.69 172.00,144.49 172.04,146.12 172.08,144.26 172.11,143.62 172.15,144.18 172.19,144.62 172.22,142.24 172.26,143.44 172.29,144.13 172.33,144.54 172.37,143.39 172.40,142.71 172.44,140.82 172.48,141.06 172.51,142.18 172.55,140.81 172.58,139.81 172.62,138.39 172.66,138.11 172.69,140.61 172.73,139.96 172.77,141.43 172.80,141.00 172.84,139.17 172.88,138.64 172.91,139.64 172.95,138.83 172.98,136.08 173.02,136.07 173.06,136.73 173.09,135.75 173.13,134.53 173.16,135.29 173.20,133.99 173.24,133.62 173.27,134.51 173.31,134.19 173.35,133.70 173.38,131.37 173.42,131.91 173.45,133.17 173.49,130.90 173.53,130.87 173.56,130.09 173.60,130.92 173.65,130.02 173.71,129.79 173.76,130.71 173.81,132.37 173.86,133.45 173.92,132.63 173.97,130.40 174.02,129.84 174.07,130.40 174.13,131.01 174.18,128.11 174.23,127.55 174.28,127.91 174.34,129.26 174.39,129.22 174.44,129.29 174.49,129.15 174.55,127.54 174.60,126.55 174.65,126.92 174.71,127.24 174.76,127.46 174.81,127.77 174.86,126.97 174.92,126.40 174.97,126.80 175.02,125.63 175.07,124.98 175.13,123.92 175.18,124.84 175.23,123.56 175.28,122.69 175.34,123.40 175.39,122.00 175.44,120.20 175.49,119.17 175.55,119.64 175.60,119.92 175.65,119.92 175.71,119.36 175.76,117.26 175.81,116.99 175.86,116.10 175.92,116.91 175.97,117.91 176.02,117.81 176.07,117.58 176.13,116.36 176.18,117.00 176.23,116.84 176.28,117.69 176.34,119.03 176.39,116.55 176.44,117.20 176.49,114.89 176.55,115.34 176.60,115.95 176.66,114.37 176.71,111.98 176.77,114.04 176.82,113.97 176.88,111.15 176.93,111.61 176.99,111.72 177.04,113.35 177.10,114.10 177.16,112.98 177.21,112.51 177.27,113.03 177.32,112.19 177.38,110.30 177.43,110.41 177.49,110.17 177.54,109.65 177.60,109.50 177.66,109.86 177.71,109.87 177.77,109.70 177.82,108.87 177.88,108.94 177.93,107.12 177.99,106.63 178.04,106.67 178.10,108.32 178.16,108.89 178.21,110.53 178.27,110.22 178.32,108.72 178.38,105.93 178.43,106.03 178.49,106.01 178.54,104.87 178.60,105.96 178.66,106.87 178.72,106.98 178.78,107.20 178.84,106.55 178.90,107.80 178.97,107.70 179.03,107.33 179.09,105.94 179.15,106.28 179.21,106.02 179.27,105.11 179.33,105.96 179.39,105.07 179.45,103.24 179.51,103.91 179.57,103.22 179.63,103.53 179.70,102.83 179.76,101.81 179.82,102.18 179.88,100.21 179.94,100.31 180.00,99.47 180.04,99.80 180.09,100.10 180.13,99.96 180.18,100.85 180.22,102.37 180.26,102.76 180.31,101.87 180.35,101.16 180.40,103.76 180.44,105.10 180.49,104.81 180.53,104.64 180.57,105.13 180.62,106.69 180.66,107.40 180.71,108.02 180.75,108.28 180.79,109.79 180.84,109.17 180.88,109.60 180.93,108.35 180.97,110.36 181.01,110.96 181.06,110.72 181.10,109.94 181.15,108.60 181.19,110.07 181.24,109.00 181.28,111.63 181.32,111.08 181.37,110.53 181.41,110.58 181.46,110.61 181.50,110.01 181.52,110.61 181.54,108.71 181.57,111.77 181.59,111.36 181.61,110.61 181.63,109.31 181.65,109.74 181.67,107.77 181.70,107.74 181.72,107.87 181.74,107.09 181.76,104.34 181.78,103.94 181.80,104.16 181.83,103.60 181.85,102.75 181.87,104.43 181.89,104.74 181.91,103.57 181.93,104.03 181.96,102.03 181.98,101.51 182.00,101.21 182.02,101.28 182.04,102.51 182.07,99.65 182.09,97.16 182.11,97.76 182.13,97.83 182.15,99.32 182.17,99.06 182.20,98.78 182.22,98.13 182.24,97.24 182.26,96.56 182.28,95.49 182.30,97.01 182.33,97.50 182.35,97.77 182.37,96.29 182.39,96.52 182.41,95.59 182.43,93.89 182.46,93.96 182.48,93.79 182.50,94.71 182.57,95.27 182.64,94.23 182.71,95.34 182.79,96.80 182.86,95.74 182.93,94.43 183.00,93.85 183.07,94.13 183.14,92.38 183.21,93.66 183.29,92.86 183.36,92.91 183.43,92.20 183.50,92.77 183.52,92.42 183.54,91.76 183.57,90.74 183.59,91.83 183.61,91.73 183.63,92.41 183.66,91.02 183.68,91.69 183.70,92.13 183.72,91.65 183.74,89.63 183.77,90.26 183.79,90.59 183.81,90.66 183.83,89.85 183.86,88.83 183.88,88.42 183.90,87.85 183.92,84.41 183.94,85.66 183.97,83.85 183.99,82.78 184.01,83.73 184.03,81.50 184.06,81.85 184.08,81.93 184.10,83.72 184.12,79.93 184.14,79.81 184.17,79.34 184.19,79.56 184.21,80.92 184.23,80.31 184.26,80.74 184.28,80.15 184.30,79.78 184.32,80.44 184.34,79.39 184.37,78.28 184.39,77.52 184.41,77.31 184.43,78.60 184.46,78.69 184.48,79.12 184.50,76.41 184.59,77.06 184.68,78.23 184.76,77.67 184.85,78.08 184.94,76.62 185.03,76.78 185.12,78.24 185.21,79.51 185.29,79.59 185.38,77.74 185.47,79.25 185.56,80.32 185.65,80.11 185.74,81.76 185.82,80.74 185.91,80.88 186.00,80.79 186.08,80.24 186.16,79.05 186.24,78.82 186.32,78.76 186.40,77.65 186.47,76.52 186.55,76.99 186.63,76.21 186.71,75.22 186.79,76.37 186.87,77.20 186.95,77.15 187.03,76.66 187.11,76.45 187.19,76.76 187.27,78.12 187.34,78.54 187.42,77.77 187.50,78.79 187.58,78.05 187.66,77.36 187.74,77.48 187.82,75.24 187.90,75.51 187.98,76.45 188.06,76.83 188.13,76.06 188.21,75.85 188.29,74.63 188.37,74.37 188.45,73.33 188.53,72.38 188.61,70.84 188.69,69.50 188.77,70.02 188.85,71.65 188.93,72.47 189.00,71.25 189.08,69.50 189.16,69.50 189.24,69.50 189.32,70.23 189.40,71.17 189.43,72.59 189.45,73.28 189.48,73.50 189.51,73.50 189.54,72.09 189.56,71.54 189.59,71.03 189.62,69.09 189.64,70.02 189.67,71.24 189.70,71.07 189.72,70.67 189.75,69.62 189.78,70.18 189.81,70.63 189.83,70.47 189.86,68.98 189.89,69.69 189.91,69.31 189.94,67.65 189.97,66.83 189.99,66.51 190.02,66.55 190.05,66.72 190.08,68.01 190.10,67.17 190.13,65.62 190.16,66.02 190.18,65.74 190.21,64.79 190.24,63.92 190.26,62.89 190.29,64.82 190.32,64.16 190.35,65.83 190.37,65.75 190.40,65.68 190.43,63.70 190.45,61.54 190.48,62.12 190.51,59.64 190.54,60.52 190.56,59.76 190.59,60.09 190.62,58.71 190.64,59.47 190.67,57.89 190.70,57.75 190.72,56.81 190.75,55.32 190.78,55.05 190.81,54.94 190.83,56.09 190.86,55.83 190.89,54.89 190.91,54.09 190.94,55.07 190.97,56.00 190.99,54.21 191.02,52.78 191.05,50.02 191.08,51.11 191.10,51.89 191.13,51.90 191.16,51.65 191.18,50.85 191.21,51.18 191.24,49.58 191.26,47.75 191.29,45.92 191.32,46.06 191.35,46.56 191.37,45.80 191.40,46.81 191.46,47.89 191.52,47.33 191.58,48.10 191.64,47.32 191.70,50.61 191.76,51.39 191.81,51.57 191.87,51.79 191.93,51.90 191.99,52.23 192.05,52.66 192.11,54.33 192.17,54.39 192.23,55.71 192.29,56.54 192.35,55.98 192.41,57.00 192.47,57.00 192.53,57.00 192.59,57.00 192.64,57.00 192.70,56.85 192.76,56.54 192.82,54.74 192.88,55.03 192.94,54.98 193.00,55.09 193.08,54.40 193.16,53.98 193.25,55.17 193.33,54.69 193.41,54.12 193.49,53.65 193.58,55.61 193.66,56.32 193.74,56.71 193.82,58.65 193.91,57.38 193.99,56.99 194.07,55.84 194.15,57.94 194.24,57.03 194.32,58.10 194.40,58.18 194.48,58.63 194.55,59.60 194.63,57.71 194.71,58.79 194.78,57.79 194.86,57.24 194.94,55.58 195.02,54.83 195.09,55.67 195.17,53.21 195.25,51.35 195.32,54.14 195.40,53.24 195.48,54.32 195.55,53.22 195.63,52.71 195.71,51.36 195.78,51.59 195.86,51.03 195.94,51.84 196.02,51.57 196.09,52.85 196.17,53.03 196.25,51.91 196.32,52.23 196.40,51.08 196.48,51.17 196.55,52.67 196.63,52.28 196.71,51.22 196.78,51.85 196.86,50.75 196.94,50.13 197.02,51.78 197.09,51.35 197.17,50.52 197.25,47.70 197.32,49.03 197.40,50.09 197.46,50.00 197.53,48.72 197.59,48.03 197.65,47.01 197.72,46.67 197.78,46.08 197.84,46.80 197.90,46.03 197.97,46.20 198.03,45.62 198.09,43.15 198.16,41.61 198.22,42.82 198.28,44.00 198.35,43.50 198.41,43.99 198.47,44.63 198.53,45.41 198.60,44.83 198.66,46.57 198.72,46.57 198.79,44.59 198.85,44.73 198.91,44.72 198.98,44.65 199.04,45.41 199.10,48.32 199.17,46.67 199.23,45.81 199.29,46.29 199.35,45.63 199.42,43.53 199.48,43.61 199.54,44.09 199.61,41.99 199.67,40.57 199.73,41.38 199.80,41.53 199.86,41.48 199.92,41.87 199.98,40.89 200.05,39.69 200.11,38.74 200.17,37.92 200.24,37.53 200.30,37.07 200.38,37.90 200.45,38.26 200.53,38.43 200.61,37.55 200.68,38.79 200.76,38.47 200.84,41.09 200.92,42.31 200.99,42.15 201.07,43.73 201.15,43.66 201.22,45.10 201.30,43.69 201.38,45.96 201.45,46.13 201.53,44.76 201.61,43.84 201.68,44.84 201.76,44.32 201.84,44.19 201.92,42.95 201.99,43.12 202.07,44.66 202.15,44.75 202.22,42.60 202.30,42.06 202.38,42.87 202.45,43.93 202.53,44.83 202.61,43.86 202.68,43.01 202.76,44.70 202.84,43.48 202.92,43.42 202.99,43.84 203.07,44.18 203.15,44.70 203.22,44.49 203.30,46.18 203.35,47.27 203.40,46.44 203.44,46.19 203.49,45.79 203.54,48.52 203.59,49.36 203.63,48.90 203.68,50.22 203.73,50.54 203.78,50.65 203.82,50.94 203.87,50.90 203.92,49.99 203.97,48.90 204.01,50.37 204.06,50.31 204.11,50.59 204.16,49.98 204.20,50.86 204.25,51.77 204.30,51.45 204.33,52.97 204.36,51.04 204.39,51.99 204.42,52.08 204.45,54.33 204.47,55.56 204.50,53.67 204.53,53.38 204.56,54.82 204.59,53.73 204.62,52.62 204.65,52.57 204.68,52.74 204.71,53.39 204.74,53.56 204.76,53.40 204.79,53.54 204.82,52.92 204.85,55.58 204.88,54.97 204.91,55.24 204.94,56.35 204.97,57.16 205.00,58.89 205.03,59.84 205.05,59.39 205.08,60.40 205.11,61.56 205.14,61.49 205.17,61.79 205.20,62.82 205.23,64.19 205.26,64.37 205.29,64.32 205.31,61.44 205.34,61.23 205.37,62.48 205.40,62.56 205.43,63.92 205.46,65.32 205.49,64.48 205.52,65.66 205.55,66.28 205.58,66.19 205.60,66.63 205.63,66.82 205.66,67.93 205.69,69.07 205.72,70.16 205.75,69.78 205.78,69.70 205.81,69.45 205.84,71.55 205.87,73.33 205.90,71.72 205.92,72.54 205.95,74.38 205.98,74.21 206.01,73.90 206.04,72.70 206.07,73.72 206.10,72.64 206.13,74.00 206.16,73.45 206.19,72.85 206.21,72.96 206.24,73.90 206.27,74.12 206.30,74.87 206.33,76.82 206.36,77.04 206.39,78.72 206.42,76.72 206.45,75.48 206.47,75.92 206.50,75.78 206.53,76.43 206.56,76.73 206.59,76.68 206.62,75.75 206.65,77.33 206.68,76.87 206.71,77.16 206.74,77.68 206.76,79.57 206.79,79.27 206.82,78.67 206.85,76.92 206.88,77.94 206.91,79.84 206.94,82.03 206.97,81.52 207.00,82.02 207.03,82.07 207.05,82.63 207.08,81.54 207.11,83.39 207.14,82.44 207.17,82.92 207.20,82.58 207.27,83.28 207.34,83.24 207.41,85.50 207.49,84.68 207.56,87.46 207.63,87.33 207.70,87.21 207.77,88.30 207.84,87.99 207.91,87.79 207.99,87.73 208.06,86.84 208.13,88.03 208.20,87.23 208.22,86.73 208.24,85.15 208.27,85.69 208.29,86.31 208.31,86.14 208.33,85.26 208.36,84.78 208.38,85.23 208.40,84.64 208.42,85.14 208.45,82.70 208.47,83.00 208.49,82.86 208.51,81.95 208.54,80.88 208.56,79.39 208.58,80.26 208.60,78.20 208.63,79.05 208.65,77.20 208.67,77.04 208.69,76.91 208.72,74.81 208.74,74.45 208.76,74.40 208.78,72.16 208.81,71.87 208.83,73.29 208.85,72.90 208.87,72.25 208.90,72.44 208.92,71.42 208.94,72.79 208.96,70.77 208.99,71.16 209.01,69.93 209.03,70.91 209.05,72.13 209.08,72.70 209.10,71.35 209.12,70.85 209.14,70.04 209.17,70.37 209.19,70.62 209.21,69.42 209.23,68.55 209.26,69.39 209.28,67.28 209.30,68.48 209.32,67.51 209.35,67.62 209.37,67.20 209.39,67.48 209.41,67.38 209.44,65.64 209.46,67.80 209.48,66.63 209.50,66.23 209.53,65.61 209.55,65.79 209.57,67.20 209.59,67.81 209.62,65.53 209.64,63.59 209.66,64.04 209.68,64.59 209.71,65.44 209.73,65.25 209.75,65.87 209.77,65.34 209.80,65.81 209.82,67.10 209.84,67.20 209.86,65.22 209.89,65.42 209.91,63.23 209.93,62.61 209.95,61.29 209.98,60.75 210.00,59.79 210.02,59.25 210.04,60.11 210.07,60.85 210.09,57.70 210.11,59.49 210.13,57.30 210.16,56.34 210.18,55.65 210.20,57.75 210.28,56.71 210.35,56.80 210.43,56.68 210.51,59.29 210.58,59.03 210.66,58.20 210.74,58.05 210.82,59.14 210.89,58.77 210.97,59.22 211.05,56.68 211.12,55.02 211.20,56.90 211.28,55.67 211.35,55.60 211.43,54.65 211.51,52.85 211.58,52.20 211.66,52.49 211.74,52.01 211.82,53.17 211.89,51.38 211.97,51.13 212.05,51.01 212.12,48.98 212.20,50.81 212.28,51.74 212.35,52.96 212.43,52.65 212.51,53.00 212.58,52.46 212.66,51.83 212.74,51.45 212.82,51.34 212.89,51.98 212.97,53.37 213.05,51.44 213.12,51.13 213.20,49.77 213.22,51.03 213.25,51.42 213.27,51.32 213.30,52.04 213.32,52.85 213.35,53.06 213.37,53.42 213.40,55.43 213.42,55.64 213.45,55.64 213.47,53.77 213.50,57.31 213.52,55.34 213.55,54.74 213.57,56.06 213.60,56.77 213.62,57.43 213.65,57.46 213.67,56.53 213.70,58.69 213.72,55.96 213.75,56.81 213.77,58.95 213.79,59.34 213.82,59.63 213.84,57.53 213.87,59.65 213.89,59.19 213.92,59.06 213.94,61.26 213.97,59.87 213.99,61.12 214.02,61.72 214.04,63.16 214.07,62.21 214.09,62.49 214.12,62.27 214.14,61.81 214.17,62.62 214.19,62.29 214.22,62.49 214.24,64.78 214.27,64.66 214.29,66.88 214.32,66.82 214.34,66.13 214.36,66.69 214.39,65.98 214.41,68.21 214.44,69.38 214.46,68.18 214.49,69.52 214.51,69.41 214.54,69.32 214.56,69.40 214.59,69.75 214.61,70.14 214.64,68.85 214.66,68.67 214.69,69.40 214.71,69.64 214.74,71.49 214.76,72.67 214.79,73.80 214.81,73.33 214.84,70.83 214.86,71.45 214.89,71.10 214.91,72.51 214.94,74.03 214.96,76.57 214.98,75.76 215.01,75.97 215.03,77.56 215.06,78.80 215.08,79.17 215.11,80.46 215.13,79.10 215.16,77.57 215.18,78.24 215.21,77.89 215.23,77.51 215.26,78.37 215.28,77.93 215.31,77.66 215.33,76.91 215.36,79.24 215.38,79.06 215.41,79.55 215.43,79.35 215.46,80.11 215.48,80.03 215.51,79.85 215.53,80.06 215.55,80.21 215.58,80.59 215.60,82.12 215.63,83.59 215.65,83.41 215.68,83.97 215.70,83.53 215.73,82.73 215.75,84.02 215.78,85.33 215.80,84.95 215.83,85.06 215.85,85.75 215.88,86.86 215.90,88.36 215.93,87.43 215.95,87.04 215.98,87.70 216.00,88.13 216.03,88.35 216.05,89.03 216.08,87.63 216.10,86.83 216.16,85.75 216.22,85.66 216.28,86.56 216.34,86.20 216.41,86.18 216.47,86.32 216.53,85.45 216.59,84.88 216.65,86.12 216.71,87.31 216.77,86.94 216.83,86.51 216.90,82.68 216.96,83.49 217.02,81.96 217.08,82.07 217.14,82.02 217.20,82.49 217.26,82.95 217.32,82.78 217.39,83.83 217.45,81.69 217.51,81.89 217.57,81.06 217.63,79.92 217.69,81.65 217.75,80.58 217.81,78.83 217.88,78.38 217.94,75.78 218.00,75.97 218.06,76.63 218.12,77.83 218.18,77.14 218.24,77.24 218.30,77.44 218.37,75.98 218.43,74.12 218.49,75.29 218.55,77.33 218.61,76.70 218.67,75.67 218.73,76.78 218.79,76.25 218.86,75.44 218.92,74.39 218.98,74.19 219.04,75.18 219.10,74.40 219.18,73.88 219.26,75.01 219.33,76.54 219.41,77.97 219.49,77.48 219.57,78.45 219.64,80.00 219.72,79.58 219.80,77.86 219.88,77.88 219.96,79.08 220.03,79.88 220.11,79.50 220.19,78.11 220.27,78.42 220.34,79.38 220.42,78.40 220.50,77.20 220.53,78.99 220.57,82.20 220.60,81.75 220.63,81.47 220.67,79.03 220.70,80.24 220.73,79.31 220.77,80.36 220.80,81.71 220.83,82.58 220.87,83.53 220.90,82.30 220.93,81.42 220.97,83.48 221.00,83.71 221.03,83.35 221.07,83.08 221.10,82.98 221.13,82.25 221.17,81.64 221.20,82.63 221.23,84.46 221.27,84.41 221.30,85.98 221.33,85.98 221.37,84.62 221.40,84.73 221.43,87.09 221.47,88.38 221.50,88.10 221.53,88.81 221.57,89.26 221.60,88.71 221.63,87.71 221.67,88.30 221.70,89.25 221.73,89.49 221.77,90.58 221.80,91.46 221.83,91.38 221.87,90.87 221.90,92.65 221.93,93.23 221.97,93.28 222.00,92.93 222.01,95.01 222.01,95.63 222.02,95.62 222.03,96.05 222.03,94.48 222.04,95.23 222.04,94.00 222.05,95.24 222.06,95.59 222.06,97.78 222.07,98.12 222.08,98.26 222.08,98.14 222.09,99.76 222.10,99.40 222.10,98.93 222.11,99.07 222.12,98.65 222.12,98.67 222.13,99.95 222.13,99.20 222.14,100.33 222.15,101.03 222.15,102.26 222.16,103.19 222.17,102.46 222.17,103.51 222.18,103.26 222.19,103.12 222.19,104.42 222.20,103.69 222.21,103.77 222.21,106.39 222.22,104.13 222.22,103.46 222.23,103.94 222.24,103.97 222.24,104.07 222.25,104.58 222.26,107.01 222.26,107.78 222.27,107.92 222.28,107.93 222.28,108.17 222.29,108.13 222.29,107.37 222.30,107.77 222.31,107.48 222.31,110.39 222.32,109.76 222.33,111.63 222.33,110.53 222.34,112.01 222.35,111.19 222.35,110.32 222.36,110.12 222.37,111.52 222.37,111.43 222.38,111.86 222.38,112.79 222.39,112.78 222.40,114.19 222.40,114.18 222.41,113.43 222.42,113.52 222.42,112.67 222.43,112.04 222.44,111.93 222.44,113.65 222.45,113.51 222.46,114.30 222.46,116.41 222.47,116.48 222.47,116.00 222.48,116.81 222.49,118.28 222.49,118.62 222.50,118.27 222.56,118.06 222.62,119.38 222.69,119.49 222.75,119.22 222.81,119.08 222.88,118.55 222.94,117.05 223.00,119.48 223.06,119.50 223.12,119.95 223.19,119.64 223.25,119.98 223.31,120.62 223.38,119.30 223.44,121.11 223.50,120.10 223.56,119.83 223.62,119.20 223.69,119.35 223.75,119.66 223.81,122.18 223.88,123.01 223.94,125.00 224.00,124.83 224.09,126.37 224.19,128.53 224.28,128.51 224.38,127.81 224.47,126.01 224.56,126.30 224.66,125.04 224.75,124.48 224.84,125.04 224.94,126.18 225.03,124.41 225.12,124.26 225.22,124.18 225.31,125.01 225.41,126.09 225.50,126.84 225.59,128.37 225.69,128.38 225.78,128.00 225.88,128.46 225.97,128.60 226.06,128.60 226.16,128.60 226.25,128.60 226.34,128.60 226.44,128.45 226.53,127.67 226.62,125.78 226.72,127.26 226.81,126.82 226.91,126.31 227.00,125.91 227.03,125.62 227.05,126.17 227.07,125.37 227.10,125.90 227.12,126.70 227.15,127.54 227.18,130.91 227.20,132.02 227.22,131.89 227.25,131.53 227.28,132.40 227.30,132.20 227.32,131.67 227.35,130.45 227.38,130.24 227.40,130.78 227.43,130.81 227.45,130.48 227.47,132.44 227.50,133.53 227.53,135.20 227.55,136.04 227.57,137.26 227.60,140.35 227.62,137.68 227.65,138.24 227.68,139.68 227.70,137.62 227.72,137.21 227.75,136.94 227.78,139.99 227.80,139.80 227.82,138.87 227.85,137.91 227.88,139.65 227.90,141.07 227.93,140.75 227.95,139.48 227.97,139.89 228.00,140.07 228.05,138.15 228.10,140.78 228.15,141.10 228.20,141.51 228.24,141.49 228.29,142.58 228.34,143.74 228.39,143.85 228.44,143.03 228.49,142.14 228.54,143.26 228.59,143.80 228.63,143.66 228.68,143.68 228.73,142.60 228.78,141.38 228.83,139.93 228.88,139.61 228.93,141.63 228.98,141.70 229.02,142.52 229.07,142.17 229.12,143.65 229.17,142.21 229.22,143.12 229.27,142.78 229.32,143.93 229.37,144.63 229.41,143.09 229.46,143.48 229.51,145.68 229.56,145.28 229.61,146.02 229.66,147.12 229.71,148.13 229.76,149.92 229.80,148.39 229.85,149.09 229.90,148.42 229.95,149.52 230.00,151.78 230.04,152.75 230.08,152.18 230.12,151.19 230.16,153.47 230.20,153.62 230.24,153.48 230.28,153.85 230.32,155.73 230.36,155.94 230.40,155.62 230.44,156.87 230.47,156.80 230.51,157.65 230.55,157.11 230.59,154.91 230.63,155.32 230.67,154.45 230.71,155.17 230.75,155.30 230.79,157.88 230.83,157.92 230.87,158.20 230.91,158.22 230.95,158.14 230.99,159.60 231.03,159.10 231.07,159.53 231.11,160.18 231.15,160.85 231.19,159.39 231.23,159.26 231.27,158.52 231.31,160.89 231.35,162.37 231.39,161.55 231.43,161.92 231.46,160.85 231.50,161.53 231.54,162.38 231.58,160.85 231.62,160.73 231.66,162.41 231.70,163.20 231.74,165.38 231.78,165.95 231.82,166.89 231.86,167.90 231.90,166.49 231.95,167.90 232.00,167.90 232.06,167.90 232.11,166.85 232.16,167.67 232.21,166.59 232.27,165.52 232.32,165.98 232.37,165.83 232.42,166.75 232.48,166.89 232.53,163.56 232.58,164.09 232.63,162.52 232.69,161.64 232.74,161.25 232.79,161.96 232.84,160.19 232.90,162.19 232.95,160.31 233.00,159.49 233.06,159.94 233.13,159.31 233.19,159.12 233.25,160.79 233.32,160.85 233.38,161.56 233.44,159.30 233.50,160.21 233.57,160.91 233.63,160.33 233.69,160.39 233.76,161.81 233.82,164.31 233.88,165.39 233.95,165.72 234.01,166.37 234.07,166.02 234.13,167.83 234.20,167.35 234.26,167.88 234.32,169.10 234.39,168.97 234.45,170.52 234.51,170.65 234.58,170.89 234.64,171.16 234.70,170.01 234.77,168.33 234.83,169.48 234.89,168.24 234.95,168.95 235.02,169.43 235.08,168.98 235.14,169.71 235.21,170.03 235.27,169.95 235.33,170.21 235.40,170.73 235.46,171.04 235.52,171.39 235.58,172.00 235.65,172.76 235.71,172.72 235.77,171.95 235.84,172.24 235.90,171.96 235.96,173.70 236.01,175.33 236.07,175.65 236.12,176.98 236.18,176.71 236.23,178.73 236.29,178.88 236.34,176.66 236.40,177.37 236.46,176.94 236.51,177.74 236.57,178.18 236.62,179.52 236.68,179.91 236.73,178.62 236.79,178.38 236.84,178.48 236.90,179.78 236.96,179.02 237.01,178.53 237.07,178.90 237.12,176.79 237.18,177.01 237.23,177.11 237.29,176.61 237.34,176.71 237.40,175.03 237.46,176.24 237.51,175.09 237.57,177.42 237.62,177.36 237.68,178.59 237.73,179.39 237.79,178.46 237.84,179.57 237.90,181.51 237.96,182.73 238.01,181.75 238.07,181.58 238.13,181.80 238.18,182.82 238.24,182.65 238.30,182.68 238.35,182.68 238.41,182.31 238.47,184.16 238.53,184.05 238.58,185.66 238.64,186.77 238.70,187.18 238.75,186.67 238.81,188.11 238.87,187.31 238.92,186.70 238.98,186.97 239.04,188.17 239.09,189.97 239.15,189.28 239.21,189.41 239.26,189.44 239.32,189.41 239.38,188.49 239.44,188.94 239.49,187.50 239.55,188.74 239.61,188.12 239.66,188.93 239.72,189.75 239.78,190.29 239.83,190.32 239.89,190.15 239.95,189.51 240.00,190.07 240.06,190.71 240.12,192.30 240.17,192.34 240.23,191.53 240.29,192.35 240.35,193.70 240.40,197.12 240.46,195.23 240.52,195.73 240.57,196.15 240.63,196.49 240.69,196.02 240.74,195.12 240.80,196.30 240.85,196.18 240.90,198.46 240.95,198.02 241.00,198.97 241.04,199.06 241.09,198.70 241.14,199.28 241.19,198.94 241.24,198.50 241.29,198.76 241.34,199.87 241.39,199.64 241.43,199.36 241.48,197.77 241.53,198.26 241.58,199.56 241.63,198.97 241.68,198.95 241.73,199.74 241.78,200.32 241.82,198.85 241.87,199.27 241.92,199.62 241.97,200.61 242.02,202.13 242.07,204.02 242.12,204.29 242.17,203.71 242.21,203.93 242.26,203.89 242.31,205.42 242.36,206.58 242.41,206.55 242.46,205.89 242.51,204.57 242.56,206.19 242.60,207.18 242.65,209.35 242.70,208.80 242.75,209.11 242.80,207.65 242.84,207.32 242.87,207.30 242.91,208.47 242.94,206.60 242.98,207.84 243.01,208.22 243.05,210.22 243.08,210.92 243.12,210.73 243.15,209.80 243.19,210.70 243.22,208.79 243.26,210.66 243.29,210.29 243.33,209.35 243.36,210.21 243.40,210.56 243.43,210.73 243.47,210.65 243.50,212.19 243.54,213.99 243.57,215.04 243.61,214.37 243.64,215.35 243.68,214.58 243.71,214.80 243.75,214.98 243.78,214.89 243.82,215.67 243.85,217.38 243.89,217.00 243.92,216.35 243.96,216.06 243.99,216.01 244.03,215.58 244.06,217.08 244.10,218.09 244.13,219.24 244.17,217.47 244.20,219.05 244.24,218.26 244.27,218.08 244.31,218.08 244.34,218.69 244.38,219.54 244.41,220.57 244.45,221.57 244.48,221.58 244.52,221.12 244.55,221.33 244.59,221.23 244.62,223.29 244.66,223.41 244.69,222.23 244.73,224.05 244.76,224.49 244.80,225.20 244.83,225.88 244.85,226.01 244.88,225.87 244.90,227.33 244.93,228.25 244.95,228.78 244.98,229.71 245.00,228.99 245.03,227.67 245.05,228.34 245.08,227.23 245.10,227.93 245.12,229.30 245.15,231.32 245.18,231.09 245.20,231.34 245.22,230.63 245.25,230.04 245.28,231.73 245.30,231.50 245.32,232.71 245.35,233.02 245.38,231.09 245.40,232.26 245.43,231.30 245.45,232.87 245.47,233.79 245.50,234.60 245.52,237.09 245.54,237.11 245.57,237.45 245.59,236.60 245.61,237.54 245.63,235.08 245.65,235.30 245.68,233.71 245.70,235.08 245.72,234.58 245.74,235.73 245.76,236.24 245.79,237.90 245.81,238.38 245.83,238.53 245.85,239.49 245.88,238.77 245.90,238.60 245.92,237.63 245.94,239.51 245.96,239.75 245.99,237.72 246.01,237.53 246.03,239.78 246.05,239.77 246.07,240.26 246.10,239.72 246.12,239.98 246.14,239.59 246.16,240.73 246.18,239.84 246.21,240.22 246.23,238.75 246.25,239.61 246.27,241.18 246.29,242.80 246.32,241.62 246.34,242.25 246.36,241.54 246.38,243.72 246.40,241.66 246.43,242.70 246.45,245.54 246.47,244.07 246.49,244.08 246.51,245.76 246.54,246.24 246.56,247.27 246.58,247.93 246.60,251.22 246.62,250.59 246.65,251.43 246.67,250.51 246.69,250.63 246.71,251.12 246.74,250.33 246.76,250.69 246.78,251.24 246.80,251.84 246.82,251.07 246.85,252.15 246.87,254.05 246.89,254.76 246.91,254.33 246.93,253.24 246.96,255.70 246.98,255.51 247.00,255.72 247.03,255.56 247.07,256.16 247.10,256.88 247.14,257.60 247.17,257.60 247.21,257.51 247.24,257.60 247.28,256.30 247.31,256.15 247.34,254.30 247.38,255.23 247.41,254.43 247.45,252.81 247.48,253.21 247.52,251.93 247.55,252.72 247.59,251.88 247.62,253.57 247.66,252.38 247.69,250.74 247.72,250.35 247.76,250.76 247.79,250.78 247.83,249.84 247.86,249.21 247.90,248.20 247.93,246.88 247.97,247.09 248.00,248.25 248.03,246.89 248.07,247.29 248.10,245.45 248.14,244.87 248.17,246.35 248.21,245.75 248.24,246.72 248.28,245.60 248.31,245.50 248.34,247.94 248.38,247.89 248.41,247.04 248.45,245.47 248.48,245.28 248.52,244.64 248.55,244.02 248.59,244.26 248.62,242.89 248.66,243.53 248.69,242.45 248.72,240.19 248.76,237.86 248.79,236.84 248.83,239.39 248.86,239.71 248.90,239.36 248.93,238.53 248.97,237.75 249.00,237.96 249.04,238.33 249.07,238.06 249.11,237.52 249.15,238.10 249.18,239.11 249.22,240.05 249.26,241.26 249.29,241.42 249.33,240.90 249.37,241.46 249.40,242.84 249.44,242.53 249.47,242.56 249.51,243.34 249.55,243.92 249.58,244.24 249.62,242.30 249.66,242.79 249.69,243.66 249.73,243.67 249.77,243.69 249.80,245.04 249.84,245.37 249.88,245.67 249.91,245.44 249.95,247.45 249.99,247.86 250.02,247.68 250.06,247.07 250.10,248.36 250.13,247.54 250.17,246.52 250.21,245.48 250.24,246.97 250.28,246.29 250.32,245.19 250.35,245.33 250.39,246.18 250.43,246.52 250.46,247.55 250.50,247.27 250.53,248.29 250.57,248.10 250.61,248.59 250.64,249.76 250.68,251.77 250.72,252.32 250.75,250.36 250.79,251.40 250.83,251.29 250.86,252.81 250.90,253.31 250.95,252.22 251.00,251.62 251.05,250.40 251.10,250.23 251.14,249.66 251.19,251.05 251.24,249.56 251.29,247.92 251.34,248.42 251.39,250.60 251.44,250.42 251.49,249.61 251.53,249.78 251.58,247.05 251.63,247.93 251.68,247.49 251.73,247.39 251.78,245.62 251.83,246.17 251.88,247.76 251.92,247.02 251.97,246.96 252.02,247.27 252.07,247.76 252.12,247.27 252.17,246.75 252.22,248.48 252.27,247.64 252.31,246.31 252.36,246.30 252.41,244.38 252.46,245.24 252.51,244.98 252.56,244.05 252.61,244.21 252.66,242.66 252.70,243.34 252.75,244.13 252.80,241.54 252.85,242.08 252.90,241.37 252.94,239.64 252.97,240.41 253.01,240.98 253.04,242.21 253.08,240.33 253.11,240.54 253.15,240.72 253.18,240.66 253.22,241.35 253.25,239.90 253.29,239.55 253.32,239.39 253.36,239.81 253.39,239.94 253.43,240.64 253.46,240.72 253.50,238.27 253.53,238.11 253.57,238.33 253.60,235.69 253.64,234.58 253.67,235.23 253.71,234.82 253.74,233.26 253.78,232.98 253.81,234.96 253.85,234.50 253.88,233.15 253.92,232.86 253.95,231.63 253.99,231.13 254.02,230.43 254.06,230.80 254.09,230.71 254.13,230.00 254.16,229.78 254.20,231.36 254.23,231.67 254.27,231.52 254.30,228.89 254.34,229.04 254.37,228.85 254.41,227.44 254.44,228.77 254.48,228.33 254.51,228.82 254.55,227.56 254.58,228.40 254.62,227.42 254.65,227.78 254.69,226.15 254.72,224.76 254.76,224.99 254.79,225.37 254.83,224.80 254.86,223.91 254.90,223.69 254.95,223.24 255.00,224.62 255.05,224.05 255.10,225.33 255.14,224.22 255.19,225.00 255.24,225.38 255.29,227.01 255.34,227.04 255.39,228.08 255.44,229.17 255.49,230.34 255.53,230.42 255.58,230.78 255.63,228.63 255.68,229.82 255.73,227.70 255.78,229.48 255.83,231.16 255.88,231.05 255.92,231.22 255.97,231.53 256.02,231.28 256.07,231.16 256.12,231.62 256.17,232.32 256.22,233.58 256.27,233.68 256.31,234.23 256.36,234.20 256.41,233.88 256.46,233.64 256.51,235.70 256.56,233.07 256.61,232.93 256.66,234.15 256.70,233.80 256.75,235.38 256.80,236.78 256.85,235.09 256.90,235.22 256.95,235.53 257.01,234.44 257.06,235.24 257.11,233.95 257.16,235.98 257.22,235.18 257.27,234.10 257.32,234.22 257.38,234.20 257.43,235.03 257.48,236.49 257.53,235.53 257.59,236.51 257.64,236.47 257.69,236.49 257.74,236.15 257.80,235.77 257.85,234.89 257.90,235.63 257.96,235.31 258.01,233.43 258.06,233.42 258.11,233.67 258.17,233.55 258.22,231.99 258.27,231.64 258.32,232.14 258.38,230.87 258.43,230.57 258.48,230.71 258.54,230.85 258.59,229.95 258.64,228.20 258.69,227.52 258.75,227.49 258.80,225.06 258.87,226.38 258.94,226.65 259.01,225.15 259.08,226.34 259.15,226.31 259.22,226.88 259.29,224.26 259.36,225.18 259.44,225.79 259.51,226.54 259.58,226.14 259.65,226.29 259.72,224.46 259.79,223.87 259.86,223.57 259.93,222.04 260.00,222.76 260.07,222.44 260.13,220.87 260.20,219.43 260.27,217.82 260.33,216.22 260.40,215.11 260.47,217.78 260.53,217.49 260.60,217.38 260.67,216.43 260.73,216.65 260.80,218.26 260.87,217.15 260.93,216.65 261.00,215.92 261.07,215.91 261.13,216.22 261.20,214.76 261.27,214.37 261.33,215.68 261.40,215.31 261.47,215.89 261.53,215.96 261.60,216.89 261.67,218.05 261.73,216.67 261.80,215.74 261.86,215.90 261.91,216.21 261.97,216.29 262.02,215.78 262.08,215.78 262.13,214.15 262.19,213.65 262.24,214.83 262.30,215.95 262.36,216.66 262.41,215.35 262.47,214.77 262.52,214.83 262.58,213.73 262.63,212.88 262.69,211.72 262.74,210.38 262.80,211.14 262.86,211.20 262.91,209.06 262.97,209.39 263.02,207.58 263.08,209.10 263.13,208.71 263.19,208.49 263.24,207.55 263.30,207.13 263.36,208.34 263.41,206.41 263.47,204.61 263.52,206.06 263.58,206.33 263.63,206.10 263.69,204.69 263.74,205.43 263.80,205.14 263.83,201.82 263.86,202.34 263.89,203.77 263.92,202.23 263.94,201.87 263.97,201.49 264.00,202.74 264.03,204.43 264.06,202.33 264.09,201.93 264.12,203.14 264.15,203.32 264.18,203.86 264.21,203.26 264.23,203.46 264.26,204.46 264.29,202.55 264.32,203.70 264.35,203.54 264.38,201.97 264.41,200.87 264.44,201.02 264.47,200.65 264.50,200.46 264.52,200.70 264.55,199.64 264.58,199.74 264.61,199.47 264.64,199.14 264.67,199.17 264.70,199.68 264.73,199.14 264.76,198.86 264.79,198.30 264.81,198.26 264.84,198.85 264.87,198.08 264.90,195.99 264.93,195.03 264.96,195.59 264.99,194.59 265.02,193.80 265.05,195.54 265.08,195.99 265.10,193.90 265.13,193.47 265.16,193.00 265.19,194.09 265.22,193.73 265.25,193.80 265.28,191.72 265.31,191.84 265.34,192.24 265.37,190.25 265.39,188.52 265.42,189.06 265.45,186.96 265.48,188.15 265.51,186.80 265.54,186.29 265.57,184.53 265.60,185.20 265.63,186.69 265.66,185.70 265.68,183.82 265.71,184.38 265.74,184.82 265.77,185.40 265.80,182.86 265.86,184.21 265.92,183.73 265.98,183.45 266.05,186.08 266.11,185.14 266.17,187.59 266.23,188.47 266.29,186.82 266.35,188.65 266.41,187.80 266.47,188.11 266.54,188.73 266.60,189.01 266.66,189.92 266.72,189.87 266.78,191.08 266.84,191.39 266.90,193.04 266.96,193.07 267.03,193.60 267.09,193.50 267.15,192.81 267.21,193.49 267.27,191.87 267.33,193.37 267.39,192.83 267.45,191.72 267.52,191.34 267.58,191.44 267.64,192.27 267.70,191.86 267.77,190.83 267.85,190.25 267.92,189.57 268.00,188.88 268.07,186.67 268.14,188.62 268.22,187.14 268.29,185.96 268.37,186.88 268.44,185.68 268.51,186.16 268.59,184.40 268.66,185.66 268.74,186.96 268.81,186.95 268.89,187.71 268.96,186.93 269.03,187.98 269.11,187.87 269.18,187.03 269.26,186.16 269.33,186.68 269.40,187.57 269.48,186.93 269.55,187.73 269.63,187.81 269.70,186.27 269.76,185.80 269.83,185.30 269.89,187.97 269.96,187.41 270.02,187.73 270.08,189.19 270.15,187.00 270.21,187.00 270.27,187.48 270.34,187.40 270.40,186.57 270.47,185.98 270.53,185.86 270.59,188.12 270.66,186.63 270.72,187.79 270.79,186.48 270.85,188.82 270.91,189.23 270.98,188.36 271.04,189.95 271.10,189.75 271.17,191.69 271.23,192.03 271.30,191.61 271.36,192.67 271.42,195.29 271.49,194.47 271.55,194.03 271.61,193.31 271.68,195.33 271.74,194.49 271.81,194.58 271.87,195.10 271.93,194.86 272.00,196.83 272.06,195.70 272.13,195.18 272.19,196.72 272.25,197.07 272.32,196.54 272.38,197.71 272.44,198.65 272.51,198.52 272.57,197.11 272.64,196.13 272.70,196.85 272.74,195.84 272.78,195.12 272.82,194.91 272.87,195.06 272.91,193.91 272.95,195.22 272.99,196.62 273.03,195.40 273.07,193.39 273.11,193.62 273.15,194.89 273.20,194.86 273.24,194.36 273.28,194.39 273.32,192.89 273.36,194.76 273.40,192.85 273.44,191.74 273.48,194.02 273.53,192.53 273.57,190.26 273.61,188.31 273.65,191.26 273.69,190.94 273.73,189.40 273.77,188.75 273.82,188.62 273.86,189.98 273.90,190.35 273.94,188.64 273.98,189.90 274.02,189.52 274.06,188.25 274.10,187.35 274.15,187.25 274.19,187.33 274.23,186.24 274.27,186.86 274.31,186.19 274.35,185.38 274.39,185.26 274.43,185.12 274.48,185.90 274.52,184.69 274.56,184.44 274.60,183.90 274.67,182.67 274.74,184.56 274.81,183.06 274.88,184.73 274.95,183.67 275.02,184.65 275.09,184.63 275.16,184.24 275.23,183.70 275.30,183.85 275.37,180.07 275.44,180.23 275.51,181.15 275.58,181.09 275.65,179.98 275.72,177.77 275.79,178.22 275.86,176.12 275.93,176.89 276.00,176.24 276.07,176.17 276.13,177.91 276.20,177.04 276.27,178.33 276.34,179.97 276.41,180.44 276.48,178.93 276.55,177.85 276.62,178.45 276.69,178.84 276.76,179.15 276.83,180.17 276.90,179.63 276.97,178.89 277.04,177.62 277.11,175.30 277.18,174.26 277.25,174.51 277.32,174.77 277.39,174.87 277.46,174.78 277.53,174.54 277.60,173.42 277.68,172.61 277.75,173.01 277.83,173.70 277.91,173.86 277.98,173.91 278.06,174.61 278.14,174.62 278.22,175.53 278.29,179.22 278.37,178.02 278.45,178.21 278.52,177.71 278.60,177.61 278.68,180.17 278.75,179.77 278.83,180.30 278.91,179.39 278.98,179.33 279.06,179.46 279.14,179.22 279.22,178.40 279.29,178.04 279.37,178.62 279.45,179.71 279.52,178.54 279.60,178.50 279.68,178.69 279.75,179.77 279.83,178.81 279.91,179.89 279.98,179.24 280.06,178.76 280.14,179.39 280.22,181.45 280.29,181.35 280.37,180.73 280.45,180.70 280.52,180.66 280.60,181.82 280.65,182.39 280.69,182.98 280.74,182.17 280.79,180.84 280.83,179.63 280.88,180.37 280.92,179.30 280.97,178.85 281.02,175.78 281.06,174.70 281.11,175.98 281.16,176.87 281.20,177.62 281.25,176.96 281.30,176.04 281.34,175.30 281.39,174.81 281.43,175.84 281.48,175.99 281.53,175.07 281.57,174.80 281.62,174.26 281.67,174.64 281.71,174.46 281.76,173.61 281.80,174.70 281.85,173.28 281.90,173.33 281.94,171.85 281.99,170.61 282.04,170.86 282.08,169.36 282.13,168.73 282.18,168.49 282.22,168.16 282.27,169.12 282.31,168.59 282.36,168.39 282.41,168.95 282.45,170.63 282.50,169.58 282.55,169.15 282.60,168.71 282.65,168.91 282.70,167.38 282.74,167.52 282.79,166.95 282.84,166.64 282.89,167.53 282.94,167.88 282.99,168.71 283.04,169.03 283.09,167.97 283.13,166.99 283.18,164.25 283.23,162.75 283.28,163.42 283.33,164.55 283.38,162.61 283.43,161.85 283.48,159.42 283.52,161.03 283.57,161.00 283.62,159.58 283.67,158.91 283.72,158.08 283.77,157.82 283.82,158.69 283.87,156.90 283.91,156.00 283.96,156.00 284.01,156.00 284.06,156.00 284.11,156.00 284.16,156.00 284.21,156.00 284.26,156.00 284.30,156.00 284.35,156.00 284.40,156.00 284.45,156.16 284.50,158.05 284.55,156.41 284.59,156.36 284.64,155.55 284.69,155.24 284.73,155.20 284.78,156.96 284.83,156.37 284.87,157.23 284.92,156.82 284.97,153.91 285.01,153.15 285.06,152.59 285.10,151.29 285.15,152.85 285.20,153.72 285.24,150.83 285.29,150.61 285.34,151.00 285.38,150.55 285.43,150.91 285.48,149.36 285.52,150.28 285.57,147.65 285.62,147.44 285.66,147.24 285.71,145.76 285.76,147.52 285.80,147.99 285.85,145.04 285.90,143.40 285.94,143.40 285.99,143.40 286.03,143.40 286.08,145.73 286.13,145.29 286.17,145.17 286.22,145.20 286.27,144.82 286.31,145.42 286.36,145.15 286.41,143.40 286.45,144.30 286.50,145.32 286.59,144.85 286.68,145.67 286.77,146.59 286.86,146.60 286.95,146.31 287.05,143.89 287.14,143.67 287.23,144.07 287.32,143.42 287.41,143.08 287.50,143.05 287.59,142.48 287.68,141.37 287.77,143.28 287.86,142.84 287.95,142.55 288.05,143.20 288.14,142.54 288.23,142.84 288.32,145.47 288.41,144.70 288.50,144.15 288.59,144.79 288.68,145.28 288.77,143.52 288.86,144.02 288.95,143.79 289.05,143.67 289.14,142.01 289.23,142.80 289.32,143.10 289.41,143.65 289.50,141.65 289.56,140.40 289.62,139.70 289.68,140.14 289.75,140.20 289.81,140.07 289.87,139.75 289.93,139.51 289.99,138.17 290.05,137.37 290.11,136.88 290.17,136.85 290.24,137.71 290.30,137.62 290.36,136.41 290.42,136.79 290.48,137.78 290.54,136.28 290.60,136.22 290.66,137.11 290.73,136.08 290.79,136.84 290.85,137.17 290.91,136.93 290.97,135.34 291.03,135.81 291.09,135.02 291.15,133.50 291.22,132.32 291.28,133.75 291.34,134.41 291.40,133.77 291.43,133.96 291.45,134.97 291.48,135.50 291.51,135.50 291.53,135.50 291.56,135.50 291.58,135.50 291.61,135.50 291.64,135.28 291.66,133.58 291.69,133.60 291.72,133.66 291.74,133.15 291.77,133.95 291.79,133.02 291.82,131.03 291.85,131.88 291.87,129.58 291.90,129.24 291.93,127.53 291.95,127.41 291.98,127.22 292.01,128.53 292.03,127.93 292.06,127.07 292.08,129.43 292.11,128.81 292.14,127.51 292.16,127.66 292.19,127.23 292.22,126.33 292.24,124.07 292.27,122.98 292.29,122.52 292.32,121.78 292.35,121.81 292.37,121.12 292.40,121.10 292.43,120.87 292.46,120.09 292.49,120.44 292.52,120.01 292.56,118.00 292.59,118.63 292.62,119.86 292.65,119.02 292.68,120.19 292.71,119.16 292.74,117.89 292.77,117.67 292.81,118.24 292.84,117.42 292.87,117.55 292.90,114.83 292.93,115.41 292.96,113.31 292.99,113.72 293.02,114.23 293.06,114.17 293.09,113.52 293.12,114.46 293.15,115.43 293.18,112.87 293.21,114.20 293.24,114.38 293.27,113.84 293.31,113.28 293.34,112.43 293.37,112.90 293.40,112.37 293.43,113.09 293.45,112.42 293.48,112.28 293.51,110.83 293.53,110.23 293.56,108.58 293.58,108.96 293.61,108.70 293.64,108.56 293.66,107.98 293.69,107.22 293.72,105.81 293.74,105.72 293.77,105.19 293.79,104.43 293.82,104.78 293.85,104.60 293.87,103.78 293.90,103.22 293.93,104.33 293.95,103.19 293.98,103.59 294.01,104.24 294.03,103.65 294.06,103.75 294.08,103.88 294.11,102.19 294.14,103.25 294.16,102.49 294.19,101.34 294.22,101.11 294.24,100.11 294.27,100.46 294.29,100.14 294.32,99.03 294.35,98.30 294.37,98.90 294.40,99.96 294.44,99.67 294.48,100.81 294.52,98.98 294.55,97.58 294.59,99.19 294.63,97.90 294.67,97.51 294.71,96.80 294.75,95.04 294.78,95.63 294.82,94.25 294.86,96.44 294.90,95.73 294.94,96.63 294.98,94.57 295.02,93.60 295.05,92.12 295.09,91.84 295.13,91.03 295.17,90.75 295.21,90.65 295.25,91.18 295.28,90.80 295.32,90.70 295.36,93.31 295.40,91.72 295.44,92.77 295.49,92.94 295.53,94.00 295.57,93.67 295.62,93.07 295.66,92.62 295.70,92.61 295.75,91.78 295.79,91.20 295.83,92.45 295.88,91.34 295.92,90.78 295.97,89.90 296.01,90.39 296.05,90.85 296.10,89.53 296.14,88.99 296.18,87.80 296.23,88.05 296.27,87.51 296.31,86.65 296.36,84.89 296.40,86.07 296.43,85.00 296.46,84.11 296.49,84.04 296.51,84.41 296.54,85.49 296.57,83.39 296.60,82.10 296.63,82.15 296.66,81.12 296.69,79.46 296.71,80.25 296.74,79.90 296.77,79.67 296.80,79.33 296.83,77.10 296.86,77.75 296.89,77.57 296.91,79.90 296.94,77.58 296.97,77.98 297.00,77.93 297.03,77.14 297.06,77.62 297.09,78.09 297.11,77.40 297.14,76.91 297.17,76.49 297.20,76.46 297.23,76.08 297.26,74.97 297.29,72.55 297.31,72.73 297.34,73.53 297.37,72.96 297.40,73.53 297.45,73.24 297.51,72.22 297.56,70.66 297.61,73.76 297.66,72.45 297.72,73.66 297.77,72.97 297.82,72.58 297.88,71.47 297.93,73.72 297.98,72.64 298.03,72.08 298.09,72.78 298.14,72.33 298.19,73.89 298.24,73.62 298.30,72.65 298.35,73.20 298.40,72.20 298.46,71.27 298.51,71.57 298.56,69.55 298.61,69.28 298.67,68.80 298.72,68.89 298.77,69.05 298.82,68.25 298.88,67.19 298.93,66.70 298.98,64.61 299.04,65.99 299.09,65.68 299.14,66.90 299.19,64.88 299.25,64.30 299.30,63.85 299.40,66.60 299.49,66.60 299.59,66.20 299.68,66.60 299.78,66.60 299.87,66.60 299.97,66.60 300.06,66.60 300.16,66.60 300.25,66.60 300.35,66.60 300.44,65.58 300.54,66.60 300.63,65.93 300.73,63.85 300.82,64.36 300.92,64.48 301.01,63.32 301.11,63.81 301.20,61.60 301.30,62.91 301.33,63.22 301.36,64.80 301.40,63.23 301.43,62.83 301.46,61.60 301.49,63.01 301.52,63.07 301.55,62.99 301.59,62.75 301.62,62.37 301.65,61.60 301.68,62.58 301.71,63.35 301.74,63.80 301.78,65.80 301.81,65.14 301.84,66.50 301.87,66.02 301.90,66.11 301.93,64.78 301.97,65.50 302.00,65.70 302.03,68.67 302.06,68.22 302.09,68.91 302.13,69.07 302.16,71.42 302.19,73.03 302.22,72.02 302.25,72.24 302.28,72.50 302.32,73.65 302.35,73.44 302.38,75.42 302.41,74.77 302.44,74.22 302.47,74.89 302.51,75.35 302.54,74.48 302.57,75.50 302.60,75.38 302.63,77.54 302.67,76.87 302.70,77.12 302.73,76.05 302.76,76.53 302.79,76.73 302.82,75.88 302.86,75.82 302.89,76.28 302.92,76.04 302.95,76.34 302.98,74.96 303.01,73.78 303.05,73.85 303.08,75.18 303.11,78.57 303.14,80.60 303.17,79.21 303.20,80.46 303.24,81.85 303.27,83.24 303.30,83.08 303.32,81.59 303.34,80.59 303.37,80.95 303.39,78.96 303.41,78.40 303.43,77.58 303.45,79.29 303.47,78.70 303.50,76.22 303.52,76.63 303.54,75.64 303.56,75.57 303.58,75.86 303.60,74.95 303.63,74.63 303.65,74.02 303.67,73.50 303.69,75.01 303.71,73.78 303.73,72.58 303.76,72.35 303.78,72.36 303.80,72.54 303.82,71.50 303.84,71.77 303.87,69.89 303.89,71.00 303.91,71.05 303.93,71.16 303.95,70.32 303.97,70.70 304.00,70.34 304.02,70.21 304.04,69.15 304.06,68.45 304.08,69.10 304.10,70.02 304.13,71.83 304.15,69.08 304.17,68.65 304.19,69.95 304.21,71.01 304.23,70.27 304.26,68.00 304.28,68.17 304.30,67.55 304.32,67.16 304.34,68.37 304.37,68.56 304.39,67.67 304.41,66.03 304.43,66.16 304.45,64.99 304.47,64.75 304.50,65.11 304.52,64.91 304.54,64.82 304.56,65.04 304.58,63.78 304.60,64.82 304.63,64.69 304.65,64.47 304.67,64.71 304.69,65.59 304.71,63.81 304.73,62.53 304.76,62.61 304.78,62.49 304.80,61.87 304.82,62.96 304.84,63.06 304.87,62.22 304.89,62.76 304.91,63.86 304.93,61.80 304.95,60.99 304.97,60.76 305.00,61.23 305.02,60.94 305.04,59.74 305.06,57.76 305.08,59.51 305.10,58.88 305.13,57.73 305.15,57.94 305.17,57.25 305.19,54.23 305.21,54.15 305.23,52.50 305.26,54.11 305.28,54.41 305.30,53.91 305.35,54.75 305.40,55.37 305.46,54.02 305.51,54.09 305.56,53.59 305.61,54.79 305.67,55.83 305.72,56.99 305.77,56.69 305.82,56.04 305.87,58.37 305.93,57.64 305.98,59.27 306.03,59.25 306.08,59.77 306.13,59.05 306.19,60.62 306.24,61.63 306.29,60.63 306.34,61.90 306.40,62.00 306.45,61.72 306.50,60.22 306.53,60.62 306.55,61.32 306.58,60.34 306.60,59.19 306.63,61.10 306.65,61.01 306.68,60.75 306.71,61.59 306.73,61.57 306.76,61.67 306.78,58.09 306.81,59.31 306.83,59.56 306.86,58.64 306.89,58.20 306.91,56.87 306.94,57.30 306.96,57.46 306.99,57.07 307.02,56.89 307.04,58.11 307.07,57.55 307.09,57.01 307.12,56.44 307.14,56.94 307.17,56.98 307.20,55.23 307.22,55.68 307.25,56.02 307.27,57.06 307.30,57.40 307.32,54.73 307.35,54.95 307.38,56.90 307.40,55.57 307.43,55.21 307.45,54.64 307.48,54.84 307.50,52.65 307.53,51.53 307.56,51.26 307.58,51.10 307.61,50.11 307.63,48.34 307.66,47.78 307.68,46.93 307.71,48.43 307.74,46.68 307.76,47.03 307.79,45.73 307.81,47.41 307.84,47.52 307.87,44.40 307.89,42.74 307.92,43.20 307.94,42.75 307.97,42.22 307.99,42.96 308.02,41.61 308.05,41.24 308.07,41.31 308.10,40.26 308.12,38.99 308.15,40.02 308.17,40.52 308.20,38.37 308.25,37.92 308.30,37.96 308.35,41.23 308.41,41.13 308.46,41.13 308.51,41.19 308.56,41.30 308.61,41.33 308.66,40.54 308.71,42.10 308.76,41.67 308.82,41.30 308.87,42.57 308.92,45.43 308.97,44.44 309.02,43.68 309.07,44.57 309.12,46.29 309.17,46.11 309.23,48.59 309.28,49.79 309.33,48.56 309.38,50.35 309.43,48.12 309.48,48.67 309.53,50.41 309.58,48.67 309.64,47.60 309.69,50.07 309.74,49.02 309.79,51.29 309.84,51.63 309.89,51.11 309.94,51.46 309.99,51.70 310.05,51.46 310.10,49.42 310.15,50.45 310.20,49.13 310.26,49.65 310.31,49.25 310.37,49.39 310.42,49.81 310.48,48.84 310.53,48.62 310.59,50.38 310.64,50.16 310.70,51.32 310.76,51.19 310.81,52.28 310.87,52.74 310.92,55.07 310.98,53.06 311.03,54.06 311.09,55.32 311.14,56.46 311.20,56.63 311.26,57.38 311.31,57.94 311.37,58.04 311.42,59.06 311.48,59.15 311.53,58.66 311.59,59.06 311.64,60.15 311.70,61.37 311.76,60.85 311.81,61.60 311.87,61.59 311.92,61.27 311.98,60.81 312.03,61.08 312.09,59.43 312.14,59.07 312.20,59.47 312.27,57.60 312.35,59.10 312.42,58.02 312.50,59.17 312.57,58.38 312.64,57.87 312.72,57.60 312.79,58.42 312.87,58.69 312.94,58.19 313.01,59.92 313.09,60.55 313.16,61.81 313.24,64.34 313.31,64.76 313.39,64.26 313.46,63.48 313.53,65.95 313.61,66.95 313.68,66.16 313.76,66.89 313.83,67.43 313.90,65.20 313.98,65.19 314.05,64.79 314.13,67.01 314.20,65.88 314.26,65.50 314.32,65.79 314.39,64.85 314.45,65.41 314.51,67.29 314.57,66.05 314.64,66.68 314.70,67.55 314.76,66.95 314.82,66.72 314.89,66.07 314.95,68.03 315.01,68.93 315.07,68.55 315.14,68.79 315.20,69.19 315.21,70.42 315.23,71.41 315.24,70.84 315.25,70.27 315.27,69.31 315.28,68.33 315.29,69.90 315.30,70.37 315.32,70.72 315.33,70.77 315.34,71.84 315.36,73.48 315.37,73.47 315.38,74.36 315.40,75.54 315.41,74.95 315.42,74.86 315.43,74.94 315.45,74.94 315.46,76.16 315.47,75.84 315.49,76.17 315.50,77.93 315.51,77.01 315.53,79.03 315.54,80.34 315.55,79.43 315.57,80.00 315.58,82.29 315.59,83.31 315.60,83.98 315.62,85.48 315.63,85.27 315.64,85.60 315.66,83.93 315.67,83.64 315.68,84.71 315.70,86.09 315.71,85.23 315.72,84.45 315.73,84.13 315.75,85.61 315.76,86.07 315.77,87.94 315.79,86.69 315.80,86.44 315.81,85.09 315.83,85.78 315.84,87.11 315.85,87.61 315.87,87.02 315.88,86.48 315.89,86.62 315.90,87.12 315.92,87.35 315.93,88.38 315.94,88.74 315.96,89.40 315.97,88.57 315.98,88.65 316.00,90.31 316.01,91.03 316.02,90.62 316.03,91.94 316.05,90.00 316.06,90.72 316.07,91.38 316.09,91.80 316.10,92.82 316.16,93.86 316.23,91.82 316.29,92.33 316.35,93.56 316.41,93.41 316.48,94.46 316.54,94.17 316.60,92.81 316.66,94.52 316.73,95.15 316.79,93.83 316.85,93.95 316.91,93.07 316.98,92.19 317.04,92.49 317.10,93.78 317.16,93.52 317.23,92.34 317.29,91.66 317.35,92.40 317.41,92.94 317.48,93.70 317.54,93.65 317.60,94.57 317.66,95.41 317.73,95.45 317.79,96.67 317.85,99.07 317.91,99.36 317.98,99.49 318.04,100.37 318.10,100.65 318.18,101.28 318.27,103.24 318.35,103.93 318.43,103.74 318.52,104.66 318.60,104.53 318.68,104.81 318.77,105.38 318.85,105.90 318.93,103.44 319.02,102.72 319.10,102.28 319.18,102.32 319.27,102.14 319.35,100.68 319.43,100.76 319.52,100.57 319.60,98.86 319.68,99.58 319.77,99.90 319.85,100.08 319.93,102.83 320.02,102.42 320.10,103.64 320.17,104.58 320.25,107.92 320.32,106.79 320.40,108.73 320.47,110.00 320.54,111.45 320.62,110.77 320.69,110.25 320.77,110.62 320.84,111.69 320.91,109.93 320.99,109.34 321.06,108.77 321.14,108.77 321.21,109.22 321.29,107.84 321.36,107.85 321.43,109.14 321.51,108.92 321.58,108.58 321.66,107.89 321.73,107.61 321.80,106.98 321.88,106.63 321.95,107.07 322.03,108.13 322.10,109.45 322.14,109.78 322.18,108.24 322.22,108.45 322.27,107.07 322.31,105.68 322.35,107.77 322.39,107.72 322.43,109.29 322.47,107.84 322.51,108.31 322.55,108.18 322.60,108.02 322.64,107.52 322.68,107.49 322.72,106.93 322.76,105.34 322.80,106.00 322.84,104.95 322.88,106.47 322.93,108.02 322.97,107.95 323.01,107.27 323.05,107.70 323.09,107.21 323.13,104.81 323.17,103.96 323.22,103.32 323.26,101.69 323.30,102.88 323.34,102.14 323.38,101.87 323.42,102.07 323.46,100.69 323.50,101.02 323.55,101.46 323.59,100.30 323.63,99.00 323.67,98.16 323.71,96.66 323.75,97.12 323.79,96.80 323.83,98.54 323.88,96.52 323.92,96.73 323.96,95.64 324.00,95.08 324.03,92.66 324.06,91.52 324.09,92.05 324.12,93.98 324.15,92.78 324.18,92.61 324.21,92.16 324.24,92.30 324.26,94.15 324.29,92.49 324.32,91.19 324.35,92.51 324.38,93.12 324.41,95.51 324.44,93.75 324.47,92.53 324.50,92.33 324.53,93.08 324.56,92.37 324.59,91.54 324.62,91.06 324.65,90.08 324.68,89.04 324.71,89.02 324.74,89.63 324.76,90.24 324.79,88.05 324.82,89.02 324.85,87.71 324.88,87.31 324.91,86.92 324.94,86.43 324.97,86.95 325.00,86.27 325.07,87.13 325.14,87.30 325.21,85.53 325.28,85.37 325.34,83.62 325.41,82.48 325.48,81.88 325.55,80.58 325.62,79.04 325.69,79.27 325.76,79.99 325.83,79.58 325.90,78.33 325.97,78.46 326.03,78.55 326.10,76.79 326.17,76.40 326.24,76.90 326.31,76.94 326.38,76.51 326.45,76.40 326.52,76.40 326.59,76.51 326.66,78.74 326.72,78.14 326.79,78.31 326.86,79.33 326.93,79.54 327.00,79.17 327.07,79.01 327.14,79.31 327.21,81.02 327.28,80.14 327.34,80.43 327.41,81.66 327.48,80.52 327.55,80.86 327.62,80.20 327.69,79.27 327.76,79.03 327.83,80.17 327.90,79.69 327.97,80.14 328.03,82.89 328.10,82.43 328.17,83.71 328.24,84.71 328.31,84.72 328.38,85.13 328.45,86.12 328.52,86.89 328.59,87.30 328.66,86.40 328.72,86.98 328.79,85.54 328.86,86.65 328.93,85.15 329.00,85.81 329.02,86.96 329.05,87.83 329.07,87.68 329.10,87.40 329.12,88.19 329.15,86.87 329.18,87.12 329.20,87.83 329.23,89.26 329.25,89.54 329.27,89.91 329.30,92.00 329.32,91.23 329.35,91.29 329.38,91.59 329.40,92.26 329.43,94.47 329.45,93.26 329.48,93.02 329.50,93.71 329.52,93.76 329.55,93.49 329.57,93.23 329.60,92.58 329.62,93.91 329.65,94.42 329.68,94.33 329.70,94.78 329.73,95.43 329.75,95.27 329.77,95.31 329.80,95.91 329.82,96.83 329.85,96.81 329.88,96.40 329.90,95.49 329.93,96.36 329.95,96.88 329.98,95.41 330.00,97.68 330.02,98.68 330.03,96.98 330.05,95.91 330.07,95.90 330.08,98.11 330.10,98.55 330.11,99.55 330.13,99.14 330.15,99.15 330.16,98.64 330.18,99.58 330.20,97.87 330.21,100.33 330.23,101.35 330.25,101.80 330.26,102.79 330.28,103.51 330.30,103.72 330.31,103.45 330.33,104.53 330.34,103.65 330.36,102.95 330.38,101.81 330.39,101.58 330.41,103.47 330.43,104.37 330.44,104.98 330.46,104.88 330.48,105.90 330.49,107.41 330.51,106.82 330.52,105.91 330.54,107.42 330.56,105.99 330.57,106.95 330.59,106.94 330.61,108.55 330.62,109.29 330.64,110.94 330.66,112.13 330.67,110.35 330.69,109.92 330.70,110.19 330.72,108.41 330.74,109.46 330.75,109.53 330.77,108.52 330.79,111.11 330.80,113.03 330.82,112.72 330.84,112.84 330.85,115.70 330.87,116.38 330.89,116.66 330.90,117.10 330.92,116.81 330.93,117.22 330.95,118.01 330.97,118.29 330.98,117.90 331.00,117.50 331.02,116.43 331.05,115.85 331.07,116.01 331.09,117.75 331.12,117.91 331.14,119.22 331.16,119.61 331.19,117.99 331.21,120.27 331.23,119.05 331.26,119.89 331.28,120.92 331.30,122.03 331.33,121.76 331.35,123.86 331.37,124.26 331.40,123.83 331.42,124.27 331.44,126.48 331.47,128.17 331.49,126.50 331.51,127.92 331.53,127.68 331.56,127.96 331.58,127.33 331.60,127.08 331.63,125.95 331.65,126.07 331.67,127.77 331.70,127.54 331.72,127.55 331.74,127.75 331.77,130.29 331.79,129.57 331.81,128.91 331.84,127.82 331.86,129.70 331.88,129.50 331.91,130.07 331.93,130.36 331.95,129.93 331.98,131.88 332.00,131.75 332.05,133.18 332.09,132.73 332.14,132.71 332.19,133.89 332.23,132.36 332.28,132.50 332.32,132.76 332.37,132.15 332.42,133.27 332.46,134.11 332.51,132.66 332.56,131.22 332.60,133.03 332.65,133.45 332.70,133.80 332.74,131.95 332.79,133.85 332.83,135.54 332.88,136.09 332.93,136.32 332.97,138.97 333.02,139.31 333.07,138.25 333.11,137.28 333.16,136.90 333.20,136.99 333.25,137.63 333.30,137.63 333.34,138.04 333.39,139.39 333.44,140.99 333.48,140.98 333.53,144.26 333.58,144.85 333.62,144.42 333.67,144.18 333.71,143.65 333.76,144.28 333.81,143.47 333.85,142.91 333.90,144.13 333.96,144.27 334.02,145.63 334.09,145.48 334.15,146.79 334.21,146.01 334.27,144.12 334.34,144.22 334.40,145.56 334.46,146.90 334.52,147.10 334.59,146.42 334.65,145.90 334.71,146.63 334.77,148.54 334.84,147.54 334.90,146.96 334.96,147.87 335.02,147.33 335.09,147.61 335.15,148.30 335.21,149.94 335.27,149.64 335.34,149.94 335.40,150.66 335.46,150.21 335.52,151.35 335.59,153.06 335.65,153.30 335.71,152.99 335.77,153.30 335.84,153.30 335.90,152.53 335.97,152.85 336.05,152.78 336.12,152.70 336.20,151.18 336.27,150.33 336.34,151.16 336.42,152.10 336.49,151.39 336.57,149.49 336.64,148.46 336.71,148.73 336.79,146.36 336.86,145.87 336.94,146.57 337.01,145.73 337.09,145.65 337.16,145.00 337.23,145.23 337.31,144.75 337.38,145.02 337.46,147.47 337.53,147.46 337.60,148.43 337.68,148.70 337.75,148.33 337.83,147.69 337.90,146.42 337.93,147.59 337.96,148.63 337.99,149.85 338.02,149.17 338.05,147.83 338.08,149.22 338.11,151.49 338.14,152.13 338.16,152.87 338.19,152.62 338.22,151.93 338.25,152.08 338.28,151.61 338.31,151.21 338.34,152.51 338.37,152.28 338.40,150.36 338.43,148.86 338.46,150.32 338.49,150.91 338.52,151.16 338.55,150.49 338.58,150.85 338.61,151.01 338.64,151.21 338.66,151.80 338.69,152.16 338.72,152.28 338.75,151.11 338.78,151.14 338.81,152.49 338.84,152.97 338.87,153.92 338.90,154.74 338.96,154.00 339.02,154.99 339.08,155.87 339.15,156.17 339.21,158.39 339.27,158.08 339.33,160.65 339.39,161.67 339.45,162.30 339.51,164.41 339.57,164.11 339.64,165.43 339.70,165.43 339.76,165.90 339.82,165.30 339.88,164.97 339.94,165.90 340.00,165.90 340.06,165.81 340.13,165.19 340.19,165.24 340.25,165.86 340.31,165.90 340.37,165.90 340.43,165.52 340.49,165.36 340.55,163.57 340.62,163.02 340.68,163.14 340.74,163.04 340.80,162.86 340.86,163.31 340.93,162.66 340.99,162.87 341.05,161.90 341.11,163.23 341.18,161.97 341.24,162.93 341.30,163.12 341.36,162.94 341.43,163.62 341.49,164.03 341.55,165.42 341.61,165.48 341.68,168.43 341.74,169.41 341.80,169.29 341.86,170.16 341.93,170.79 341.99,169.55 342.05,171.98 342.11,170.63 342.18,170.27 342.24,170.84 342.30,170.93 342.36,170.81 342.43,172.25 342.49,171.25 342.55,170.97 342.61,170.73 342.68,171.47 342.74,172.01 342.80,171.48 342.84,170.67 342.89,170.80 342.93,169.80 342.98,170.49 343.02,169.80 343.07,169.80 343.11,169.91 343.16,169.80 343.20,169.80 343.25,169.80 343.29,169.80 343.34,169.80 343.38,170.63 343.43,170.43 343.47,171.71 343.52,171.65 343.56,171.86 343.61,173.01 343.65,172.19 343.70,173.67 343.74,173.49 343.79,174.32 343.83,173.73 343.87,173.22 343.92,174.16 343.96,173.76 344.01,177.05 344.05,177.94 344.10,178.70 344.14,177.81 344.19,179.20 344.23,180.30 344.28,179.58 344.32,179.78 344.37,180.87 344.41,181.66 344.46,182.24 344.50,183.19 344.55,182.52 344.59,182.80 344.64,182.22 344.68,182.01 344.73,181.61 344.77,182.43 344.81,183.22 344.86,183.00 344.90,183.99 344.95,184.20 344.99,181.41 345.04,182.66 345.08,182.78 345.13,182.86 345.17,181.79 345.22,182.06 345.26,183.44 345.31,182.99 345.35,183.64 345.40,183.09 345.44,182.91 345.49,184.11 345.53,184.91 345.58,184.76 345.62,186.35 345.67,186.16 345.71,186.86 345.76,187.03 345.80,191.06 345.84,189.85 345.88,189.79 345.92,189.17 345.95,189.21 345.99,191.06 346.03,190.04 346.07,189.54 346.11,189.33 346.15,189.26 346.18,188.13 346.22,189.96 346.26,188.85 346.30,190.59 346.34,189.14 346.38,188.37 346.42,189.07 346.45,188.47 346.49,186.42 346.53,185.84 346.57,185.58 346.61,186.24 346.65,184.19 346.68,184.90 346.72,183.10 346.76,181.02 346.80,182.47 346.84,180.24 346.88,178.97 346.92,180.01 346.95,178.97 346.99,178.88 347.03,177.14 347.07,176.42 347.11,176.63 347.15,178.72 347.18,178.50 347.22,179.88 347.26,178.22 347.30,178.33 347.34,178.40 347.38,177.44 347.42,178.33 347.45,178.19 347.49,175.20 347.53,175.00 347.57,174.74 347.61,174.61 347.65,174.82 347.68,174.62 347.72,173.80 347.76,174.47 347.80,175.12 347.89,176.62 347.98,176.95 348.07,177.10 348.16,178.95 348.25,179.79 348.34,181.43 348.43,181.46 348.52,181.52 348.62,181.70 348.71,181.70 348.80,181.70 348.89,181.70 348.98,180.06 349.07,177.77 349.16,178.30 349.25,177.45 349.34,177.42 349.43,178.73 349.52,179.08 349.61,178.05 349.70,179.22 349.79,179.38 349.88,177.39 349.98,177.90 350.07,178.45 350.16,177.54 350.25,178.06 350.34,179.82 350.43,180.73 350.52,180.33 350.61,181.28 350.70,180.53 350.76,182.15 350.82,181.41 350.89,181.13 350.95,179.81 351.01,181.17 351.07,183.39 351.14,182.33 351.20,183.54 351.26,181.89 351.32,182.23 351.39,180.88 351.45,180.51 351.51,180.84 351.57,180.27 351.64,179.40 351.70,179.57 351.76,179.80 351.82,181.37 351.89,182.88 351.95,186.16 352.01,183.72 352.07,181.46 352.14,182.40 352.20,183.19 352.26,183.65 352.32,184.42 352.39,184.64 352.45,184.07 352.51,184.64 352.57,186.56 352.64,187.04 352.70,188.56 352.75,190.74 352.80,190.87 352.85,189.70 352.90,190.23 352.94,190.02 352.99,189.78 353.04,188.03 353.09,187.36 353.14,188.66 353.19,187.81 353.24,186.52 353.29,186.13 353.33,186.66 353.38,186.92 353.43,187.31 353.48,188.34 353.53,189.78 353.58,189.32 353.63,190.04 353.68,191.76 353.72,192.40 353.77,191.45 353.82,191.73 353.87,191.80 353.92,190.90 353.97,190.20 354.02,191.80 354.07,192.00 354.11,194.25 354.16,194.74 354.21,194.14 354.26,195.70 354.31,196.29 354.36,196.81 354.41,195.39 354.46,196.42 354.50,195.46 354.55,195.32 354.60,196.91 354.65,198.25 354.70,200.08 354.80,199.10 354.89,198.88 354.99,197.97 355.09,199.85 355.18,200.20 355.28,200.73 355.38,200.48 355.47,198.94 355.57,198.43 355.67,197.56 355.76,197.50 355.86,197.50 355.96,197.50 356.05,197.50 356.15,197.50 356.25,198.18 356.34,199.47 356.44,200.67 356.54,198.30 356.63,199.23 356.73,200.41 356.83,200.93 356.92,199.67 357.02,199.03 357.12,200.95 357.21,202.29 357.31,202.67 357.41,201.54 357.50,201.41 357.60,201.82 357.70,201.13 357.79,200.94 357.89,200.47 357.98,199.50 358.08,199.66 358.17,200.70 358.27,200.21 358.36,200.18 358.46,200.90 358.55,200.36 358.65,199.50 358.74,199.50 358.84,199.50 358.93,200.38 359.03,201.00 359.12,201.59 359.22,203.40 359.31,204.36 359.41,202.75 359.50,202.05 359.60,203.56 359.70,202.90 359.79,202.13 359.89,201.60 359.98,201.27 360.08,204.01 360.17,204.10 360.27,202.22 360.36,202.25 360.46,202.31 360.55,203.39 360.65,205.07 360.74,204.97 360.84,206.62 360.93,206.50 361.03,207.40 361.12,206.14 361.22,205.09 361.31,206.77 361.41,205.59 361.50,206.70 361.60,205.99 361.67,206.45 361.74,207.08 361.81,208.53 361.88,207.59 361.95,207.57 362.02,208.24 362.09,208.06 362.16,207.58 362.23,207.15 362.30,208.33 362.37,209.28 362.44,208.27 362.51,209.95 362.58,210.38 362.65,211.06 362.72,210.98 362.79,211.37 362.86,212.04 362.93,213.54 363.00,213.41 363.07,212.21 363.13,213.81 363.20,214.31 363.27,214.71 363.34,213.82 363.41,214.58 363.48,214.88 363.55,217.30 363.62,216.30 363.69,214.81 363.76,215.64 363.83,215.62 363.90,217.30 363.97,217.30 364.04,217.30 364.11,217.30 364.18,216.14 364.25,217.30 364.32,216.28 364.39,217.30 364.46,216.82 364.53,215.47 364.60,215.49 364.66,216.33 364.71,216.70 364.77,214.83 364.82,214.55 364.88,218.53 364.93,217.63 364.99,218.04 365.04,218.49 365.10,218.79 365.16,218.24 365.21,217.48 365.27,216.49 365.32,215.17 365.38,216.48 365.43,217.24 365.49,217.22 365.54,217.67 365.60,219.51 365.62,219.79 365.65,219.75 365.67,220.30 365.70,221.59 365.72,220.43 365.75,220.72 365.77,222.71 365.79,222.15 365.82,222.37 365.84,223.06 365.87,223.42 365.89,223.98 365.92,224.06 365.94,224.29 365.96,225.37 365.99,224.16 366.01,223.88 366.04,225.45 366.06,225.95 366.09,226.40 366.11,227.06 366.14,227.41 366.16,227.45 366.18,226.67 366.21,227.10 366.23,227.70 366.26,227.85 366.28,231.12 366.31,231.14 366.33,230.52 366.35,231.53 366.38,231.50 366.40,233.43 366.43,232.98 366.45,232.64 366.48,232.33 366.50,232.92 366.57,232.26 366.64,233.72 366.71,233.08 366.78,234.23 366.85,233.50 366.92,234.25 366.99,234.29 367.06,232.81 367.13,233.14 367.20,231.96 367.27,231.66 367.34,232.69 367.41,231.96 367.48,231.40 367.55,229.90 367.62,230.34 367.69,232.26 367.76,234.02 367.83,232.97 367.90,232.43 367.97,233.25 368.03,234.72 368.10,233.85 368.17,233.98 368.24,235.57 368.31,235.24 368.38,238.15 368.45,238.50 368.52,238.29 368.59,237.84 368.66,239.94 368.73,239.61 368.80,240.16 368.87,242.20 368.94,242.15 369.01,242.23 369.08,243.09 369.15,243.08 369.22,242.52 369.29,243.08 369.36,241.43 369.43,238.69 369.50,241.50 369.56,238.81 369.62,239.21 369.69,239.26 369.75,238.95 369.81,239.08 369.88,238.33 369.94,237.17 370.00,238.03 370.06,238.49 370.12,236.73 370.19,237.56 370.25,236.20 370.31,236.74 370.38,235.76 370.44,234.41 370.50,235.69 370.56,237.03 370.62,235.91 370.69,238.04 370.75,236.95 370.81,237.49 370.88,237.31 370.94,238.02 371.00,237.62 371.06,238.12 371.12,237.52 371.19,237.05 371.25,238.49 371.31,236.41 371.38,235.02 371.44,234.24 371.50,233.99 371.60,233.40 371.69,234.70 371.79,233.33 371.89,232.29 371.98,231.80 372.08,231.80 372.18,231.80 372.27,231.80 372.37,231.88 372.47,232.46 372.56,234.67 372.66,236.57 372.76,236.39 372.85,237.80 372.95,236.53 373.05,236.38 373.14,236.88 373.24,237.75 373.34,237.80 373.43,237.80 373.53,237.80 373.63,237.80 373.72,236.68 373.82,237.18 373.92,237.80 374.01,237.47 374.11,236.44 374.21,236.29 374.30,234.74 374.40,234.43 374.46,235.03 374.52,234.77 374.59,235.18 374.65,235.11 374.71,235.08 374.77,236.10 374.84,235.28 374.90,235.85 374.96,237.26 375.02,236.67 375.09,237.78 375.15,236.79 375.21,235.62 375.27,235.42 375.34,236.91 375.40,234.86 375.46,234.95 375.52,235.88 375.59,235.51 375.65,234.54 375.71,233.28 375.77,233.06 375.84,231.68 375.90,230.55 375.96,230.13 376.02,229.18 376.09,228.20 376.15,227.20 376.21,227.28 376.27,227.35 376.34,226.62 376.40,226.73 376.47,227.60 376.55,227.36 376.62,228.64 376.70,229.55 376.77,231.50 376.84,230.72 376.92,230.62 376.99,231.73 377.07,231.42 377.14,231.15 377.21,232.21 377.29,232.64 377.36,231.74 377.44,234.83 377.51,233.63 377.59,232.93 377.66,232.48 377.73,232.55 377.81,232.65 377.88,231.42 377.96,233.42 378.03,233.82 378.10,234.77 378.18,234.73 378.25,235.15 378.33,234.36 378.40,232.82 378.44,232.80 378.49,231.15 378.53,230.80 378.57,231.44 378.62,231.60 378.66,231.50 378.70,231.05 378.75,231.86 378.79,233.27 378.83,234.23 378.88,234.18 378.92,235.17 378.97,234.61 379.01,233.59 379.05,233.87 379.10,233.07 379.14,233.48 379.18,231.96 379.23,229.95 379.27,230.09 379.31,230.64 379.36,230.60 379.40,230.49 379.44,231.46 379.49,230.48 379.53,230.95 379.57,229.85 379.62,229.12 379.66,227.80 379.70,228.05 379.75,226.70 379.79,225.85 379.83,225.10 379.88,224.52 379.92,223.06 379.97,223.40 380.01,223.09 380.05,224.53 380.10,221.78 380.14,223.26 380.18,222.86 380.23,221.26 380.27,220.90 380.31,219.76 380.36,219.67 380.40,219.40 380.44,218.23 380.49,217.59 380.53,216.07 380.57,216.16 380.62,216.79 380.66,216.09 380.70,215.24 380.75,213.99 380.79,214.44 380.83,214.73 380.88,215.04 380.92,214.77 380.97,214.11 381.01,214.47 381.05,215.32 381.10,214.22 381.14,214.35 381.18,214.77 381.23,214.19 381.27,215.04 381.31,214.27 381.36,213.49 381.40,213.42 381.42,211.62 381.45,211.30 381.47,212.67 381.50,212.91 381.52,213.96 381.55,214.73 381.57,214.09 381.60,215.83 381.62,215.60 381.65,216.04 381.67,215.95 381.70,215.07 381.72,216.13 381.75,216.48 381.77,216.87 381.80,217.81 381.82,217.60 381.85,219.57 381.88,218.18 381.90,218.91 381.92,219.16 381.95,218.06 381.97,220.21 382.00,220.20 382.02,223.03 382.05,221.26 382.07,222.48 382.10,222.83 382.12,221.97 382.15,224.77 382.17,225.64 382.20,224.45 382.22,225.68 382.25,224.25 382.27,225.35 382.30,225.66 382.32,227.49 382.35,226.00 382.38,225.88 382.40,226.35 382.44,225.02 382.49,223.79 382.53,222.74 382.57,223.57 382.62,224.34 382.66,221.52 382.70,219.93 382.75,219.33 382.79,219.42 382.83,218.23 382.88,218.61 382.92,218.38 382.96,217.45 383.01,219.51 383.05,216.74 383.09,217.42 383.14,216.87 383.18,216.02 383.22,215.04 383.26,215.51 383.31,216.79 383.35,215.61 383.39,215.53 383.44,214.66 383.48,215.73 383.52,216.22 383.57,216.35 383.61,218.78 383.65,217.25 383.70,216.50 383.74,217.14 383.78,217.28 383.83,216.35 383.87,217.75 383.91,217.99 383.96,216.65 384.00,215.99 384.05,216.86 384.10,215.85 384.15,216.57 384.20,216.97 384.24,217.00 384.29,217.00 384.34,215.36 384.39,214.03 384.44,212.45 384.49,211.66 384.54,211.42 384.59,211.45 384.64,212.17 384.69,211.76 384.73,211.83 384.78,210.39 384.83,208.79 384.88,207.52 384.93,208.24 384.98,207.17 385.03,206.20 385.08,205.34 385.13,206.02 385.17,204.05 385.22,204.12 385.27,205.04 385.32,205.94 385.37,205.76 385.42,204.79 385.47,204.01 385.52,204.15 385.57,203.09 385.61,203.32 385.66,204.18 385.71,205.06 385.76,204.97 385.81,205.19 385.86,205.15 385.91,205.21 385.96,204.11 386.01,202.67 386.06,203.68 386.10,202.39 386.15,201.85 386.20,201.17 386.25,202.02 386.30,202.39 386.34,202.09 386.39,202.19 386.43,202.97 386.47,203.46 386.52,206.06 386.56,205.46 386.60,205.48 386.65,205.99 386.69,205.32 386.73,204.39 386.78,204.75 386.82,204.97 386.87,206.07 386.91,204.36 386.95,203.61 387.00,204.45 387.04,204.02 387.08,204.88 387.13,205.93 387.17,204.93 387.21,205.62 387.26,205.98 387.30,206.19 387.34,205.52 387.39,206.64 387.43,207.62 387.47,207.43 387.52,207.65 387.56,207.78 387.60,207.23 387.65,208.39 387.69,207.66 387.73,208.81 387.78,210.30 387.82,209.89 387.87,210.06 387.91,211.58 387.95,211.36 388.00,213.85 388.04,212.89 388.08,213.15 388.13,213.08 388.17,211.43 388.21,212.12 388.26,214.37 388.30,215.83 388.34,215.94 388.37,217.09 388.41,218.11 388.45,218.12 388.49,218.18 388.52,218.52 388.56,218.94 388.60,217.27 388.63,217.81 388.67,218.09 388.71,220.64 388.74,219.14 388.78,219.23 388.82,219.58 388.86,220.72 388.89,221.81 388.93,220.78 388.97,221.95 389.00,221.57 389.04,223.67 389.08,221.87 389.11,221.81 389.15,222.80 389.19,223.81 389.23,222.61 389.26,221.32 389.30,221.84 389.34,222.64 389.37,222.51 389.41,223.14 389.45,222.94 389.49,223.36 389.52,222.46 389.56,223.86 389.60,223.63 389.63,225.43 389.67,224.46 389.71,224.37 389.74,225.76 389.78,225.52 389.82,224.89 389.86,226.37 389.89,225.29 389.93,223.96 389.97,225.72 390.00,225.47 390.04,226.63 390.08,228.71 390.11,229.48 390.15,230.67 390.19,229.56 390.23,229.50 390.26,231.17 390.30,231.77 390.32,230.51 390.35,230.66 390.37,232.62 390.39,233.90 390.42,233.90 390.44,233.67 390.46,231.59 390.49,230.83 390.51,231.47 390.53,231.03 390.55,229.59 390.58,229.72 390.60,229.03 390.62,228.53 390.65,229.39 390.67,229.90 390.69,227.64 390.72,229.90 390.74,229.24 390.76,229.81 390.79,229.47 390.81,227.92 390.83,227.97 390.86,227.85 390.88,225.97 390.90,225.53 390.93,226.44 390.95,225.44 390.97,225.07 391.00,223.85 391.02,224.04 391.04,226.04 391.06,225.99 391.09,223.75 391.11,223.54 391.13,224.29 391.16,224.00 391.18,223.08 391.20,222.50 391.23,220.01 391.25,220.67 391.27,221.61 391.30,221.60 391.32,221.77 391.34,222.19 391.37,220.68 391.39,218.79 391.41,220.96 391.44,220.15 391.46,219.45 391.48,218.09 391.50,218.37 391.53,218.12 391.55,218.07 391.57,216.79 391.60,217.10 391.62,217.58 391.64,216.83 391.67,218.05 391.69,216.12 391.71,213.27 391.74,212.17 391.76,210.77 391.78,209.96 391.81,210.66 391.83,208.83 391.85,207.66 391.88,210.08 391.90,209.14 391.92,208.69 391.95,208.19 391.97,206.24 391.99,206.23 392.01,204.46 392.04,205.05 392.06,206.24 392.08,205.66 392.11,205.61 392.13,204.62 392.15,203.40 392.18,204.06 392.20,204.75 392.24,204.62 392.29,204.13 392.33,203.59 392.37,204.09 392.42,203.84 392.46,203.73 392.50,202.01 392.55,202.35 392.59,204.43 392.63,205.06 392.68,204.64 392.72,203.12 392.77,203.82 392.81,201.56 392.85,201.64 392.90,200.66 392.94,200.46 392.98,198.88 393.03,200.06 393.07,198.28 393.11,198.82 393.16,198.68 393.20,197.78 393.24,198.46 393.29,198.89 393.33,199.12 393.37,199.77 393.42,197.73 393.46,198.58 393.50,197.14 393.55,195.90 393.59,196.37 393.63,196.88 393.68,195.39 393.72,193.73 393.77,194.41 393.81,194.77 393.85,194.86 393.90,194.80 393.94,193.60 393.98,192.32 394.03,192.40 394.07,192.19 394.11,190.64 394.16,190.72 394.20,190.91 394.27,190.89 394.35,189.81 394.42,189.60 394.50,189.54 394.57,190.12 394.64,188.84 394.72,190.48 394.79,189.46 394.87,188.91 394.94,188.60 395.01,188.73 395.09,187.85 395.16,186.58 395.24,187.01 395.31,187.13 395.39,185.21 395.46,185.94 395.53,185.28 395.61,185.92 395.68,184.74 395.76,185.80 395.83,185.15 395.90,184.03 395.98,184.43 396.05,185.09 396.13,185.49 396.20,185.42 396.26,184.01 396.32,184.21 396.39,182.74 396.45,183.77 396.51,182.03 396.57,182.78 396.64,183.66 396.70,184.73 396.76,184.33 396.82,184.07 396.89,183.64 396.95,183.42 397.01,182.66 397.07,181.80 397.14,182.67 397.20,181.96 397.26,183.37 397.32,183.36 397.39,183.15 397.45,183.92 397.51,183.80 397.57,184.72 397.64,185.64 397.70,184.06 397.76,184.88 397.82,184.13 397.89,184.61 397.95,182.58 398.01,180.70 398.07,180.87 398.14,180.11 398.20,177.72 398.28,176.74 398.35,179.20 398.43,177.66 398.51,176.09 398.58,174.08 398.66,173.52 398.73,173.66 398.81,172.33 398.89,172.31 398.96,173.40 399.04,172.60 399.12,173.27 399.19,175.50 399.27,175.13 399.34,177.42 399.42,175.82 399.50,175.06 399.57,173.84 399.65,174.03 399.73,172.39 399.80,173.31 399.88,173.64 399.96,171.60 400.03,171.33 400.11,169.97 400.18,171.48 400.26,171.00 400.34,170.52 400.41,170.08 400.49,171.40 400.57,172.55 400.64,170.58 400.72,169.50 400.79,168.33 400.87,169.45 400.95,169.52 401.02,168.02 401.10,169.33 401.13,167.37 401.16,167.76 401.20,168.08 401.23,165.74 401.26,165.53 401.29,164.82 401.32,165.06 401.35,164.54 401.39,163.88 401.42,165.12 401.45,164.97 401.48,164.16 401.51,162.81 401.55,162.35 401.58,163.23 401.61,163.50 401.64,163.18 401.67,163.26 401.70,163.17 401.74,163.64 401.77,162.29 401.80,163.12 401.83,163.39 401.86,162.97 401.90,163.14 401.93,162.78 401.96,162.73 401.99,163.23 402.02,162.36 402.05,161.42 402.09,160.78 402.12,160.80 402.15,159.51 402.18,159.40 402.21,159.30 402.25,159.68 402.28,158.15 402.31,157.19 402.34,158.07 402.37,157.52 402.40,156.66 402.44,156.27 402.47,157.49 402.50,156.27 402.52,154.66 402.53,156.35 402.55,157.63 402.56,156.23 402.58,156.75 402.59,156.48 402.61,154.91 402.62,155.16 402.64,154.46 402.65,153.25 402.67,151.04 402.68,150.35 402.70,151.03 402.72,149.36 402.73,148.77 402.75,150.15 402.76,150.77 402.78,147.98 402.79,149.10 402.81,151.30 402.82,150.08 402.84,148.72 402.85,148.72 402.87,148.46 402.88,146.02 402.90,145.68 402.92,144.89 402.93,143.03 402.95,144.67 402.96,143.99 402.98,145.34 402.99,145.77 403.01,143.43 403.02,142.92 403.04,143.26 403.05,142.38 403.07,143.58 403.08,143.28 403.10,142.81 403.17,142.60 403.25,143.12 403.32,141.70 403.40,141.31 403.47,140.95 403.54,142.08 403.62,142.26 403.69,144.02 403.77,145.40 403.84,144.23 403.91,142.64 403.99,143.57 404.06,142.19 404.14,141.63 404.21,142.59 404.29,141.17 404.36,140.10 404.43,140.94 404.51,141.36 404.58,139.85 404.66,139.25 404.73,139.61 404.80,138.08 404.88,139.24 404.95,140.36 405.03,139.21 405.10,137.37 405.13,137.27 405.16,136.60 405.19,135.50 405.23,136.34 405.26,136.43 405.29,136.51 405.32,135.60 405.35,136.30 405.38,135.48 405.41,134.73 405.44,132.47 405.48,132.14 405.51,133.98 405.54,133.81 405.57,134.52 405.60,131.18 405.63,133.12 405.66,133.75 405.69,133.24 405.73,131.30 405.76,128.88 405.79,130.15 405.82,130.69 405.85,129.35 405.88,128.59 405.91,130.31 405.94,129.40 405.98,127.78 406.01,126.23 406.04,127.07 406.07,128.16 406.10,127.85 406.15,128.96 406.19,129.57 406.24,128.67 406.29,129.60 406.33,129.60 406.38,129.60 406.42,129.48 406.47,128.81 406.52,128.00 406.56,126.07 406.61,125.39 406.66,125.79 406.70,123.91 406.75,123.31 406.80,122.83 406.84,122.35 406.89,123.37 406.93,122.56 406.98,120.97 407.03,119.83 407.07,121.51 407.12,120.32 407.17,119.00 407.21,117.56 407.26,116.62 407.30,115.57 407.35,115.64 407.40,116.58 407.44,115.00 407.49,114.77 407.54,114.73 407.58,113.70 407.63,113.70 407.68,113.76 407.72,114.55 407.77,114.74 407.81,115.98 407.86,116.02 407.91,115.62 407.95,115.57 408.00,115.53 408.05,114.88 408.10,114.15 408.14,113.57 408.19,115.73 408.24,115.65 408.29,113.93 408.33,114.74 408.38,113.40 408.43,114.58 408.48,115.67 408.52,115.99 408.57,116.25 408.62,114.65 408.67,113.54 408.71,114.07 408.76,115.02 408.81,115.10 408.86,112.77 408.90,112.61 408.95,112.16 409.00,110.50 409.07,109.72 409.15,109.31 409.22,110.37 409.30,108.81 409.37,109.23 409.44,109.01 409.52,106.63 409.59,106.63 409.67,105.95 409.74,106.85 409.81,106.11 409.89,105.72 409.96,106.04 410.04,106.13 410.11,104.95 410.19,103.47 410.26,102.83 410.33,104.84 410.41,105.89 410.48,106.08 410.56,105.95 410.63,106.60 410.70,107.45 410.78,105.85 410.85,105.90 410.93,105.40 411.00,104.79 411.06,103.16 411.12,101.77 411.19,102.99 411.25,103.49 411.31,104.02 411.38,103.68 411.44,103.25 411.50,102.63 411.56,102.01 411.62,103.70 411.69,103.39 411.75,101.73 411.81,101.69 411.88,100.77 411.94,98.95 412.00,99.17" fill="none" stroke="#000" stroke-width="0.75" stroke-linejoin="round" />
<text transform="translate(61.20,286.85) scale(0.95,1)" font-size="14" text-anchor="end" stroke="#000" stroke-width="0.0" >-30</text>
<text transform="translate(61.20,244.55) scale(0.95,1)" font-size="14" text-anchor="end" stroke="#000" stroke-width="0.0" >-20</text>
<text transform="translate(61.20,202.25) scale(0.95,1)" font-size="14" text-anchor="end" stroke="#000" stroke-width="0.0" >-10</text>
<text transform="translate(61.20,159.95) scale(0.95,1)" font-size="14" text-anchor="end" stroke="#000" stroke-width="0.0" >0</text>
<text transform="translate(61.20,117.65) scale(0.95,1)" font-size="14" text-anchor="end" stroke="#000" stroke-width="0.0" >10</text>
<text transform="translate(61.20,75.35) scale(0.95,1)" font-size="14" text-anchor="end" stroke="#000" stroke-width="0.0" >20</text>
<text transform="translate(61.20,33.05) scale(0.95,1)" font-size="14" text-anchor="end" stroke="#000" stroke-width="0.0" >30</text>
<text transform="translate(64.80,295.80) scale(0.95,1)" font-size="14" text-anchor="middle" stroke="#000" stroke-width="0.0" >0</text>
<text transform="translate(178.60,295.80) scale(0.95,1)" font-size="14" text-anchor="middle" stroke="#000" stroke-width="0.0" >10</text>
<text transform="translate(292.40,295.80) scale(0.95,1)" font-size="14" text-anchor="middle" stroke="#000" stroke-width="0.0" >20</text>
<text transform="translate(406.20,295.80) scale(0.95,1)" font-size="14" text-anchor="middle" stroke="#000" stroke-width="0.0" >30</text>
<text transform="translate(520.00,287.10) scale(0.95,1)" font-size="14" text-anchor="end" stroke="#000" stroke-width="0.0" >0</text>
<text transform="translate(520.00,236.24) scale(0.95,1)" font-size="14" text-anchor="end" stroke="#000" stroke-width="0.0" >0.1</text>
<text transform="translate(520.00,185.38) scale(0.95,1)" font-size="14" text-anchor="end" stroke="#000" stroke-width="0.0" >0.2</text>
<text transform="translate(520.00,134.52) scale(0.95,1)" font-size="14" text-anchor="end" stroke="#000" stroke-width="0.0" >0.3</text>
<text transform="translate(520.00,83.66) scale(0.95,1)" font-size="14" text-anchor="end" stroke="#000" stroke-width="0.0" >0.4</text>
<text transform="translate(520.00,32.80) scale(0.95,1)" font-size="14" text-anchor="end" stroke="#000" stroke-width="0.0" >0.5</text>
<text transform="translate(523.50,295.80) scale(0.95,1)" font-size="14" text-anchor="middle" stroke="#000" stroke-width="0.0" >-40</text>
<text transform="translate(569.10,295.80) scale(0.95,1)" font-size="14" text-anchor="middle" stroke="#000" stroke-width="0.0" >-30</text>
<text transform="translate(614.70,295.80) scale(0.95,1)" font-size="14" text-anchor="middle" stroke="#000" stroke-width="0.0" >-20</text>
<text transform="translate(660.30,295.80) scale(0.95,1)" font-size="14" text-anchor="middle" stroke="#000" stroke-width="0.0" >-10</text>
<text transform="translate(706.50,295.80) scale(0.95,1)" font-size="14" text-anchor="middle" stroke="#000" stroke-width="0.0" >0</text>
<text transform="translate(752.10,295.80) scale(0.95,1)" font-size="14" text-anchor="middle" stroke="#000" stroke-width="0.0" >10</text>
<text transform="translate(797.70,295.80) scale(0.95,1)" font-size="14" text-anchor="middle" stroke="#000" stroke-width="0.0" >20</text>
<text transform="translate(843.30,295.80) scale(0.95,1)" font-size="14" text-anchor="middle" stroke="#000" stroke-width="0.0" >30</text>
<text transform="translate(888.90,295.80) scale(0.95,1)" font-size="14" text-anchor="middle" stroke="#000" stroke-width="0.0" >40</text>
<text transform="translate(246.30,308.60) scale(1.06,1)" font-size="14.3" text-anchor="middle" stroke="#000" stroke-width="0.0" >t [μs]</text>
<text transform="translate(705.60,308.60) scale(1.06,1)" font-size="14.3" text-anchor="middle" stroke="#000" stroke-width="0.0" >x  [nm]</text>
<text transform="translate(35.90,155.30) rotate(-90) scale(1.06,1)" font-size="14.3" text-anchor="middle" stroke="#000" stroke-width="0.0" >x(t) [pm]</text>
<text transform="translate(496.90,155.00) rotate(-90) scale(1.03,1)" font-size="14.3" text-anchor="middle" stroke="#000" stroke-width="0.0" >p(x)</text>
<line x1="781.60" y1="55.10" x2="797.20" y2="55.10" stroke="#c05858" stroke-width="2"/>
<line x1="782.00" y1="69.30" x2="797.00" y2="69.30" stroke="#000" stroke-width="1.2"/>
<text transform="translate(803.80,60.20) scale(1.03,1)" font-size="15" text-anchor="start" stroke="#000" stroke-width="0.0" >&lt;n&gt; = 0</text>
<text transform="translate(803.80,74.60) scale(1.03,1)" font-size="15" text-anchor="start" stroke="#000" stroke-width="0.0" >&lt;n&gt; = 3</text>
</svg>
</body></html>
